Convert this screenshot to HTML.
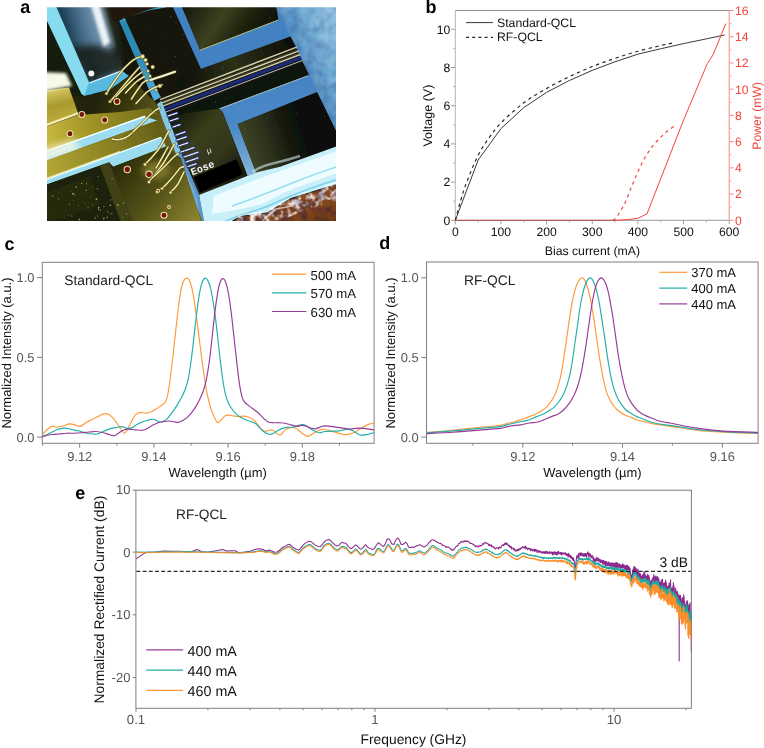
<!DOCTYPE html>
<html><head><meta charset="utf-8"><title>figure</title>
<style>
html,body{margin:0;padding:0;background:#fff;}
svg{display:block;font-family:"Liberation Sans",sans-serif;will-change:transform;}
text{text-rendering:geometricPrecision;}
</style></head><body>
<svg width="764" height="748" viewBox="0 0 764 748">
<rect x="0" y="0" width="764" height="748" fill="#ffffff"/>
<defs>
<clipPath id="clipA"><rect x="47" y="7.2" width="289" height="213.8"/></clipPath>
<filter id="bl1" x="-5%" y="-5%" width="110%" height="110%"><feGaussianBlur stdDeviation="0.7"/></filter>
<filter id="bl2" x="-40%" y="-10%" width="180%" height="120%"><feGaussianBlur stdDeviation="1.8"/></filter>
<filter id="bl3" x="-20%" y="-20%" width="140%" height="140%"><feGaussianBlur stdDeviation="3"/></filter>
<filter id="bl6" x="-30%" y="-30%" width="160%" height="160%"><feGaussianBlur stdDeviation="6"/></filter>
<linearGradient id="gSub" gradientUnits="userSpaceOnUse" x1="287" y1="30" x2="326" y2="11.5"><stop offset="0" stop-color="#4a87bd"/><stop offset="0.3" stop-color="#5f9dcb"/><stop offset="0.7" stop-color="#79b2d8"/><stop offset="1" stop-color="#86bcdd"/></linearGradient>
<linearGradient id="gGoldL" x1="0" y1="0" x2="1" y2="0.4"><stop offset="0" stop-color="#e8d860"/><stop offset="0.35" stop-color="#b9a832"/><stop offset="1" stop-color="#8d8222"/></linearGradient>
<linearGradient id="gOlive" gradientUnits="userSpaceOnUse" x1="118" y1="165" x2="195" y2="222"><stop offset="0" stop-color="#2c2c0a"/><stop offset="0.5" stop-color="#535117"/><stop offset="1" stop-color="#8a8430"/></linearGradient>
<linearGradient id="gPadT" x1="0" y1="0" x2="1" y2="0.3"><stop offset="0" stop-color="#11140a"/><stop offset="0.45" stop-color="#3c4220"/><stop offset="0.7" stop-color="#20240e"/><stop offset="1" stop-color="#0d0f06"/></linearGradient>
<linearGradient id="gPadB" gradientUnits="userSpaceOnUse" x1="238" y1="150" x2="335" y2="120"><stop offset="0" stop-color="#454c2c"/><stop offset="0.3" stop-color="#2c311b"/><stop offset="0.55" stop-color="#12140b"/><stop offset="1" stop-color="#06070a"/></linearGradient>
<linearGradient id="gCu" x1="0" y1="0" x2="1" y2="1"><stop offset="0" stop-color="#b8693a"/><stop offset="0.5" stop-color="#8a4a1f"/><stop offset="1" stop-color="#6b3812"/></linearGradient>
<linearGradient id="gTL" gradientUnits="userSpaceOnUse" x1="56" y1="40" x2="121" y2="22"><stop offset="0" stop-color="#193747"/><stop offset="0.2" stop-color="#1f4257"/><stop offset="0.37" stop-color="#3f6480"/><stop offset="0.55" stop-color="#5f83a0"/><stop offset="0.72" stop-color="#7d9db6"/><stop offset="0.8" stop-color="#5a6f7c"/><stop offset="0.86" stop-color="#22281e"/><stop offset="1" stop-color="#17190d"/></linearGradient>
<linearGradient id="gLB" gradientUnits="userSpaceOnUse" x1="60" y1="100" x2="160" y2="130"><stop offset="0" stop-color="#2a2a0c"/><stop offset="0.3" stop-color="#1f200a"/><stop offset="0.7" stop-color="#403d11"/><stop offset="1" stop-color="#665f1a"/></linearGradient>
<linearGradient id="gBlock" gradientUnits="userSpaceOnUse" x1="40" y1="88" x2="50" y2="128"><stop offset="0" stop-color="#e2d66e"/><stop offset="0.5" stop-color="#a89a2e"/><stop offset="1" stop-color="#c2b240"/></linearGradient>
<linearGradient id="gTr1" gradientUnits="userSpaceOnUse" x1="40" y1="140" x2="160" y2="110"><stop offset="0" stop-color="#cdbe44"/><stop offset="0.4" stop-color="#a39628"/><stop offset="1" stop-color="#6d681a"/></linearGradient>
<linearGradient id="gTr2" gradientUnits="userSpaceOnUse" x1="40" y1="170" x2="165" y2="128"><stop offset="0" stop-color="#b8aa38"/><stop offset="0.5" stop-color="#8f8624"/><stop offset="1" stop-color="#5f5c16"/></linearGradient>
<filter id="grain" x="0" y="0" width="100%" height="100%"><feTurbulence type="fractalNoise" baseFrequency="0.09" numOctaves="3" seed="4" result="n"/><feColorMatrix in="n" type="matrix" values="0 0 0 0 1  0 0 0 0 1  0 0 0 0 1  0 0 0 1.6 -0.55" result="a"/><feComposite in="a" in2="SourceGraphic" operator="in"/></filter>
<filter id="grainD" x="0" y="0" width="100%" height="100%"><feTurbulence type="fractalNoise" baseFrequency="0.12" numOctaves="2" seed="9" result="n"/><feColorMatrix in="n" type="matrix" values="0 0 0 0 0  0 0 0 0 0  0 0 0 0 0.1  0 0 0 1.8 -0.7" result="a"/><feComposite in="a" in2="SourceGraphic" operator="in"/></filter>
<linearGradient id="gMid" gradientUnits="userSpaceOnUse" x1="175" y1="120" x2="235" y2="175"><stop offset="0" stop-color="#1a1d0c"/><stop offset="0.35" stop-color="#3a3e1a"/><stop offset="0.7" stop-color="#33361a"/><stop offset="1" stop-color="#1c1e0e"/></linearGradient>
<linearGradient id="gBand" gradientUnits="userSpaceOnUse" x1="185" y1="85" x2="295" y2="42"><stop offset="0" stop-color="#101208"/><stop offset="0.45" stop-color="#2b3118"/><stop offset="0.75" stop-color="#1a1d0e"/><stop offset="1" stop-color="#0c0d08"/></linearGradient>
<linearGradient id="gTr" gradientUnits="userSpaceOnUse" x1="240" y1="80" x2="252" y2="176"><stop offset="0" stop-color="#4382c2"/><stop offset="0.5" stop-color="#4c8ac8"/><stop offset="0.8" stop-color="#6fa3d0"/><stop offset="1" stop-color="#8ab8e0"/></linearGradient>
<filter id="grain2" x="0" y="0" width="100%" height="100%"><feTurbulence type="fractalNoise" baseFrequency="0.16" numOctaves="2" seed="21" result="n"/><feColorMatrix in="n" type="matrix" values="0 0 0 0 1  0 0 0 0 1  0 0 0 0 1  0 0 0 3.2 -1.35" result="a"/><feComposite in="a" in2="SourceGraphic" operator="in"/></filter>
<linearGradient id="gEdge" gradientUnits="userSpaceOnUse" x1="122" y1="20" x2="158" y2="100"><stop offset="0" stop-color="#2a86b2"/><stop offset="0.5" stop-color="#2f8ebc"/><stop offset="1" stop-color="#56b0de"/></linearGradient>
</defs>
<g id="panel-a" clip-path="url(#clipA)">
<g filter="url(#bl1)">
<rect x="40" y="0" width="305" height="230" fill="#15170a"/>
<polygon points="40,0 175,0 150,9 120,20 123,72 90,96 40,30" fill="url(#gTL)"/>
<polygon points="70,47 98,45 108,50 124,42 124,71 89.1,83.5 80,66" fill="#161c14" opacity="0.85" filter="url(#bl3)"/>
<polygon points="90.5,4 99,4 110,42 103.5,47" fill="#f2f7fb" opacity="0.95" filter="url(#bl2)"/>
<polygon points="40,7 40.4,7 81.5,94 60,110 40,110" fill="#141f0e"/>
<polygon points="107,0 175,0 150,9.2 120.6,20 113,21" fill="#24160a"/>
<circle cx="91.3" cy="73.5" r="3.0" fill="#ffffff" opacity="0.95"/>
<polygon points="39.5,5 55.5,5 89.4,83 84.5,96 81.5,94" fill="#86dcee"/>
<polygon points="89.2,82.6 121.7,70.6 129,76 110,89.5 84,96" fill="#56b9dd"/>
<path d="M89.5 82.9L121 71.2" stroke="#eafaff" stroke-width="1.3" fill="none" opacity="0.85"/>
<polygon points="119.2,21 124.8,17.6 161,97 154,101" fill="url(#gEdge)"/>
<polygon points="120,20.6 149,9.6 166,5 167,7 150,11.4 121,22" fill="#3e9cc4"/>
<polygon points="125,18 150,10 172,7 197,67 160,96" fill="#16190b"/>
<polygon points="181,5 276.5,5 278.4,19.9 199.9,50.3" fill="url(#gPadT)"/>
<polygon points="172,5 181,5 200,50.3 278.4,19.9 276,5 278,5 292,36.2 201,69" fill="#4382c2"/>
<path d="M200 50.3L278.4 19.9" stroke="#c9c98a" stroke-width="0.9" fill="none"/>
<polygon points="275.3,5 345,5 345,150 336,131" fill="url(#gSub)"/>
<polygon points="201,69 290.5,36.6 296,47 180,92 175,80" fill="url(#gBand)"/>
<path d="M160 99.6L297.3 46.9" stroke="#d2cca6" stroke-width="1.5" fill="none"/>
<path d="M160 102L298.3 49.3" stroke="#4a4a30" stroke-width="0.9" fill="none"/>
<path d="M160 103.6L299 50.9" stroke="#d8d2ac" stroke-width="1.5" fill="none"/>
<path d="M160 105.6L299.8 52.9" stroke="#55533a" stroke-width="0.8" fill="none"/>
<path d="M160 107.2L300.3 54.5" stroke="#d2cca6" stroke-width="1.4" fill="none"/>
<path d="M161 110.5L301.2 57.6" stroke="#1b2a7a" stroke-width="3.2" fill="none"/>
<path d="M162 113.5L302 60.6" stroke="#c8cce0" stroke-width="0.9" fill="none"/>
<polygon points="165,116 302.6,62.5 308.8,75.4 218.7,109 215,122 175,135" fill="#101208"/>
<polygon points="218.7,108.5 310.2,74.6 318.4,91.7 237.7,124 256,172.5 247.5,176 222.6,112" fill="url(#gTr)"/>
<path d="M219 109L308 75.8" stroke="#b9c7c0" stroke-width="0.8" fill="none"/>
<polygon points="237.7,124 316.6,92.3 338,135 345,143.2 280,166.8 256,172.5" fill="url(#gPadB)"/>
<polygon points="165,116 219.5,108.5 222.6,112 247.5,176 200,195 190,170" fill="url(#gMid)"/>
<polygon points="199,195 256,172.5 280,166.8 345,143.2 345,182 336,184 291,198 267,212.5 240,216 225,225 204,225" fill="#c9eff8"/>
<polygon points="214,196 258,179 300,164 345,148 345,170 290,190 262,204 236,210 212,214" fill="#f2fdff" opacity="0.92"/>
<path d="M232 206C250 200 275 190 300 180C315 174 330 169 345 164" stroke="#7fd6ee" stroke-width="1.6" fill="none" opacity="0.8"/>
<path d="M224 222C240 214 262 210 275 203C290 196 315 186 345 177" stroke="#6ccbe8" stroke-width="1.6" fill="none" opacity="0.8"/>
<path d="M253 172C262 164 280 163 300 156" stroke="#cfe6ea" stroke-width="2.6" fill="none" opacity="0.6"/>
<polygon points="222,230 240,217 267,213 291,199 336,185 345,182.5 345,230" fill="url(#gCu)"/>
<path d="M262 221L276 209L292 206L301 198" stroke="#f0dcd2" stroke-width="1.6" fill="none" opacity="0.8"/>
<polygon points="157,104 161.5,101 181,152 174,155" fill="#86c8e6"/>
<polygon points="174,155 181,152 199,194 206,230 196,230 186,186" fill="#5c96c8"/>
<path d="M178 155L196 198L201 228" stroke="#86b8dc" stroke-width="1.6" fill="none" opacity="0.8"/>
<polygon points="193.6,177 236.5,159.2 242.8,173.9 199.9,192.7" fill="#000000"/>
<polygon points="40,97 85,96.5 110,90 129,76 156,103 204,225 40,225" fill="url(#gLB)"/>
<polygon points="40,91 69,87.5 78,113 40,127" fill="url(#gBlock)"/>
<polygon points="40,72 66,73 72,86 40,92" fill="#ffffee" opacity="0.97" filter="url(#bl2)"/>
<path d="M40 127.5L78 113.4" stroke="#fff6b8" stroke-width="2.2" fill="none" opacity="0.95"/>
<polygon points="40,129 78,115 120,112 150,108 158,114 144.7,116.5 40,153.6" fill="url(#gTr1)"/>
<polygon points="40,153.4 144.7,116.3 157.3,120.5 40,163" fill="#9bdcf0"/>
<path d="M40 153.4L145 116.2" stroke="#f6ffff" stroke-width="1.5" fill="none"/>
<polygon points="40,150 75,139 80,150 40,164" fill="#fffbe0" opacity="0.75" filter="url(#bl3)"/>
<polygon points="40,163 157.3,120.5 163,137 40,182" fill="url(#gTr2)"/>
<path d="M40 180.6L120 151.5" stroke="#f2ecb0" stroke-width="1.4" fill="none" opacity="0.8"/>
<polygon points="40,181.8 161.5,137.2 166,146.4 113.3,166.8 109,162.2 40,187" fill="#9bdcf0"/>
<path d="M40 181.8L161 137.4" stroke="#f6ffff" stroke-width="1.2" fill="none"/>
<polygon points="109,162.4 113.3,166.8 166,146.4 181,158 204,230 135,230" fill="url(#gOlive)"/>
<ellipse cx="156" cy="170" rx="14" ry="9" fill="#b0a440" opacity="0.5" filter="url(#bl3)"/>
<polygon points="40,187 109,162.4 134,225 40,225" fill="#1d210a"/>
<polygon points="100,166 109,162.4 134,225 122,225" fill="#45471a" opacity="0.9"/>
<polygon points="40,195 90,176 100,205 40,225" fill="#2c3010" opacity="0.7"/>
</g>
<polygon points="275.3,5 345,5 345,150 336,131" fill="#ffffff" filter="url(#grain)" opacity="0.22"/>
<polygon points="275.3,5 345,5 345,150 336,131" fill="#1a4a80" filter="url(#grainD)" opacity="0.2"/>
<polygon points="222,230 240,215 267,210 291,196 336,182 345,179 345,198 300,212 272,225 250,230" fill="#fff6f4" filter="url(#grain2)" opacity="0.95"/>
<polygon points="222,230 240,217 267,213 291,199 336,185 345,182.5 345,230" fill="#3a1a08" filter="url(#grainD)" opacity="0.5"/>
<circle cx="98.59" cy="207.61" r="0.79" fill="#b9b85a" opacity="0.92"/>
<circle cx="107.71" cy="216.27" r="0.37" fill="#b9b85a" opacity="0.71"/>
<circle cx="123.58" cy="203.15" r="0.85" fill="#b9b85a" opacity="0.55"/>
<circle cx="86.59" cy="183.84" r="0.65" fill="#b9b85a" opacity="0.76"/>
<circle cx="71.8" cy="215.98" r="0.77" fill="#b9b85a" opacity="0.57"/>
<circle cx="112.18" cy="178.66" r="0.69" fill="#b9b85a" opacity="0.56"/>
<circle cx="50.14" cy="213.83" r="0.47" fill="#b9b85a" opacity="0.6"/>
<circle cx="126.63" cy="213.88" r="0.51" fill="#b9b85a" opacity="0.93"/>
<circle cx="92.06" cy="204.54" r="0.46" fill="#b9b85a" opacity="0.92"/>
<circle cx="103.87" cy="218.4" r="0.84" fill="#b9b85a" opacity="0.63"/>
<circle cx="73.51" cy="200.95" r="0.35" fill="#b9b85a" opacity="0.81"/>
<circle cx="76.36" cy="186.88" r="0.8" fill="#b9b85a" opacity="0.72"/>
<circle cx="74.63" cy="195.1" r="0.74" fill="#b9b85a" opacity="0.53"/>
<circle cx="108.48" cy="212.55" r="0.36" fill="#b9b85a" opacity="0.85"/>
<circle cx="78.56" cy="199.77" r="0.35" fill="#b9b85a" opacity="0.52"/>
<circle cx="64.11" cy="217.85" r="0.46" fill="#b9b85a" opacity="0.84"/>
<circle cx="122.51" cy="217.22" r="0.54" fill="#b9b85a" opacity="0.66"/>
<circle cx="90.93" cy="209.23" r="0.41" fill="#b9b85a" opacity="0.84"/>
<circle cx="112.18" cy="213.27" r="0.37" fill="#b9b85a" opacity="0.93"/>
<circle cx="97.64" cy="216.07" r="0.54" fill="#b9b85a" opacity="0.92"/>
<circle cx="92.52" cy="187" r="0.52" fill="#b9b85a" opacity="0.58"/>
<circle cx="103.76" cy="219.84" r="0.44" fill="#b9b85a" opacity="0.52"/>
<circle cx="81.66" cy="183.39" r="0.68" fill="#b9b85a" opacity="0.87"/>
<circle cx="85.54" cy="192.24" r="0.38" fill="#b9b85a" opacity="0.91"/>
<circle cx="52.55" cy="195.69" r="0.81" fill="#b9b85a" opacity="0.56"/>
<circle cx="107.07" cy="217.59" r="0.7" fill="#b9b85a" opacity="0.85"/>
<circle cx="58.32" cy="192.86" r="0.43" fill="#b9b85a" opacity="0.88"/>
<circle cx="73" cy="193.75" r="0.9" fill="#b9b85a" opacity="0.88"/>
<circle cx="88.08" cy="207.02" r="0.61" fill="#b9b85a" opacity="0.63"/>
<circle cx="79.41" cy="219.44" r="0.88" fill="#b9b85a" opacity="0.78"/>
<circle cx="88.95" cy="188.25" r="0.4" fill="#b9b85a" opacity="0.62"/>
<circle cx="111" cy="213.63" r="0.55" fill="#b9b85a" opacity="0.85"/>
<circle cx="110.44" cy="205.34" r="0.72" fill="#b9b85a" opacity="0.84"/>
<circle cx="78.35" cy="205.81" r="0.5" fill="#b9b85a" opacity="0.72"/>
<circle cx="110.04" cy="205.16" r="0.51" fill="#b9b85a" opacity="0.93"/>
<circle cx="100.68" cy="199.87" r="0.36" fill="#b9b85a" opacity="0.75"/>
<circle cx="69.55" cy="204.24" r="0.6" fill="#b9b85a" opacity="0.87"/>
<circle cx="100.5" cy="210.29" r="0.54" fill="#b9b85a" opacity="0.79"/>
<circle cx="107.55" cy="211.75" r="0.54" fill="#b9b85a" opacity="0.88"/>
<circle cx="117.85" cy="205.04" r="0.89" fill="#b9b85a" opacity="0.93"/>
<circle cx="90.41" cy="197.41" r="0.44" fill="#b9b85a" opacity="0.88"/>
<circle cx="103.93" cy="206.54" r="0.75" fill="#b9b85a" opacity="0.58"/>
<circle cx="110.87" cy="199.88" r="0.72" fill="#b9b85a" opacity="0.69"/>
<circle cx="98.65" cy="209.19" r="0.7" fill="#b9b85a" opacity="0.82"/>
<circle cx="84.4" cy="203.21" r="0.47" fill="#b9b85a" opacity="0.81"/>
<circle cx="86.78" cy="182.86" r="0.38" fill="#b9b85a" opacity="0.56"/>
<circle cx="86.3" cy="190.25" r="0.69" fill="#b9b85a" opacity="0.77"/>
<circle cx="68.55" cy="215.35" r="0.35" fill="#b9b85a" opacity="0.68"/>
<circle cx="71.73" cy="191.68" r="0.41" fill="#b9b85a" opacity="0.87"/>
<circle cx="97.86" cy="176.55" r="0.65" fill="#b9b85a" opacity="0.65"/>
<circle cx="95.31" cy="218" r="0.8" fill="#b9b85a" opacity="0.69"/>
<circle cx="113.41" cy="202.83" r="0.55" fill="#b9b85a" opacity="0.56"/>
<circle cx="96.48" cy="199.07" r="0.88" fill="#b9b85a" opacity="0.94"/>
<circle cx="97.47" cy="188.85" r="0.84" fill="#b9b85a" opacity="0.5"/>
<circle cx="58.42" cy="199.16" r="0.69" fill="#b9b85a" opacity="0.56"/>
<circle cx="255.89" cy="152.61" r="0.41" fill="#9aa88a" opacity="0.47"/>
<circle cx="175.27" cy="56.64" r="0.59" fill="#9aa88a" opacity="0.45"/>
<circle cx="322.23" cy="156.2" r="0.48" fill="#9aa88a" opacity="0.4"/>
<circle cx="326.2" cy="89.41" r="0.42" fill="#9aa88a" opacity="0.43"/>
<circle cx="326.86" cy="88.68" r="0.39" fill="#9aa88a" opacity="0.49"/>
<circle cx="154.38" cy="109.47" r="0.43" fill="#9aa88a" opacity="0.42"/>
<circle cx="286.34" cy="142.29" r="0.3" fill="#9aa88a" opacity="0.51"/>
<circle cx="184.76" cy="159.64" r="0.53" fill="#9aa88a" opacity="0.4"/>
<circle cx="183.54" cy="34.76" r="0.6" fill="#9aa88a" opacity="0.42"/>
<circle cx="251.61" cy="85.94" r="0.49" fill="#9aa88a" opacity="0.54"/>
<circle cx="278.69" cy="28.91" r="0.53" fill="#9aa88a" opacity="0.42"/>
<circle cx="236.7" cy="63.78" r="0.39" fill="#9aa88a" opacity="0.51"/>
<circle cx="222.87" cy="67.77" r="0.52" fill="#9aa88a" opacity="0.54"/>
<circle cx="137.29" cy="50.39" r="0.44" fill="#9aa88a" opacity="0.67"/>
<circle cx="307.59" cy="97.29" r="0.3" fill="#9aa88a" opacity="0.61"/>
<circle cx="215.55" cy="102.1" r="0.51" fill="#9aa88a" opacity="0.55"/>
<circle cx="226.38" cy="155.87" r="0.42" fill="#9aa88a" opacity="0.46"/>
<circle cx="300.38" cy="41.43" r="0.39" fill="#9aa88a" opacity="0.63"/>
<circle cx="143.21" cy="143.8" r="0.51" fill="#9aa88a" opacity="0.47"/>
<circle cx="187.27" cy="134.92" r="0.57" fill="#9aa88a" opacity="0.36"/>
<circle cx="225.68" cy="97.86" r="0.45" fill="#9aa88a" opacity="0.43"/>
<circle cx="160.71" cy="103.74" r="0.54" fill="#9aa88a" opacity="0.33"/>
<circle cx="176" cy="141.13" r="0.54" fill="#9aa88a" opacity="0.57"/>
<circle cx="135.11" cy="125.62" r="0.59" fill="#9aa88a" opacity="0.7"/>
<circle cx="270.25" cy="17.82" r="0.55" fill="#9aa88a" opacity="0.39"/>
<circle cx="259.15" cy="162.36" r="0.51" fill="#9aa88a" opacity="0.35"/>
<circle cx="188.5" cy="156.88" r="0.34" fill="#9aa88a" opacity="0.54"/>
<circle cx="212.79" cy="35.79" r="0.49" fill="#9aa88a" opacity="0.32"/>
<circle cx="151.64" cy="70.67" r="0.32" fill="#9aa88a" opacity="0.32"/>
<circle cx="245.05" cy="128.77" r="0.56" fill="#9aa88a" opacity="0.35"/>
<circle cx="216.33" cy="60.33" r="0.48" fill="#9aa88a" opacity="0.5"/>
<circle cx="317.71" cy="69.87" r="0.32" fill="#9aa88a" opacity="0.58"/>
<circle cx="160.22" cy="111.02" r="0.45" fill="#9aa88a" opacity="0.66"/>
<circle cx="240.98" cy="109.34" r="0.38" fill="#9aa88a" opacity="0.52"/>
<circle cx="180.84" cy="130.09" r="0.46" fill="#9aa88a" opacity="0.35"/>
<circle cx="176.88" cy="69.39" r="0.52" fill="#9aa88a" opacity="0.37"/>
<circle cx="272.66" cy="114.8" r="0.33" fill="#9aa88a" opacity="0.57"/>
<circle cx="148.24" cy="29.97" r="0.48" fill="#9aa88a" opacity="0.4"/>
<circle cx="305.39" cy="86.87" r="0.4" fill="#9aa88a" opacity="0.62"/>
<circle cx="135.89" cy="126" r="0.32" fill="#9aa88a" opacity="0.36"/>
<circle cx="320.41" cy="118.98" r="0.37" fill="#9aa88a" opacity="0.35"/>
<circle cx="324.54" cy="116.41" r="0.55" fill="#9aa88a" opacity="0.36"/>
<circle cx="254.96" cy="66.69" r="0.37" fill="#9aa88a" opacity="0.43"/>
<circle cx="252.75" cy="65.79" r="0.42" fill="#9aa88a" opacity="0.35"/>
<circle cx="296.22" cy="113.66" r="0.54" fill="#9aa88a" opacity="0.47"/>
<circle cx="300.32" cy="92.8" r="0.48" fill="#9aa88a" opacity="0.53"/>
<circle cx="278.03" cy="73.28" r="0.33" fill="#9aa88a" opacity="0.31"/>
<circle cx="170.48" cy="16.31" r="0.57" fill="#9aa88a" opacity="0.49"/>
<circle cx="282.07" cy="10.07" r="0.44" fill="#9aa88a" opacity="0.66"/>
<circle cx="253.89" cy="78.58" r="0.44" fill="#9aa88a" opacity="0.34"/>
<circle cx="160.93" cy="35.45" r="0.41" fill="#9aa88a" opacity="0.45"/>
<circle cx="306.07" cy="34.34" r="0.38" fill="#9aa88a" opacity="0.41"/>
<circle cx="162.31" cy="55.93" r="0.37" fill="#9aa88a" opacity="0.49"/>
<circle cx="136.42" cy="157.92" r="0.41" fill="#9aa88a" opacity="0.68"/>
<circle cx="267.54" cy="117.81" r="0.44" fill="#9aa88a" opacity="0.68"/>
<circle cx="153.58" cy="116.97" r="0.39" fill="#9aa88a" opacity="0.57"/>
<circle cx="275.86" cy="36.12" r="0.36" fill="#9aa88a" opacity="0.31"/>
<circle cx="176.09" cy="22.51" r="0.42" fill="#9aa88a" opacity="0.69"/>
<circle cx="202.85" cy="59.89" r="0.44" fill="#9aa88a" opacity="0.41"/>
<circle cx="276.47" cy="124.87" r="0.35" fill="#9aa88a" opacity="0.4"/>
<circle cx="117" cy="101.5" r="3" fill="#7a1410" stroke="#e8e0a0" stroke-width="1.1"/>
<circle cx="81.8" cy="114.5" r="3" fill="#7a1410" stroke="#e8e0a0" stroke-width="1.1"/>
<circle cx="104.7" cy="120" r="3" fill="#7a1410" stroke="#e8e0a0" stroke-width="1.1"/>
<circle cx="70" cy="133.8" r="3" fill="#7a1410" stroke="#e8e0a0" stroke-width="1.1"/>
<circle cx="127.3" cy="169.5" r="3.2" fill="#7a1410" stroke="#e8e0a0" stroke-width="1.1"/>
<circle cx="149" cy="174.3" r="3.2" fill="#7a1410" stroke="#e8e0a0" stroke-width="1.1"/>
<circle cx="164" cy="215.3" r="3" fill="#7a1410" stroke="#e8e0a0" stroke-width="1.1"/>
<circle cx="158" cy="191" r="1.6" fill="#7a1410" stroke="#e8e0a0" stroke-width="1.1"/>
<circle cx="169" cy="207" r="1.4" fill="#7a1410" stroke="#e8e0a0" stroke-width="1.1"/>
<path d="M106.8 93C111 86 115 80 118.6 75.3C122 70 126 66 130.3 62.4C134 59 138 57 142 56.5" stroke="#4a4210" stroke-width="2.8" fill="none" opacity="0.65" stroke-linecap="round"/>
<path d="M106.8 93C111 86 115 80 118.6 75.3C122 70 126 66 130.3 62.4C134 59 138 57 142 56.5" stroke="#e9dc8a" stroke-width="1.5" fill="none" stroke-linecap="round"/>
<path d="M106.8 93C111 86 115 80 118.6 75.3C122 70 126 66 130.3 62.4C134 59 138 57 142 56.5" stroke="#fffbe0" stroke-width="0.6" fill="none" stroke-linecap="round" opacity="0.9"/>
<path d="M110.3 101.2C115 96 120 90 124.4 84.8C130 78 135 72 139.8 67" stroke="#4a4210" stroke-width="2.8" fill="none" opacity="0.65" stroke-linecap="round"/>
<path d="M110.3 101.2C115 96 120 90 124.4 84.8C130 78 135 72 139.8 67" stroke="#e9dc8a" stroke-width="1.5" fill="none" stroke-linecap="round"/>
<path d="M110.3 101.2C115 96 120 90 124.4 84.8C130 78 135 72 139.8 67" stroke="#fffbe0" stroke-width="0.6" fill="none" stroke-linecap="round" opacity="0.9"/>
<path d="M116 96.5C121 91 126 86 130 82C134 78 138 75 142 72" stroke="#4a4210" stroke-width="2.8" fill="none" opacity="0.65" stroke-linecap="round"/>
<path d="M116 96.5C121 91 126 86 130 82C134 78 138 75 142 72" stroke="#e9dc8a" stroke-width="1.5" fill="none" stroke-linecap="round"/>
<path d="M116 96.5C121 91 126 86 130 82C134 78 138 75 142 72" stroke="#fffbe0" stroke-width="0.6" fill="none" stroke-linecap="round" opacity="0.9"/>
<path d="M125.6 93C129 89 133 85 136 82C139 79.5 142 78 144.5 76.5" stroke="#4a4210" stroke-width="2.8" fill="none" opacity="0.65" stroke-linecap="round"/>
<path d="M125.6 93C129 89 133 85 136 82C139 79.5 142 78 144.5 76.5" stroke="#e9dc8a" stroke-width="1.5" fill="none" stroke-linecap="round"/>
<path d="M125.6 93C129 89 133 85 136 82C139 79.5 142 78 144.5 76.5" stroke="#fffbe0" stroke-width="0.6" fill="none" stroke-linecap="round" opacity="0.9"/>
<path d="M131.5 99C135 93 139 88 142 83.6C144 81.5 146 80.5 148 80" stroke="#4a4210" stroke-width="2.8" fill="none" opacity="0.65" stroke-linecap="round"/>
<path d="M131.5 99C135 93 139 88 142 83.6C144 81.5 146 80.5 148 80" stroke="#e9dc8a" stroke-width="1.5" fill="none" stroke-linecap="round"/>
<path d="M131.5 99C135 93 139 88 142 83.6C144 81.5 146 80.5 148 80" stroke="#fffbe0" stroke-width="0.6" fill="none" stroke-linecap="round" opacity="0.9"/>
<path d="M136 103.6C140 99 144 95 147 92C150 89.5 153 88 156 87C158 86 160 85.4 162 84.8" stroke="#4a4210" stroke-width="2.8" fill="none" opacity="0.65" stroke-linecap="round"/>
<path d="M136 103.6C140 99 144 95 147 92C150 89.5 153 88 156 87C158 86 160 85.4 162 84.8" stroke="#e9dc8a" stroke-width="1.5" fill="none" stroke-linecap="round"/>
<path d="M136 103.6C140 99 144 95 147 92C150 89.5 153 88 156 87C158 86 160 85.4 162 84.8" stroke="#fffbe0" stroke-width="0.6" fill="none" stroke-linecap="round" opacity="0.9"/>
<path d="M125 138.8C130 135 134 131 138.4 126.7C143 122 148 117 151.7 113.4C154 111 157 109 159.8 108" stroke="#4a4210" stroke-width="2.8" fill="none" opacity="0.65" stroke-linecap="round"/>
<path d="M125 138.8C130 135 134 131 138.4 126.7C143 122 148 117 151.7 113.4C154 111 157 109 159.8 108" stroke="#e9dc8a" stroke-width="1.5" fill="none" stroke-linecap="round"/>
<path d="M125 138.8C130 135 134 131 138.4 126.7C143 122 148 117 151.7 113.4C154 111 157 109 159.8 108" stroke="#fffbe0" stroke-width="0.6" fill="none" stroke-linecap="round" opacity="0.9"/>
<path d="M112 139C118 141 126 139 132 133" stroke="#4a4210" stroke-width="2.8" fill="none" opacity="0.65" stroke-linecap="round"/>
<path d="M112 139C118 141 126 139 132 133" stroke="#e9dc8a" stroke-width="1.5" fill="none" stroke-linecap="round"/>
<path d="M112 139C118 141 126 139 132 133" stroke="#fffbe0" stroke-width="0.6" fill="none" stroke-linecap="round" opacity="0.9"/>
<path d="M145 164C150 160 154 155 158 150C161 146 164 140 166 136C167 134 168 132 169 130.7" stroke="#4a4210" stroke-width="2.8" fill="none" opacity="0.65" stroke-linecap="round"/>
<path d="M145 164C150 160 154 155 158 150C161 146 164 140 166 136C167 134 168 132 169 130.7" stroke="#e9dc8a" stroke-width="1.5" fill="none" stroke-linecap="round"/>
<path d="M145 164C150 160 154 155 158 150C161 146 164 140 166 136C167 134 168 132 169 130.7" stroke="#fffbe0" stroke-width="0.6" fill="none" stroke-linecap="round" opacity="0.9"/>
<path d="M149 181.5C153 177 157 172 160 168C164 163 167 157 170 152C171.5 149 173 146 174.5 144" stroke="#4a4210" stroke-width="2.8" fill="none" opacity="0.65" stroke-linecap="round"/>
<path d="M149 181.5C153 177 157 172 160 168C164 163 167 157 170 152C171.5 149 173 146 174.5 144" stroke="#e9dc8a" stroke-width="1.5" fill="none" stroke-linecap="round"/>
<path d="M149 181.5C153 177 157 172 160 168C164 163 167 157 170 152C171.5 149 173 146 174.5 144" stroke="#fffbe0" stroke-width="0.6" fill="none" stroke-linecap="round" opacity="0.9"/>
<path d="M152 178C157 174 161 170 165 166C169 162 172 158.5 175 156C176 155 177.5 154 178.5 153.5" stroke="#4a4210" stroke-width="2.8" fill="none" opacity="0.65" stroke-linecap="round"/>
<path d="M152 178C157 174 161 170 165 166C169 162 172 158.5 175 156C176 155 177.5 154 178.5 153.5" stroke="#e9dc8a" stroke-width="1.5" fill="none" stroke-linecap="round"/>
<path d="M152 178C157 174 161 170 165 166C169 162 172 158.5 175 156C176 155 177.5 154 178.5 153.5" stroke="#fffbe0" stroke-width="0.6" fill="none" stroke-linecap="round" opacity="0.9"/>
<path d="M162.4 188C166 185 169 181.5 172 178C175 174.5 178 170.5 180 168C181 167.3 182.5 167 183.8 166.8" stroke="#4a4210" stroke-width="2.8" fill="none" opacity="0.65" stroke-linecap="round"/>
<path d="M162.4 188C166 185 169 181.5 172 178C175 174.5 178 170.5 180 168C181 167.3 182.5 167 183.8 166.8" stroke="#e9dc8a" stroke-width="1.5" fill="none" stroke-linecap="round"/>
<path d="M162.4 188C166 185 169 181.5 172 178C175 174.5 178 170.5 180 168C181 167.3 182.5 167 183.8 166.8" stroke="#fffbe0" stroke-width="0.6" fill="none" stroke-linecap="round" opacity="0.9"/>
<path d="M170.5 192C173 190 176 187 178 184C180 180.5 182 176 184 172" stroke="#4a4210" stroke-width="2.8" fill="none" opacity="0.65" stroke-linecap="round"/>
<path d="M170.5 192C173 190 176 187 178 184C180 180.5 182 176 184 172" stroke="#e9dc8a" stroke-width="1.5" fill="none" stroke-linecap="round"/>
<path d="M170.5 192C173 190 176 187 178 184C180 180.5 182 176 184 172" stroke="#fffbe0" stroke-width="0.6" fill="none" stroke-linecap="round" opacity="0.9"/>
<path d="M156 168C160 162 164 154 168 147" stroke="#4a4210" stroke-width="2.8" fill="none" opacity="0.65" stroke-linecap="round"/>
<path d="M156 168C160 162 164 154 168 147" stroke="#e9dc8a" stroke-width="1.5" fill="none" stroke-linecap="round"/>
<path d="M156 168C160 162 164 154 168 147" stroke="#fffbe0" stroke-width="0.6" fill="none" stroke-linecap="round" opacity="0.9"/>
<path d="M150.4 80C158 77.5 166 75 175 71.8" stroke="#4a4210" stroke-width="3.6" fill="none" opacity="0.6" stroke-linecap="round"/>
<path d="M150.4 80C158 77.5 166 75 175 71.8" stroke="#f8f2d0" stroke-width="2.2" fill="none" stroke-linecap="round"/>
<circle cx="142.5" cy="56.5" r="2.2" fill="#f3e9a8" stroke="#5a4f14" stroke-width="0.6"/>
<circle cx="145.5" cy="60" r="2" fill="#f3e9a8" stroke="#5a4f14" stroke-width="0.6"/>
<circle cx="147" cy="64" r="1.8" fill="#f3e9a8" stroke="#5a4f14" stroke-width="0.6"/>
<circle cx="152.7" cy="67" r="2" fill="#f3e9a8" stroke="#5a4f14" stroke-width="0.6"/>
<circle cx="148" cy="71" r="1.6" fill="#f3e9a8" stroke="#5a4f14" stroke-width="0.6"/>
<circle cx="150" cy="76" r="1.6" fill="#f3e9a8" stroke="#5a4f14" stroke-width="0.6"/>
<circle cx="159.8" cy="86" r="2" fill="#f3e9a8" stroke="#5a4f14" stroke-width="0.6"/>
<circle cx="156" cy="90" r="1.5" fill="#f3e9a8" stroke="#5a4f14" stroke-width="0.6"/>
<circle cx="106.5" cy="93.5" r="1.6" fill="#f3e9a8" stroke="#5a4f14" stroke-width="0.6"/>
<circle cx="110" cy="101.5" r="1.6" fill="#f3e9a8" stroke="#5a4f14" stroke-width="0.6"/>
<circle cx="145" cy="164.5" r="1.7" fill="#f3e9a8" stroke="#5a4f14" stroke-width="0.6"/>
<circle cx="149" cy="182" r="1.7" fill="#f3e9a8" stroke="#5a4f14" stroke-width="0.6"/>
<circle cx="162" cy="188.5" r="1.6" fill="#f3e9a8" stroke="#5a4f14" stroke-width="0.6"/>
<circle cx="170.5" cy="192.5" r="1.5" fill="#f3e9a8" stroke="#5a4f14" stroke-width="0.6"/>
<circle cx="157" cy="192" r="1.6" fill="#f3e9a8" stroke="#5a4f14" stroke-width="0.6"/>
<path d="M168 116l9 -3.06" stroke="#1c2c88" stroke-width="3.4" fill="none" opacity="0.7" stroke-linecap="round"/>
<path d="M168 116l9 -3.06" stroke="#eef2fa" stroke-width="1.3" fill="none" stroke-dasharray="3 1.2 1.6 1" stroke-linecap="round"/>
<path d="M170 121l8 -2.72" stroke="#1c2c88" stroke-width="3.4" fill="none" opacity="0.7" stroke-linecap="round"/>
<path d="M170 121l8 -2.72" stroke="#eef2fa" stroke-width="1.3" fill="none" stroke-dasharray="3 1.2 1.6 1" stroke-linecap="round"/>
<path d="M173 127l7 -2.38" stroke="#1c2c88" stroke-width="3.4" fill="none" opacity="0.7" stroke-linecap="round"/>
<path d="M173 127l7 -2.38" stroke="#eef2fa" stroke-width="1.3" fill="none" stroke-dasharray="3 1.2 1.6 1" stroke-linecap="round"/>
<path d="M176 135l9 -3.06" stroke="#1c2c88" stroke-width="3.4" fill="none" opacity="0.7" stroke-linecap="round"/>
<path d="M176 135l9 -3.06" stroke="#eef2fa" stroke-width="1.3" fill="none" stroke-dasharray="3 1.2 1.6 1" stroke-linecap="round"/>
<path d="M177 140l10 -3.4" stroke="#1c2c88" stroke-width="3.4" fill="none" opacity="0.7" stroke-linecap="round"/>
<path d="M177 140l10 -3.4" stroke="#eef2fa" stroke-width="1.3" fill="none" stroke-dasharray="3 1.2 1.6 1" stroke-linecap="round"/>
<path d="M178.5 146l10 -3.4" stroke="#1c2c88" stroke-width="3.4" fill="none" opacity="0.7" stroke-linecap="round"/>
<path d="M178.5 146l10 -3.4" stroke="#eef2fa" stroke-width="1.3" fill="none" stroke-dasharray="3 1.2 1.6 1" stroke-linecap="round"/>
<path d="M181 152l13 -4.42" stroke="#1c2c88" stroke-width="3.4" fill="none" opacity="0.7" stroke-linecap="round"/>
<path d="M181 152l13 -4.42" stroke="#eef2fa" stroke-width="1.3" fill="none" stroke-dasharray="3 1.2 1.6 1" stroke-linecap="round"/>
<path d="M184 157l14 -4.76" stroke="#1c2c88" stroke-width="3.4" fill="none" opacity="0.7" stroke-linecap="round"/>
<path d="M184 157l14 -4.76" stroke="#eef2fa" stroke-width="1.3" fill="none" stroke-dasharray="3 1.2 1.6 1" stroke-linecap="round"/>
<path d="M186 162l12 -4.08" stroke="#1c2c88" stroke-width="3.4" fill="none" opacity="0.7" stroke-linecap="round"/>
<path d="M186 162l12 -4.08" stroke="#eef2fa" stroke-width="1.3" fill="none" stroke-dasharray="3 1.2 1.6 1" stroke-linecap="round"/>
<path d="M188 166.5l8 -2.72" stroke="#1c2c88" stroke-width="3.4" fill="none" opacity="0.7" stroke-linecap="round"/>
<path d="M188 166.5l8 -2.72" stroke="#eef2fa" stroke-width="1.3" fill="none" stroke-dasharray="3 1.2 1.6 1" stroke-linecap="round"/>
<text x="192.3" y="175.4" font-size="10.2" fill="#f4f4f8" font-weight="bold" font-family='"Liberation Mono", monospace' transform="rotate(-21 192.3 175.4)" letter-spacing="0">Eose</text>
<text x="207.6" y="153.8" font-size="8" fill="#e8e8ee" font-family='"Liberation Mono", monospace' transform="rotate(-18 207.6 153.8)">µ</text>
</g>
<text x="20.3" y="13.3" font-size="18" fill="#000" text-anchor="start" font-weight="bold">a</text>
<g id="panel-b">
<line x1="455.3" y1="10.5" x2="729.2" y2="10.5" stroke="#8c8c8c" stroke-width="1"/>
<line x1="455.3" y1="10.5" x2="455.3" y2="220.3" stroke="#b4b4b4" stroke-width="1"/>
<line x1="455.3" y1="220.3" x2="729.2" y2="220.3" stroke="#9a9a9a" stroke-width="1"/>
<line x1="729.2" y1="10.5" x2="729.2" y2="220.3" stroke="#f58a85" stroke-width="1"/>
<line x1="450.9" y1="220.3" x2="455.3" y2="220.3" stroke="#a0a0a0" stroke-width="1"/>
<text x="450.4" y="224.6" font-size="12.2" fill="#111" text-anchor="end" font-weight="normal">0</text>
<line x1="453.1" y1="201.2" x2="455.3" y2="201.2" stroke="#b4b4b4" stroke-width="1"/>
<line x1="450.9" y1="182.1" x2="455.3" y2="182.1" stroke="#a0a0a0" stroke-width="1"/>
<text x="450.4" y="186.4" font-size="12.2" fill="#111" text-anchor="end" font-weight="normal">2</text>
<line x1="453.1" y1="163" x2="455.3" y2="163" stroke="#b4b4b4" stroke-width="1"/>
<line x1="450.9" y1="143.9" x2="455.3" y2="143.9" stroke="#a0a0a0" stroke-width="1"/>
<text x="450.4" y="148.2" font-size="12.2" fill="#111" text-anchor="end" font-weight="normal">4</text>
<line x1="453.1" y1="124.8" x2="455.3" y2="124.8" stroke="#b4b4b4" stroke-width="1"/>
<line x1="450.9" y1="105.7" x2="455.3" y2="105.7" stroke="#a0a0a0" stroke-width="1"/>
<text x="450.4" y="110" font-size="12.2" fill="#111" text-anchor="end" font-weight="normal">6</text>
<line x1="453.1" y1="86.6" x2="455.3" y2="86.6" stroke="#b4b4b4" stroke-width="1"/>
<line x1="450.9" y1="67.5" x2="455.3" y2="67.5" stroke="#a0a0a0" stroke-width="1"/>
<text x="450.4" y="71.8" font-size="12.2" fill="#111" text-anchor="end" font-weight="normal">8</text>
<line x1="453.1" y1="48.4" x2="455.3" y2="48.4" stroke="#b4b4b4" stroke-width="1"/>
<line x1="450.9" y1="29.3" x2="455.3" y2="29.3" stroke="#a0a0a0" stroke-width="1"/>
<text x="450.4" y="33.6" font-size="12.2" fill="#111" text-anchor="end" font-weight="normal">10</text>
<line x1="455.3" y1="220.3" x2="455.3" y2="224.3" stroke="#a0a0a0" stroke-width="1"/>
<text x="455.3" y="235.8" font-size="12.2" fill="#111" text-anchor="middle" font-weight="normal">0</text>
<line x1="478.12" y1="220.3" x2="478.12" y2="222.5" stroke="#b4b4b4" stroke-width="1"/>
<line x1="500.95" y1="220.3" x2="500.95" y2="224.3" stroke="#a0a0a0" stroke-width="1"/>
<text x="500.95" y="235.8" font-size="12.2" fill="#111" text-anchor="middle" font-weight="normal">100</text>
<line x1="523.77" y1="220.3" x2="523.77" y2="222.5" stroke="#b4b4b4" stroke-width="1"/>
<line x1="546.6" y1="220.3" x2="546.6" y2="224.3" stroke="#a0a0a0" stroke-width="1"/>
<text x="546.6" y="235.8" font-size="12.2" fill="#111" text-anchor="middle" font-weight="normal">200</text>
<line x1="569.43" y1="220.3" x2="569.43" y2="222.5" stroke="#b4b4b4" stroke-width="1"/>
<line x1="592.25" y1="220.3" x2="592.25" y2="224.3" stroke="#a0a0a0" stroke-width="1"/>
<text x="592.25" y="235.8" font-size="12.2" fill="#111" text-anchor="middle" font-weight="normal">300</text>
<line x1="615.08" y1="220.3" x2="615.08" y2="222.5" stroke="#b4b4b4" stroke-width="1"/>
<line x1="637.9" y1="220.3" x2="637.9" y2="224.3" stroke="#a0a0a0" stroke-width="1"/>
<text x="637.9" y="235.8" font-size="12.2" fill="#111" text-anchor="middle" font-weight="normal">400</text>
<line x1="660.73" y1="220.3" x2="660.73" y2="222.5" stroke="#b4b4b4" stroke-width="1"/>
<line x1="683.55" y1="220.3" x2="683.55" y2="224.3" stroke="#a0a0a0" stroke-width="1"/>
<text x="683.55" y="235.8" font-size="12.2" fill="#111" text-anchor="middle" font-weight="normal">500</text>
<line x1="706.38" y1="220.3" x2="706.38" y2="222.5" stroke="#b4b4b4" stroke-width="1"/>
<line x1="729.2" y1="220.3" x2="729.2" y2="224.3" stroke="#a0a0a0" stroke-width="1"/>
<text x="729.2" y="235.8" font-size="12.2" fill="#111" text-anchor="middle" font-weight="normal">600</text>
<line x1="729.2" y1="220.3" x2="733.6" y2="220.3" stroke="#f58a85" stroke-width="1"/>
<text x="735.1" y="224.7" font-size="12.2" fill="#f4433c" text-anchor="start" font-weight="normal">0</text>
<line x1="729.2" y1="207.19" x2="731.4" y2="207.19" stroke="#f7a29e" stroke-width="1"/>
<line x1="729.2" y1="194.08" x2="733.6" y2="194.08" stroke="#f58a85" stroke-width="1"/>
<text x="735.1" y="198.48" font-size="12.2" fill="#f4433c" text-anchor="start" font-weight="normal">2</text>
<line x1="729.2" y1="180.96" x2="731.4" y2="180.96" stroke="#f7a29e" stroke-width="1"/>
<line x1="729.2" y1="167.85" x2="733.6" y2="167.85" stroke="#f58a85" stroke-width="1"/>
<text x="735.1" y="172.25" font-size="12.2" fill="#f4433c" text-anchor="start" font-weight="normal">4</text>
<line x1="729.2" y1="154.74" x2="731.4" y2="154.74" stroke="#f7a29e" stroke-width="1"/>
<line x1="729.2" y1="141.62" x2="733.6" y2="141.62" stroke="#f58a85" stroke-width="1"/>
<text x="735.1" y="146.03" font-size="12.2" fill="#f4433c" text-anchor="start" font-weight="normal">6</text>
<line x1="729.2" y1="128.51" x2="731.4" y2="128.51" stroke="#f7a29e" stroke-width="1"/>
<line x1="729.2" y1="115.4" x2="733.6" y2="115.4" stroke="#f58a85" stroke-width="1"/>
<text x="735.1" y="119.8" font-size="12.2" fill="#f4433c" text-anchor="start" font-weight="normal">8</text>
<line x1="729.2" y1="102.29" x2="731.4" y2="102.29" stroke="#f7a29e" stroke-width="1"/>
<line x1="729.2" y1="89.18" x2="733.6" y2="89.18" stroke="#f58a85" stroke-width="1"/>
<text x="735.1" y="93.58" font-size="12.2" fill="#f4433c" text-anchor="start" font-weight="normal">10</text>
<line x1="729.2" y1="76.06" x2="731.4" y2="76.06" stroke="#f7a29e" stroke-width="1"/>
<line x1="729.2" y1="62.95" x2="733.6" y2="62.95" stroke="#f58a85" stroke-width="1"/>
<text x="735.1" y="67.35" font-size="12.2" fill="#f4433c" text-anchor="start" font-weight="normal">12</text>
<line x1="729.2" y1="49.84" x2="731.4" y2="49.84" stroke="#f7a29e" stroke-width="1"/>
<line x1="729.2" y1="36.72" x2="733.6" y2="36.72" stroke="#f58a85" stroke-width="1"/>
<text x="735.1" y="41.12" font-size="12.2" fill="#f4433c" text-anchor="start" font-weight="normal">14</text>
<line x1="729.2" y1="23.61" x2="731.4" y2="23.61" stroke="#f7a29e" stroke-width="1"/>
<line x1="729.2" y1="10.5" x2="733.6" y2="10.5" stroke="#f58a85" stroke-width="1"/>
<text x="735.1" y="14.9" font-size="12.2" fill="#f4433c" text-anchor="start" font-weight="normal">16</text>
<text x="432.2" y="115.6" font-size="12.5" fill="#111" text-anchor="middle" font-weight="normal" transform="rotate(-90 432.2 115.6)">Voltage (V)</text>
<text x="761" y="115.8" font-size="12.2" fill="#f4433c" text-anchor="middle" font-weight="normal" transform="rotate(-90 761 115.8)">Power (mW)</text>
<text x="592.4" y="255.3" font-size="12.25" fill="#111" text-anchor="middle" font-weight="normal">Bias current (mA)</text>
<text x="425.5" y="13" font-size="18" fill="#000" text-anchor="start" font-weight="bold">b</text>
<path d="M455.3 220.3L478.12 160.13L500.95 128.62L523.77 107.61L546.6 92.33L569.43 80.49L592.25 70.37L615.08 61.77L637.9 54.13L660.73 48.78L683.55 43.62L706.38 38.85L724.63 35.03" fill="none" stroke="#3a3a3a" stroke-width="1"/>
<path d="M455.3 220.3C456.21 216.96 458.88 206.61 460.78 200.25C462.68 193.88 463.82 189.58 466.71 182.1C469.6 174.62 474.32 162.84 478.12 155.36C481.93 147.88 485.73 142.63 489.54 137.22C493.34 131.8 495.24 128.62 500.95 122.89C506.66 117.16 516.17 108.56 523.77 102.83C531.38 97.1 538.99 92.87 546.6 88.51C554.21 84.15 561.82 80.33 569.43 76.67C577.03 73.01 584.64 69.6 592.25 66.54C599.86 63.49 607.47 60.88 615.08 58.33C622.68 55.79 630.29 53.4 637.9 51.27C645.51 49.13 654.64 46.97 660.73 45.53C666.81 44.1 672.14 43.15 674.42 42.67" fill="none" stroke="#2a2a2a" stroke-width="1.2" stroke-dasharray="3.3 3.6"/>
<path d="M615.08 220.3L628.77 219.51L637.9 218.33L647.03 213.74L683.55 120.12L707.29 63.61L710.03 59.67L713.22 54.43L725.82 23.61" fill="none" stroke="#f4433c" stroke-width="1"/>
<path d="M612.79 220.3C613.33 219.86 614.09 220.3 615.99 217.68C617.89 215.06 621.85 209.15 624.21 204.56C626.56 199.98 628.24 194.73 630.14 190.14C632.04 185.55 633.72 181.4 635.62 177.03C637.52 172.66 639.65 167.7 641.55 163.92C643.45 160.14 645.2 157.29 647.03 154.34C648.86 151.39 650.61 148.68 652.51 146.21C654.41 143.74 656.46 141.6 658.44 139.53C660.42 137.45 662.47 135.48 664.38 133.76C666.28 132.03 667.95 130.59 669.86 129.17C671.76 127.75 674.8 125.89 675.79 125.23" fill="none" stroke="#f4433c" stroke-width="1.2" stroke-dasharray="3.3 3.6"/>
<line x1="455.3" y1="220.3" x2="615.53" y2="220.3" stroke="#b04a46" stroke-width="1.0"/>
<line x1="466" y1="22.6" x2="493" y2="22.6" stroke="#3a3a3a" stroke-width="1"/>
<line x1="466" y1="37.4" x2="493" y2="37.4" stroke="#2a2a2a" stroke-width="1.2" stroke-dasharray="3 3.2"/>
<text x="497" y="26.7" font-size="12.25" fill="#111" text-anchor="start" font-weight="normal">Standard-QCL</text>
<text x="497" y="41.4" font-size="12.25" fill="#111" text-anchor="start" font-weight="normal">RF-QCL</text>
</g>
<rect x="42.3" y="262.3" width="331.8" height="181" fill="none" stroke="#7f7f7f" stroke-width="1"/>
<line x1="37.1" y1="277.6" x2="42.3" y2="277.6" stroke="#7f7f7f" stroke-width="1"/>
<text x="34.4" y="282.2" font-size="12.9" fill="#555555" text-anchor="end" font-weight="normal">1.0</text>
<line x1="37.1" y1="357.35" x2="42.3" y2="357.35" stroke="#7f7f7f" stroke-width="1"/>
<text x="34.4" y="361.95" font-size="12.9" fill="#555555" text-anchor="end" font-weight="normal">0.5</text>
<line x1="37.1" y1="437.1" x2="42.3" y2="437.1" stroke="#7f7f7f" stroke-width="1"/>
<text x="34.4" y="441.7" font-size="12.9" fill="#555555" text-anchor="end" font-weight="normal">0.0</text>
<line x1="79.7" y1="443.3" x2="79.7" y2="447.6" stroke="#7f7f7f" stroke-width="1"/>
<line x1="153.9" y1="443.3" x2="153.9" y2="447.6" stroke="#7f7f7f" stroke-width="1"/>
<line x1="228.1" y1="443.3" x2="228.1" y2="447.6" stroke="#7f7f7f" stroke-width="1"/>
<line x1="302.3" y1="443.3" x2="302.3" y2="447.6" stroke="#7f7f7f" stroke-width="1"/>
<line x1="42.6" y1="443.3" x2="42.6" y2="445.7" stroke="#7f7f7f" stroke-width="1"/>
<line x1="116.8" y1="443.3" x2="116.8" y2="445.7" stroke="#7f7f7f" stroke-width="1"/>
<line x1="191" y1="443.3" x2="191" y2="445.7" stroke="#7f7f7f" stroke-width="1"/>
<line x1="265.2" y1="443.3" x2="265.2" y2="445.7" stroke="#7f7f7f" stroke-width="1"/>
<line x1="339.4" y1="443.3" x2="339.4" y2="445.7" stroke="#7f7f7f" stroke-width="1"/>
<text x="79.7" y="460.9" font-size="12.9" fill="#555555" text-anchor="middle" font-weight="normal">9.12</text>
<text x="153.9" y="460.9" font-size="12.9" fill="#555555" text-anchor="middle" font-weight="normal">9.14</text>
<text x="228.1" y="460.9" font-size="12.9" fill="#555555" text-anchor="middle" font-weight="normal">9.16</text>
<text x="302.3" y="460.9" font-size="12.9" fill="#555555" text-anchor="middle" font-weight="normal">9.18</text>
<text x="11.3" y="353" font-size="12.95" fill="#111" text-anchor="middle" font-weight="normal" transform="rotate(-90 11.3 353)">Normalized Intensity (a.u.)</text>
<text x="217.7" y="476.9" font-size="12.95" fill="#111" text-anchor="middle" font-weight="normal">Wavelength (µm)</text>
<text x="64.2" y="284.7" font-size="13.8" fill="#222" text-anchor="start" font-weight="normal">Standard-QCL</text>
<text x="4.5" y="249.8" font-size="18" fill="#000" text-anchor="start" font-weight="bold">c</text>
<path d="M42.45 434.46C42.85 434.01 44.08 432.58 44.89 431.77C45.71 430.95 46.12 430.46 47.34 429.56C48.56 428.67 50.6 426.79 52.23 426.38C53.86 425.98 55.29 427.2 57.12 427.12C58.96 427.04 61.2 426.42 63.24 425.89C65.28 425.36 67.52 424.14 69.35 423.94C71.19 423.73 72.41 424.26 74.25 424.67C76.08 425.08 78.32 426.79 80.36 426.38C82.4 425.98 84.44 423.41 86.48 422.23C88.52 421.04 90.55 420.31 92.59 419.29C94.63 418.27 96.67 417.05 98.71 416.11C100.75 415.17 102.99 413.87 104.82 413.66C106.66 413.46 108.09 413.87 109.72 414.89C111.35 415.91 112.98 417.74 114.61 419.78C116.24 421.82 117.87 424.88 119.5 427.12C121.13 429.36 122.97 433.03 124.39 433.23C125.82 433.44 126.84 430.38 128.06 428.34C129.29 426.3 130.51 423.24 131.73 421C132.95 418.76 133.97 416.31 135.4 414.89C136.83 413.46 138.46 412.73 140.29 412.44C142.13 412.15 144.57 413.3 146.41 413.17C148.24 413.05 149.47 412.52 151.3 411.71C153.14 410.89 155.97 409.18 157.42 408.28C158.87 407.38 158.75 407.26 160 406.32C161.25 405.39 163.67 404.29 164.89 402.66C166.12 401.02 166.52 400.01 167.34 396.54C168.15 393.07 168.97 387.57 169.78 381.86C170.6 376.16 171.42 369.22 172.23 362.29C173.05 355.36 173.86 347.62 174.68 340.28C175.49 332.94 176.31 325.19 177.12 318.26C177.94 311.33 178.75 304.2 179.57 298.69C180.38 293.19 181.2 288.42 182.02 285.24C182.83 282.06 183.65 280.79 184.46 279.61C185.28 278.43 186.09 278.02 186.91 278.14C187.72 278.27 188.54 278.76 189.35 280.35C190.17 281.94 190.98 284.22 191.8 287.68C192.62 291.15 193.43 296.04 194.25 301.14C195.06 306.24 195.88 312.15 196.69 318.26C197.51 324.38 198.32 331.31 199.14 337.83C199.95 344.35 200.77 351.29 201.59 357.4C202.4 363.52 203.22 369.02 204.03 374.52C204.85 380.03 205.66 385.94 206.48 390.42C207.29 394.91 208.11 398.17 208.92 401.43C209.74 404.69 210.55 407.55 211.37 409.99C212.19 412.44 213 414.27 213.82 416.11C214.63 417.94 215.53 419.9 216.26 421C217 422.1 217.4 422.92 218.22 422.71C219.03 422.51 220.05 420.88 221.15 419.78C222.26 418.68 223.6 416.88 224.82 416.11C226.05 415.33 227.07 415.17 228.49 415.13C229.92 415.09 231.75 415.62 233.39 415.86C235.02 416.11 236.44 416.56 238.28 416.6C240.11 416.64 242.56 415.99 244.39 416.11C246.23 416.23 247.65 416.6 249.29 417.33C250.92 418.07 252.75 419.29 254.18 420.51C255.61 421.74 256.62 423.24 257.85 424.67C259.07 426.1 260.29 427.97 261.52 429.07C262.74 430.18 263.96 431.07 265.19 431.28C266.41 431.48 267.63 430.5 268.86 430.3C270.08 430.09 271.3 429.65 272.52 430.05C273.75 430.46 274.97 431.89 276.19 432.74C277.42 433.6 278.84 435.11 279.86 435.19C280.88 435.27 281.29 434.17 282.31 433.23C283.33 432.3 284.55 430.5 285.98 429.56C287.41 428.63 289.24 427.81 290.87 427.61C292.5 427.4 294.13 427.61 295.76 428.34C297.39 429.07 299.23 430.95 300.66 432.01C302.08 433.07 303.1 433.97 304.32 434.7C305.55 435.43 306.77 436.45 307.99 436.41C309.22 436.37 310.24 435.27 311.66 434.46C313.09 433.64 314.92 432.34 316.56 431.52C318.19 430.71 319.82 429.85 321.45 429.56C323.08 429.28 323.37 429.18 326.34 429.81C329.31 430.44 336.27 432.54 339.25 433.33C342.24 434.13 342.57 434.45 344.23 434.58C345.89 434.7 347.55 434.41 349.2 434.08C350.86 433.75 352.52 433.33 354.18 432.59C355.84 431.84 357.5 430.6 359.15 429.6C360.81 428.61 362.47 427.53 364.13 426.62C365.79 425.7 367.45 424.71 369.1 424.13C370.76 423.55 373.25 423.3 374.08 423.13" fill="none" stroke="#ff9a38" stroke-width="1.15" stroke-linejoin="round"/>
<path d="M42.45 436.17C43.26 435.88 45.71 435.15 47.34 434.46C48.97 433.76 50.6 432.83 52.23 432.01C53.86 431.19 55.49 430.18 57.12 429.56C58.75 428.95 60.38 428.54 62.02 428.34C63.65 428.14 65.28 428.14 66.91 428.34C68.54 428.54 69.97 429.16 71.8 429.56C73.64 429.97 75.88 430.3 77.92 430.79C79.95 431.28 81.99 432.01 84.03 432.5C86.07 432.99 87.9 433.48 90.15 433.72C92.39 433.97 95.24 434.37 97.49 433.97C99.73 433.56 101.56 432.13 103.6 431.28C105.64 430.42 107.68 429.44 109.72 428.83C111.75 428.22 113.79 427.97 115.83 427.61C117.87 427.24 120.11 426.51 121.95 426.63C123.78 426.75 125.21 428.14 126.84 428.34C128.47 428.54 130.1 428.46 131.73 427.85C133.36 427.24 134.99 425.61 136.62 424.67C138.26 423.73 139.68 422.96 141.52 422.23C143.35 421.49 145.8 420.76 147.63 420.27C149.47 419.78 150.89 419.17 152.52 419.29C154.16 419.41 156.17 420.51 157.42 421C158.66 421.49 158.96 422.23 160 422.23C161.04 422.23 162.45 421.61 163.67 421C164.89 420.39 165.91 419.98 167.34 418.56C168.77 417.13 170.6 414.68 172.23 412.44C173.86 410.2 175.49 407.75 177.12 405.1C178.75 402.45 180.59 399.39 182.02 396.54C183.44 393.69 184.67 390.83 185.68 387.98C186.7 385.12 187.32 383.29 188.13 379.42C188.95 375.54 189.76 370.45 190.58 364.74C191.39 359.03 192.21 352.1 193.02 345.17C193.84 338.24 194.65 330.09 195.47 323.15C196.29 316.22 197.1 309.29 197.92 303.59C198.73 297.88 199.55 292.7 200.36 288.91C201.18 285.12 201.99 282.63 202.81 280.84C203.62 279.04 204.44 278.23 205.25 278.14C206.07 278.06 206.89 278.96 207.7 280.35C208.52 281.73 209.33 283.4 210.15 286.46C210.96 289.52 211.78 294 212.59 298.69C213.41 303.38 214.22 308.48 215.04 314.59C215.85 320.71 216.67 328.25 217.49 335.39C218.3 342.52 219.12 350.47 219.93 357.4C220.75 364.33 221.56 371.26 222.38 376.97C223.19 382.68 224.01 387.77 224.82 391.65C225.64 395.52 226.25 397.56 227.27 400.21C228.29 402.86 229.51 405.31 230.94 407.55C232.37 409.79 234.2 412.03 235.83 413.66C237.46 415.29 239.09 416.31 240.72 417.33C242.35 418.35 243.99 419.09 245.62 419.78C247.25 420.47 248.88 420.88 250.51 421.49C252.14 422.1 253.97 422.51 255.4 423.45C256.83 424.39 257.85 425.89 259.07 427.12C260.29 428.34 261.52 429.77 262.74 430.79C263.96 431.81 265.19 432.62 266.41 433.23C267.63 433.84 268.86 434.46 270.08 434.46C271.3 434.46 272.52 433.84 273.75 433.23C274.97 432.62 275.99 431.6 277.42 430.79C278.84 429.97 280.68 428.91 282.31 428.34C283.94 427.77 285.37 427.57 287.2 427.36C289.04 427.16 291.48 427.44 293.32 427.12C295.15 426.79 296.58 425.81 298.21 425.41C299.84 425 301.67 424.51 303.1 424.67C304.53 424.83 305.34 425.57 306.77 426.38C308.2 427.2 310.03 428.63 311.66 429.56C313.29 430.5 315.13 431.48 316.56 432.01C317.98 432.54 318.8 432.83 320.23 432.74C321.65 432.66 321.95 431.84 325.12 431.52C328.29 431.2 336.07 431.17 339.25 430.85C342.44 430.53 342.78 429.89 344.23 429.6C345.68 429.31 346.51 428.9 347.96 429.1C349.41 429.31 351.28 430.02 352.94 430.85C354.59 431.67 356.46 433.37 357.91 434.08C359.36 434.78 360.19 434.99 361.64 435.07C363.09 435.16 365.17 434.83 366.62 434.58C368.07 434.33 369.1 433.91 370.35 433.58C371.59 433.25 373.46 432.75 374.08 432.59" fill="none" stroke="#22b0a6" stroke-width="1.15" stroke-linejoin="round"/>
<path d="M42.45 436.66C43.26 436.41 45.71 435.56 47.34 435.19C48.97 434.82 50.19 434.66 52.23 434.46C54.27 434.25 57.12 434.17 59.57 433.97C62.02 433.76 64.46 433.36 66.91 433.23C69.35 433.11 71.8 433.31 74.25 433.23C76.69 433.15 79.14 432.95 81.59 432.74C84.03 432.54 86.48 432.21 88.92 432.01C91.37 431.81 93.82 431.4 96.26 431.52C98.71 431.64 101.36 432.21 103.6 432.74C105.84 433.27 107.88 434.21 109.72 434.7C111.55 435.19 113.18 435.92 114.61 435.68C116.04 435.43 116.85 434.13 118.28 433.23C119.7 432.34 121.54 430.99 123.17 430.3C124.8 429.6 126.02 429.16 128.06 429.07C130.1 428.99 132.95 429.6 135.4 429.81C137.85 430.01 140.7 430.54 142.74 430.3C144.78 430.05 146 429.2 147.63 428.34C149.26 427.48 150.89 426.06 152.52 425.16C154.16 424.26 156.17 423.45 157.42 422.96C158.66 422.47 158.75 422.47 160 422.23C161.25 421.98 163.26 421.7 164.89 421.49C166.52 421.29 168.15 420.92 169.78 421C171.42 421.08 173.25 421.78 174.68 421.98C176.1 422.18 176.92 422.51 178.35 422.23C179.77 421.94 181.61 421.21 183.24 420.27C184.87 419.33 186.7 417.9 188.13 416.6C189.56 415.29 190.37 414.36 191.8 412.44C193.23 410.52 195.06 407.96 196.69 405.1C198.32 402.25 200.16 398.78 201.59 395.32C203.01 391.85 204.24 388.18 205.25 384.31C206.27 380.44 206.89 376.97 207.7 372.08C208.52 367.19 209.33 361.48 210.15 354.95C210.96 348.43 211.78 340.28 212.59 332.94C213.41 325.6 214.22 317.45 215.04 310.92C215.85 304.4 216.67 298.49 217.49 293.8C218.3 289.11 219.12 285.32 219.93 282.79C220.75 280.26 221.56 279.04 222.38 278.63C223.19 278.23 224.01 278.84 224.82 280.35C225.64 281.85 226.45 284.22 227.27 287.68C228.09 291.15 228.9 295.64 229.72 301.14C230.53 306.64 231.35 313.78 232.16 320.71C232.98 327.64 233.79 335.39 234.61 342.72C235.42 350.06 236.24 357.81 237.05 364.74C237.87 371.67 238.69 379.01 239.5 384.31C240.32 389.61 241.13 393.6 241.95 396.54C242.76 399.48 243.37 400.49 244.39 401.92C245.41 403.35 246.64 403.96 248.06 405.1C249.49 406.24 251.32 407.55 252.95 408.77C254.59 409.99 256.42 411.22 257.85 412.44C259.27 413.66 260.29 414.89 261.52 416.11C262.74 417.33 263.96 418.76 265.19 419.78C266.41 420.8 267.43 421.74 268.86 422.23C270.28 422.71 271.91 422.63 273.75 422.71C275.58 422.8 277.82 422.59 279.86 422.71C281.9 422.84 283.94 423.04 285.98 423.45C288.02 423.86 290.26 424.67 292.09 425.16C293.93 425.65 295.36 426.34 296.99 426.38C298.62 426.42 300.25 425.41 301.88 425.41C303.51 425.41 305.14 425.89 306.77 426.38C308.4 426.87 310.24 427.93 311.66 428.34C313.09 428.75 313.91 429.03 315.33 428.83C316.76 428.63 318.59 427.61 320.23 427.12C321.86 426.63 321.95 425.81 325.12 425.89C328.29 425.98 336.07 427.2 339.25 427.61C342.44 428.02 342.57 428.11 344.23 428.36C345.89 428.61 347.55 429.06 349.2 429.1C350.86 429.15 352.52 428.77 354.18 428.61C355.84 428.44 357.5 428.15 359.15 428.11C360.81 428.07 362.47 428.19 364.13 428.36C365.79 428.52 367.45 428.86 369.1 429.1C370.76 429.35 373.25 429.73 374.08 429.85" fill="none" stroke="#983a9a" stroke-width="1.15" stroke-linejoin="round"/>
<line x1="272" y1="274.1" x2="306.3" y2="274.1" stroke="#ff9a38" stroke-width="1.2"/>
<text x="310.6" y="279.5" font-size="13.2" fill="#111" text-anchor="start" font-weight="normal">500 mA</text>
<line x1="272" y1="292.8" x2="306.3" y2="292.8" stroke="#22b0a6" stroke-width="1.2"/>
<text x="310.6" y="298.2" font-size="13.2" fill="#111" text-anchor="start" font-weight="normal">570 mA</text>
<line x1="272" y1="311.5" x2="306.3" y2="311.5" stroke="#983a9a" stroke-width="1.2"/>
<text x="310.6" y="316.9" font-size="13.2" fill="#111" text-anchor="start" font-weight="normal">630 mA</text>
<rect x="426.5" y="262" width="331.6" height="181.3" fill="none" stroke="#7f7f7f" stroke-width="1"/>
<line x1="421.3" y1="277.8" x2="426.5" y2="277.8" stroke="#7f7f7f" stroke-width="1"/>
<text x="418.6" y="282.4" font-size="12.9" fill="#555555" text-anchor="end" font-weight="normal">1.0</text>
<line x1="421.3" y1="357.45" x2="426.5" y2="357.45" stroke="#7f7f7f" stroke-width="1"/>
<text x="418.6" y="362.05" font-size="12.9" fill="#555555" text-anchor="end" font-weight="normal">0.5</text>
<line x1="421.3" y1="437.1" x2="426.5" y2="437.1" stroke="#7f7f7f" stroke-width="1"/>
<text x="418.6" y="441.7" font-size="12.9" fill="#555555" text-anchor="end" font-weight="normal">0.0</text>
<line x1="522.8" y1="443.3" x2="522.8" y2="447.6" stroke="#7f7f7f" stroke-width="1"/>
<line x1="622.5" y1="443.3" x2="622.5" y2="447.6" stroke="#7f7f7f" stroke-width="1"/>
<line x1="722.4" y1="443.3" x2="722.4" y2="447.6" stroke="#7f7f7f" stroke-width="1"/>
<line x1="472.9" y1="443.3" x2="472.9" y2="445.7" stroke="#7f7f7f" stroke-width="1"/>
<line x1="572.6" y1="443.3" x2="572.6" y2="445.7" stroke="#7f7f7f" stroke-width="1"/>
<line x1="672.4" y1="443.3" x2="672.4" y2="445.7" stroke="#7f7f7f" stroke-width="1"/>
<text x="522.8" y="460.9" font-size="12.9" fill="#555555" text-anchor="middle" font-weight="normal">9.12</text>
<text x="622.5" y="460.9" font-size="12.9" fill="#555555" text-anchor="middle" font-weight="normal">9.14</text>
<text x="722.4" y="460.9" font-size="12.9" fill="#555555" text-anchor="middle" font-weight="normal">9.16</text>
<text x="394.6" y="353" font-size="12.95" fill="#111" text-anchor="middle" font-weight="normal" transform="rotate(-90 394.6 353)">Normalized Intensity (a.u.)</text>
<text x="592.5" y="476.9" font-size="12.95" fill="#111" text-anchor="middle" font-weight="normal">Wavelength (µm)</text>
<text x="464" y="284.7" font-size="13.8" fill="#222" text-anchor="start" font-weight="normal">RF-QCL</text>
<text x="379.3" y="249.3" font-size="18" fill="#000" text-anchor="start" font-weight="bold">d</text>
<path d="M426.5 432.6C430.92 432.2 444.17 431.1 453 430.2C461.83 429.3 471.67 428 479.5 427.2C487.33 426.4 495.36 426.03 500 425.41C504.64 424.78 504.89 424.06 507.34 423.45C509.78 422.84 512.23 422.43 514.68 421.74C517.12 421.04 519.57 420.15 522.02 419.29C524.46 418.43 526.91 417.54 529.35 416.6C531.8 415.66 534.45 414.76 536.69 413.66C538.94 412.56 540.97 411.3 542.81 409.99C544.64 408.69 546.07 407.67 547.7 405.84C549.33 404 551.17 401.35 552.59 398.99C554.02 396.62 555.04 394.91 556.26 391.65C557.49 388.39 558.91 383.49 559.93 379.42C560.95 375.34 561.56 371.87 562.38 367.19C563.19 362.5 564.01 356.79 564.82 351.29C565.64 345.78 566.45 339.87 567.27 334.16C568.09 328.45 568.9 322.34 569.72 317.04C570.53 311.74 571.35 306.64 572.16 302.36C572.98 298.08 573.79 294.41 574.61 291.35C575.42 288.3 576.24 285.97 577.05 284.02C577.87 282.06 578.69 280.63 579.5 279.61C580.32 278.59 581.13 277.9 581.95 277.9C582.76 277.9 583.58 278.39 584.39 279.61C585.21 280.84 586.02 282.87 586.84 285.24C587.65 287.6 588.47 290.33 589.29 293.8C590.1 297.27 590.92 301.55 591.73 306.03C592.55 310.52 593.36 315.41 594.18 320.71C594.99 326.01 595.81 332.12 596.62 337.83C597.44 343.54 598.26 349.65 599.07 354.95C599.89 360.26 600.7 365.15 601.52 369.63C602.33 374.12 603.15 378.19 603.96 381.86C604.78 385.53 605.39 388.59 606.41 391.65C607.43 394.71 608.65 397.56 610.08 400.21C611.51 402.86 613.34 405.63 614.97 407.55C616.6 409.46 618.23 410.48 619.86 411.71C621.49 412.93 622.92 413.95 624.76 414.89C626.59 415.82 628.83 416.52 630.87 417.33C632.91 418.15 634.74 419.05 636.99 419.78C639.23 420.51 641.88 421.12 644.32 421.74C646.77 422.35 649.22 422.96 651.66 423.45C654.11 423.94 655.94 424.18 659 424.67C662.06 425.16 663.44 425.43 670.01 426.38C676.58 427.34 689.52 429.45 698.4 430.4C707.28 431.35 713.37 431.6 723.3 432.1C733.23 432.6 752.22 433.18 758 433.4" fill="none" stroke="#ff9a38" stroke-width="1.15" stroke-linejoin="round"/>
<path d="M426.5 432.9C430.92 432.57 444.17 431.65 453 430.9C461.83 430.15 471.67 429.11 479.5 428.4C487.33 427.69 495.36 427.25 500 426.63C504.64 426.01 504.89 425.28 507.34 424.67C509.78 424.06 512.23 423.49 514.68 422.96C517.12 422.43 519.57 422.02 522.02 421.49C524.46 420.96 526.91 420.59 529.35 419.78C531.8 418.96 534.25 417.62 536.69 416.6C539.14 415.58 541.79 414.76 544.03 413.66C546.27 412.56 548.31 411.22 550.15 409.99C551.98 408.77 553.41 407.96 555.04 406.32C556.67 404.69 558.5 402.25 559.93 400.21C561.36 398.17 562.38 396.74 563.6 394.09C564.82 391.44 566.13 387.98 567.27 384.31C568.41 380.64 569.51 376.56 570.45 372.08C571.39 367.59 572.08 362.7 572.9 357.4C573.71 352.1 574.53 345.99 575.34 340.28C576.16 334.57 576.97 328.86 577.79 323.15C578.6 317.45 579.42 310.92 580.23 306.03C581.05 301.14 581.87 297.27 582.68 293.8C583.5 290.33 584.31 287.56 585.13 285.24C585.94 282.91 586.76 281.08 587.57 279.86C588.39 278.63 589.2 277.94 590.02 277.9C590.83 277.86 591.65 278.39 592.47 279.61C593.28 280.84 594.1 282.87 594.91 285.24C595.73 287.6 596.54 290.33 597.36 293.8C598.17 297.27 598.99 301.34 599.8 306.03C600.62 310.72 601.44 316.63 602.25 321.93C603.07 327.23 603.88 332.33 604.7 337.83C605.51 343.34 606.33 349.65 607.14 354.95C607.96 360.26 608.77 365.15 609.59 369.63C610.4 374.12 611.22 378.4 612.04 381.86C612.85 385.33 613.58 387.77 614.48 390.42C615.38 393.07 616.32 395.52 617.42 397.76C618.52 400.01 619.66 401.84 621.09 403.88C622.51 405.92 624.35 408.44 625.98 409.99C627.61 411.54 629.24 412.15 630.87 413.17C632.5 414.19 633.93 415.21 635.76 416.11C637.6 417.01 639.64 417.66 641.88 418.56C644.12 419.45 646.77 420.68 649.22 421.49C651.66 422.31 654.11 422.92 656.56 423.45C659 423.98 661.65 424.35 663.89 424.67C666.14 425 664.26 424.57 670.01 425.41C675.76 426.24 689.52 428.67 698.4 429.7C707.28 430.73 713.37 431.03 723.3 431.6C733.23 432.17 752.22 432.85 758 433.1" fill="none" stroke="#22b0a6" stroke-width="1.15" stroke-linejoin="round"/>
<path d="M426.5 433.6C430.92 433.37 444.17 432.78 453 432.2C461.83 431.62 471.67 430.74 479.5 430.1C487.33 429.46 495.36 428.92 500 428.34C504.64 427.76 504.89 427.12 507.34 426.63C509.78 426.14 512.23 425.73 514.68 425.41C517.12 425.08 519.57 425.08 522.02 424.67C524.46 424.26 526.91 423.37 529.35 422.96C531.8 422.55 534.25 422.76 536.69 422.23C539.14 421.7 541.59 420.72 544.03 419.78C546.48 418.84 548.92 417.62 551.37 416.6C553.82 415.58 556.47 414.97 558.71 413.66C560.95 412.36 562.99 410.61 564.82 408.77C566.66 406.94 568.29 404.69 569.72 402.66C571.14 400.62 572.16 398.99 573.39 396.54C574.61 394.09 575.91 391.24 577.05 387.98C578.2 384.72 579.22 381.25 580.23 376.97C581.25 372.69 582.27 367.19 583.17 362.29C584.07 357.4 584.8 352.92 585.62 347.62C586.43 342.32 587.25 336.2 588.06 330.49C588.88 324.79 589.69 318.67 590.51 313.37C591.32 308.07 592.14 302.97 592.95 298.69C593.77 294.41 594.59 290.62 595.4 287.68C596.22 284.75 596.95 282.71 597.85 281.08C598.74 279.45 599.89 278.23 600.78 277.9C601.68 277.57 602.41 278.19 603.23 279.12C604.04 280.06 604.86 281.49 605.68 283.53C606.49 285.56 607.31 288.01 608.12 291.35C608.94 294.7 609.75 299.1 610.57 303.59C611.38 308.07 612.2 312.96 613.01 318.26C613.83 323.56 614.64 329.68 615.46 335.39C616.28 341.09 617.09 347.21 617.91 352.51C618.72 357.81 619.54 362.7 620.35 367.19C621.17 371.67 621.98 375.75 622.8 379.42C623.61 383.09 624.31 386.14 625.24 389.2C626.18 392.26 627.28 395.32 628.42 397.76C629.57 400.21 630.67 401.84 632.09 403.88C633.52 405.92 635.36 408.36 636.99 409.99C638.62 411.62 640.25 412.64 641.88 413.66C643.51 414.68 644.94 415.29 646.77 416.11C648.61 416.92 650.85 417.74 652.89 418.56C654.92 419.37 656.96 420.39 659 421C661.04 421.61 663.28 421.9 665.12 422.23C666.95 422.55 664.46 421.93 670.01 422.96C675.56 423.99 689.52 427.04 698.4 428.4C707.28 429.76 713.37 430.43 723.3 431.1C733.23 431.77 752.22 432.18 758 432.4" fill="none" stroke="#983a9a" stroke-width="1.15" stroke-linejoin="round"/>
<line x1="659.3" y1="272.3" x2="687.2" y2="272.3" stroke="#ff9a38" stroke-width="1.2"/>
<text x="691.2" y="277" font-size="13.0" fill="#111" text-anchor="start" font-weight="normal">370 mA</text>
<line x1="659.3" y1="288.1" x2="687.2" y2="288.1" stroke="#22b0a6" stroke-width="1.2"/>
<text x="691.2" y="292.8" font-size="13.0" fill="#111" text-anchor="start" font-weight="normal">400 mA</text>
<line x1="659.3" y1="303.9" x2="687.2" y2="303.9" stroke="#983a9a" stroke-width="1.2"/>
<text x="691.2" y="308.6" font-size="13.0" fill="#111" text-anchor="start" font-weight="normal">440 mA</text>
<g id="panel-e">
<rect x="135.9" y="490.2" width="555.5" height="218.1" fill="none" stroke="#7f7f7f" stroke-width="1"/>
<line x1="132.7" y1="490.2" x2="135.9" y2="490.2" stroke="#7f7f7f" stroke-width="1"/>
<text x="130.4" y="493.95" font-size="13" fill="#555555" text-anchor="end" font-weight="normal">10</text>
<line x1="132.7" y1="552.1" x2="135.9" y2="552.1" stroke="#7f7f7f" stroke-width="1"/>
<text x="130.4" y="556.7" font-size="13" fill="#555555" text-anchor="end" font-weight="normal">0</text>
<line x1="132.7" y1="614.85" x2="135.9" y2="614.85" stroke="#7f7f7f" stroke-width="1"/>
<text x="130.4" y="619.45" font-size="13" fill="#555555" text-anchor="end" font-weight="normal">-10</text>
<line x1="132.7" y1="677.6" x2="135.9" y2="677.6" stroke="#7f7f7f" stroke-width="1"/>
<text x="130.4" y="682.2" font-size="13" fill="#555555" text-anchor="end" font-weight="normal">-20</text>
<line x1="136" y1="708.3" x2="136" y2="711.8" stroke="#7f7f7f" stroke-width="1"/>
<line x1="207.95" y1="708.3" x2="207.95" y2="710.3" stroke="#7f7f7f" stroke-width="1"/>
<line x1="250.03" y1="708.3" x2="250.03" y2="710.3" stroke="#7f7f7f" stroke-width="1"/>
<line x1="279.89" y1="708.3" x2="279.89" y2="710.3" stroke="#7f7f7f" stroke-width="1"/>
<line x1="303.05" y1="708.3" x2="303.05" y2="710.3" stroke="#7f7f7f" stroke-width="1"/>
<line x1="321.98" y1="708.3" x2="321.98" y2="710.3" stroke="#7f7f7f" stroke-width="1"/>
<line x1="337.98" y1="708.3" x2="337.98" y2="710.3" stroke="#7f7f7f" stroke-width="1"/>
<line x1="351.84" y1="708.3" x2="351.84" y2="710.3" stroke="#7f7f7f" stroke-width="1"/>
<line x1="364.06" y1="708.3" x2="364.06" y2="710.3" stroke="#7f7f7f" stroke-width="1"/>
<line x1="375" y1="708.3" x2="375" y2="711.8" stroke="#7f7f7f" stroke-width="1"/>
<line x1="446.95" y1="708.3" x2="446.95" y2="710.3" stroke="#7f7f7f" stroke-width="1"/>
<line x1="489.03" y1="708.3" x2="489.03" y2="710.3" stroke="#7f7f7f" stroke-width="1"/>
<line x1="518.89" y1="708.3" x2="518.89" y2="710.3" stroke="#7f7f7f" stroke-width="1"/>
<line x1="542.05" y1="708.3" x2="542.05" y2="710.3" stroke="#7f7f7f" stroke-width="1"/>
<line x1="560.98" y1="708.3" x2="560.98" y2="710.3" stroke="#7f7f7f" stroke-width="1"/>
<line x1="576.98" y1="708.3" x2="576.98" y2="710.3" stroke="#7f7f7f" stroke-width="1"/>
<line x1="590.84" y1="708.3" x2="590.84" y2="710.3" stroke="#7f7f7f" stroke-width="1"/>
<line x1="603.06" y1="708.3" x2="603.06" y2="710.3" stroke="#7f7f7f" stroke-width="1"/>
<line x1="614" y1="708.3" x2="614" y2="711.8" stroke="#7f7f7f" stroke-width="1"/>
<line x1="685.95" y1="708.3" x2="685.95" y2="710.3" stroke="#7f7f7f" stroke-width="1"/>
<text x="136" y="724.3" font-size="13.2" fill="#555555" text-anchor="middle" font-weight="normal">0.1</text>
<text x="375" y="724.3" font-size="13.2" fill="#555555" text-anchor="middle" font-weight="normal">1</text>
<text x="614" y="724.3" font-size="13.2" fill="#555555" text-anchor="middle" font-weight="normal">10</text>
<text x="104" y="599.6" font-size="13.85" fill="#111" text-anchor="middle" font-weight="normal" transform="rotate(-90 104 599.6)">Normalized Rectified Current (dB)</text>
<text x="413.5" y="744.3" font-size="13.8" fill="#111" text-anchor="middle" font-weight="normal">Frequency (GHz)</text>
<text x="176" y="518.5" font-size="13.7" fill="#222" text-anchor="start" font-weight="normal">RF-QCL</text>
<text x="75.3" y="498.6" font-size="18" fill="#000" text-anchor="start" font-weight="bold">e</text>
<text x="659.5" y="567.2" font-size="13.8" fill="#111" text-anchor="start" font-weight="normal">3 dB</text>
<clipPath id="clipE"><rect x="135.4" y="490.2" width="556" height="218.1"/></clipPath>
<g clip-path="url(#clipE)" fill="none" stroke-linejoin="round" stroke-width="1.05">
<path d="M136 558.9L145.89 552.33L154.92 552.32L163.23 551.06L170.92 551.15L178.09 551.29L184.78 551.54L191.08 551.86L197.01 549.42L202.62 551.87L207.95 552.29L213.01 551.17L217.84 550.48L222.45 549.44L226.87 551.01L231.11 550.74L235.18 550.79L239.1 552.96L242.87 552.55L246.51 551.87L250.03 551.25L253.44 550.11L256.73 548.97L259.92 548.84L263.02 549.52L266.03 551.05L268.96 549.96L271.8 551.05L274.57 552.32L277.26 551.96L279.89 550L282.46 547.41L284.96 546.35L287.4 544.82L289.79 544.3L292.12 546.64L294.4 548.29L296.63 549.51L298.82 550.1L300.96 547.9L303.05 545.17L305.11 543.43L307.12 542.14L309.1 541.27L311.04 541.66L312.95 543.1L314.82 544.85L316.65 545.83L318.46 546.45L320.23 546.69L321.98 545.13L323.69 542.52L325.38 540.99L327.04 539.91L328.68 539.47L330.29 540.27L331.87 542.14L333.43 543.42L334.97 544.8L336.48 545.98L337.98 545.75L339.45 544.89L340.9 543L342.33 542.38L343.75 543.06L345.14 543.1L346.51 543.9L347.87 545.85L349.21 547.21L350.53 548.45L351.84 548.43L353.13 547.23L354.4 545.88L355.66 545L356.9 545.58L358.13 546.9L359.35 548.39L360.55 549.18L361.73 548.95L362.9 547.54L364.06 546.44L365.21 544.86L366.35 545.28L367.47 547.14L368.58 547.79L369.68 548.36L370.76 548.81L371.84 549.38L372.9 549.2L373.96 549.09L375 547.67L376.03 545.76L377.06 544.3L378.07 542.8L379.07 543.08L380.06 543.83L381.05 544.92L382.02 545.36L382.99 546.36L383.94 545.92L384.89 544.6L385.83 542.38L386.76 540.1L387.69 538.87L388.6 538.93L389.51 539.5L390.41 540.84L391.3 542.85L392.18 544.25L393.06 544.34L393.92 544.54L394.79 542.33L395.64 540.53L396.49 539.42L397.33 538.03L398.16 538.25L398.99 539.47L399.81 541.21L400.62 543.36L401.43 544.59L402.23 544.57L403.03 544.47L403.82 543.72L404.6 543.46L405.38 542.24L406.15 542.57L406.92 543.51L407.68 545.03L408.43 546.94L409.18 547.4L409.92 547.27L410.66 547.37L411.4 547.5L412.13 547L412.85 547.05L413.57 547.47L414.28 547.15L414.99 546.72L415.69 546.34L416.39 546.03L417.09 545.37L417.78 545.61L418.46 545.15L419.14 544.93L419.82 544.66L420.49 544.97L421.16 545.61L421.82 545.91L422.48 546.11L423.13 546.72L423.78 547.1L424.43 546.72L425.07 546.58L425.71 546.11L426.35 545.46L426.98 545.29L427.61 544.45L428.23 543.66L428.85 542.6L429.46 542.06L430.08 541.68L430.69 540.96L431.29 540.47L431.89 539.74L432.49 539.78L433.09 540.06L433.68 540.1L434.27 540.45L434.85 540.33L435.43 541.16L436.01 541.23L436.59 542.1L437.16 541.98L437.73 542.22L438.29 542.43L438.85 543.11L439.41 543.19L439.97 543.41L440.52 543.33L441.07 544.01L441.62 543.96L442.17 545.33L442.71 545.1L443.25 545.6L443.78 545.83L444.32 545.72L444.85 546L445.38 546.56L445.9 547.37L446.43 546.61L446.95 546.88L447.46 547.21L447.98 546.93L448.49 547.09L449 547.64L449.51 547.97L450.01 548.17L450.52 549.3L451.02 548.94L451.51 549.48L452.01 550.31L452.5 550.55L452.99 549.39L453.48 549.61L453.97 549.91L454.45 548.49L454.93 548.04L455.41 547.29L455.89 546.65L456.37 546.14L456.84 546.09L457.31 546.14L457.78 545.78L458.24 544.58L458.71 543.49L459.17 543.6L459.63 543.08L460.09 542.96L460.55 542.41L461 541.61L461.45 542.16L461.9 541.19L462.35 541.51L462.8 541.78L463.24 541.7L463.69 542.22L464.13 540.62L464.56 541.47L465 541.59L465.44 541.1L465.87 541.49L466.3 540.79L466.73 541.48L467.16 541.46L467.59 540.98L468.01 541.24L468.43 541.6L468.85 541.68L469.27 542.69L469.69 542.52L470.11 543.39L470.52 543.59L470.93 543.27L471.35 543.41L471.76 543.37L472.16 543.64L472.57 543.89L472.97 544.61L473.38 544.39L473.78 545L474.18 545.32L474.58 545.28L474.97 545.6L475.37 546.63L475.76 546.86L476.16 545.8L476.55 546.05L476.94 545.98L477.32 545.99L477.71 546.9L478.1 546.39L478.48 546.65L478.86 546.87L479.24 545.65L479.62 545.67L480 545.68L480.38 546.13L480.75 545.37L481.13 545.58L481.5 545.66L481.87 545.41L482.24 544.75L482.61 543.95L482.98 543.41L483.34 544.39L483.71 543.78L484.07 542.96L484.43 542.95L484.79 542.84L485.15 542.3L485.51 543.06L485.87 542.63L486.23 542.88L486.58 543.54L486.94 543.2L487.29 543.72L487.64 543.83L487.99 543.8L488.34 544.02L488.69 545.35L489.03 544.38L489.38 545.67L489.72 544.55L490.06 545.57L490.41 545.44L490.75 545.24L491.09 544.65L491.43 546.88L491.76 545.62L492.1 545.91L492.44 546.6L492.77 546.77L493.1 547.13L493.44 547.07L493.77 546.78L494.1 548.14L494.43 547.4L494.75 548.08L495.08 548.46L495.41 548.97L495.73 548.22L496.05 548.24L496.38 548.3L496.7 547.63L497.02 548.06L497.34 547.91L497.66 547.79L497.98 548.31L498.29 547.99L498.61 549.08L498.92 548.91L499.24 547.02L499.55 547.79L499.86 547.17L500.18 547.85L500.49 547.45L500.8 547.78L501.1 547.15L501.41 547.2L501.72 546.28L502.02 545.03L502.33 545.3L502.63 545.13L502.94 544.98L503.24 544.45L503.54 545.73L503.84 544.27L504.14 544.99L504.44 543.74L504.74 544.85L505.03 543.04L505.33 543.91L505.62 542.86L505.92 543.79L506.21 544.65L506.5 542.93L506.8 543.41L507.09 544.16L507.38 544.11L507.67 543.8L507.96 545.48L508.24 544.96L508.53 546.1L508.82 545.67L509.1 545.17L509.39 545.72L509.67 547.16L509.96 545.75L510.24 546.36L510.52 547.19L510.8 547.68L511.08 547.74L511.36 546.66L511.64 549.07L511.92 547.69L512.19 547.99L512.47 548.19L512.75 548.29L513.02 548.15L513.29 548.65L513.57 549.97L513.84 548.53L514.11 548.2L514.38 549.91L514.66 549.91L514.93 550.34L515.19 551.2L515.46 549.67L515.73 550.24L516 550.54L516.26 551.14L516.53 551.01L516.8 549.82L517.06 549.53L517.32 550.01L517.59 549.27L517.85 550.79L518.11 549.63L518.37 549.51L518.63 549.09L518.89 550.53L519.15 549.41L519.41 548.8L519.67 549.29L519.93 548.59L520.18 548.9L520.44 549.28L520.69 547.95L520.95 548.31L521.2 548.13L521.46 548.49L521.71 547.94L521.96 547.39L522.21 546.95L522.46 547.43L522.71 546.62L522.96 547.64L523.21 547.17L523.46 547.57L523.71 546.91L523.96 546.81L524.2 546.8L524.45 548.21L524.7 547.3L524.94 547.37L525.18 546.67L525.43 547.65L525.67 546L525.92 548.97L526.16 547.87L526.4 548.12L526.64 547.48L526.88 547.76L527.12 548.93L527.36 548.44L527.6 549L527.84 549.79L528.08 549.4L528.31 547.97L528.55 548.53L528.79 548.53L529.02 548.72L529.26 548.18L529.49 548.25L529.72 548.98L529.96 549.11L530.19 549.89L530.42 549.34L530.66 550.73L530.89 548.62L531.12 548.89L531.35 549.87L531.58 549.55L531.81 549.21L532.04 550.41L532.26 550.71L532.49 550.93L532.72 549.65L532.95 549.89L533.17 550.12L533.4 550.01L533.62 550.86L533.85 549.77L534.07 550.38L534.3 548.91L534.52 550.79L534.74 551.58L534.97 550.22L535.19 551.16L535.41 549.42L535.63 550.2L535.85 549.59L536.07 550.76L536.29 550.99L536.51 549.85L536.73 550.2L536.95 550.4L537.17 552.87L537.38 550.81L537.6 551.02L537.82 551.29L538.03 551.3L538.25 550.98L538.46 550.44L538.68 550.86L538.89 552.72L539.11 551.59L539.32 551.22L539.53 550.73L539.74 551.51L539.96 551.63L540.17 551.29L540.38 552.49L540.59 551.43L540.8 551.71L541.01 552.6L541.22 552.09L541.43 552.93L541.64 551.84L541.85 551.76L542.05 552.45L542.26 552.25L542.47 553.14L542.67 552.47L542.88 552.12L543.09 552.56L543.29 552.77L543.5 551.56L543.7 552.14L543.91 552.06L544.11 553.35L544.31 552.01L544.52 553.27L544.72 551.6L544.92 552.32L545.12 553.34L545.32 552.24L545.52 553.46L545.72 551.25L545.92 552.47L546.12 552.61L546.32 552.4L546.52 551.61L546.72 553.12L546.92 551.15L547.12 553.41L547.32 552.81L547.51 553.47L547.71 552.42L547.91 551.92L548.1 552.28L548.3 552.32L548.49 553.16L548.69 552.42L548.88 553L549.08 553.07L549.27 553.94L549.46 551.43L549.66 552.38L549.85 553.27L550.04 553.27L550.23 552.29L550.43 552.46L550.62 552.57L550.81 552.75L551 552.29L551.19 552.24L551.38 551.95L551.57 552.4L551.76 553.95L551.95 552.05L552.14 553.55L552.32 554.48L552.51 552.83L552.7 554.89L552.89 552.55L553.07 554.24L553.26 552.61L553.45 551.89L553.63 552.98L553.82 554.46L554 552.28L554.19 553.11L554.37 552.03L554.56 552.1L554.74 553.1L554.92 552.53L555.11 553.21L555.29 553.89L555.47 551.91L555.65 552.22L555.84 552.71L556.02 554.92L556.2 552.45L556.38 552.35L556.56 553.1L556.74 554.74L556.92 552.29L557.1 552.46L557.28 552.72L557.46 553.43L557.64 554.84L557.82 551.89L557.99 551.63L558.17 552.87L558.35 553.25L558.53 551.29L558.7 552.33L558.88 553.71L559.06 552.41L559.23 553.27L559.41 552.98L559.58 553.47L559.76 553.27L559.93 553.11L560.11 554.12L560.28 552.49L560.46 553.03L560.63 554.06L560.81 552.55L560.98 552.7L561.15 552.47L561.32 552.37L561.5 555.08L561.67 553.53L561.84 554.98L562.01 553.85L562.18 553.21L562.35 552.93L562.52 553.45L562.69 553.16L562.86 554.16L563.03 552.65L563.2 553.46L563.37 553.78L563.54 553.15L563.71 553.17L563.88 553.95L564.05 553.99L564.21 553.34L564.38 553.46L564.55 553.1L564.72 554.11L564.88 553.46L565.05 552.55L565.22 553.42L565.38 554.34L565.55 554.05L565.71 553.18L565.88 554.62L566.04 554.54L566.21 554.61L566.37 555.62L566.54 553.85L566.7 554.79L566.86 554.04L567.03 555.34L567.19 555.59L567.35 554.96L567.51 555.31L567.68 554.04L567.84 555.34L568 553.95L568.16 557.12L568.32 556.15L568.48 553.97L568.65 553.3L568.81 556.57L568.97 554.69L569.13 555.95L569.29 554.57L569.45 555.63L569.61 555.2L569.76 556.38L569.92 555.61L570.08 557.55L570.24 555.59L570.4 557.64L570.56 556.44L570.71 557.2L570.87 555.74L571.03 555.83L571.19 558.36L571.34 556.59L571.5 557.39L571.65 557.6L571.81 557.38L571.97 558.39L572.12 557.36L572.28 557.65L572.43 559.59L572.59 558.14L572.74 559.58L572.9 559.55L573.05 560.51L573.2 559.38L573.36 557.65L573.51 558.54L573.66 558.83L573.82 560.67L573.97 560.08L574.12 559.92L574.27 561.5L574.43 561.76L574.58 563.75L574.73 564.53L574.88 566.71L575.03 566.77L575.18 568L575.33 566.94L575.48 567.27L575.64 565.48L575.79 565.08L575.94 563.25L576.08 561.54L576.23 560.08L576.38 559.12L576.53 558.99L576.68 556.21L576.83 558.74L576.98 555.36L577.13 556.66L577.27 556.37L577.42 557.24L577.57 556.51L577.72 556.03L577.86 555.97L578.01 556.74L578.16 558.09L578.3 555.71L578.45 553.62L578.6 554.6L578.74 555.18L578.89 558.25L579.03 553.84L579.18 553.98L579.32 554.75L579.47 554.39L579.61 553L579.76 554.98L579.9 552.95L580.05 553.71L580.19 555.41L580.33 552.98L580.48 553.7L580.62 555.85L580.76 553.8L580.91 553.26L581.05 553.63L581.19 555.03L581.33 552.98L581.48 553.7L581.62 553.14L581.76 553.4L581.9 555.75L582.04 554.26L582.18 554.05L582.32 554.89L582.47 553.93L582.61 553.61L582.75 555.84L582.89 555.57L583.03 553.99L583.17 555.45L583.31 556.35L583.45 555.27L583.58 555.31L583.72 553.84L583.86 554.68L584 553.41L584.14 556.09L584.28 554.68L584.42 556.35L584.55 554.24L584.69 555.82L584.83 553.61L584.97 554.47L585.1 555.37L585.24 555.12L585.38 554.63L585.51 553.4L585.65 556.13L585.79 555.31L585.92 555.82L586.06 555.76L586.2 554.11L586.33 554.8L586.47 557.4L586.6 553.61L586.74 554.67L586.87 553.72L587.01 556.16L587.14 554.26L587.27 553.24L587.41 553.53L587.54 552.89L587.68 552.21L587.81 551.86L587.94 553.35L588.08 553.04L588.21 554.08L588.34 553.29L588.48 554.21L588.61 556.1L588.74 553.15L588.87 553.18L589.01 555.36L589.14 557.07L589.27 553.69L589.4 553.16L589.53 554.34L589.66 554.36L589.8 555.64L589.93 554.09L590.06 554.83L590.19 554.92L590.32 554.07L590.45 554.2L590.58 556.08L590.71 556.33L590.84 555.19L590.97 557.82L591.1 557.18L591.23 556.74L591.36 557.03L591.49 556.83L591.61 557.39L591.74 557.67L591.87 556.8L592 555.22L592.13 556.8L592.26 556.39L592.38 556.23L592.51 558.01L592.64 556.01L592.77 558.54L592.89 557.15L593.02 556.82L593.15 557.22L593.27 560.9L593.4 559.97L593.53 558.06L593.65 559.71L593.78 560.7L593.91 557.93L594.03 558.5L594.16 559.96L594.28 559.42L594.41 558.72L594.53 561.11L594.66 559.79L594.78 560.21L594.91 562.25L595.03 559.93L595.16 562.65L595.28 559.76L595.41 559.26L595.53 559.55L595.66 560.48L595.78 560.2L595.9 559.84L596.03 558.18L596.15 558.49L596.27 559.14L596.4 560.25L596.52 561.14L596.64 557.39L596.76 559.18L596.89 558.92L597.01 559.19L597.13 559.52L597.25 558.56L597.38 558.17L597.5 560.5L597.62 560.16L597.74 558.87L597.86 559.1L597.98 558.64L598.1 558.05L598.22 560.01L598.35 558.68L598.47 558.38L598.59 558.89L598.71 561.57L598.83 560.19L598.95 560.08L599.07 560.06L599.19 561.21L599.31 561.21L599.43 559.38L599.55 560.4L599.66 560.2L599.78 561.11L599.9 560.89L600.02 559.38L600.14 562.53L600.26 561.45L600.38 559.76L600.5 562.7L600.61 561.44L600.73 561.94L600.85 561.42L600.97 561.64L601.08 561.08L601.2 560.16L601.32 561.07L601.44 561.85L601.55 561.71L601.67 562.55L601.79 561.68L601.9 559.92L602.02 562.78L602.14 561.2L602.25 560.78L602.37 561.68L602.49 560.83L602.6 562.47L602.72 561.27L602.83 564.63L602.95 561.9L603.06 561.67L603.18 561.62L603.29 560.36L603.41 561.49L603.52 561.61L603.64 562.01L603.75 560.41L603.87 562.38L603.98 564.07L604.1 562.02L604.21 562.37L604.32 562.99L604.44 561.79L604.55 562.15L604.67 563.85L604.78 562.86L604.89 561.6L605.01 561.16L605.12 565.88L605.23 563.41L605.35 561.48L605.46 563.12L605.57 563.89L605.68 563.17L605.8 561.41L605.91 565.62L606.02 563.99L606.13 563.05L606.24 564.21L606.36 563.13L606.47 563.08L606.58 564.63L606.69 561.64L606.8 564.83L606.91 564L607.02 564.53L607.13 564.77L607.25 565.7L607.36 565.56L607.47 564.79L607.58 563.2L607.69 564.55L607.8 563.14L607.91 562.72L608.02 564.26L608.13 564.14L608.24 565.35L608.35 561.68L608.46 564.53L608.57 564.64L608.68 563.85L608.79 565.84L608.89 562.89L609 564.21L609.11 563.37L609.22 563.72L609.33 562.84L609.44 563.62L609.55 564.75L609.65 563.95L609.76 564.29L609.87 563.06L609.98 566.12L610.09 563.13L610.19 563.84L610.3 564.68L610.41 563.63L610.52 564.94L610.62 564.11L610.73 566.34L610.84 564.65L610.95 564.42L611.05 563.05L611.16 564.52L611.27 565.35L611.37 564.53L611.48 563.05L611.58 563.47L611.69 563.82L611.8 564.14L611.9 562.81L612.01 567L612.11 564.14L612.22 564.48L612.33 563.91L612.43 564.35L612.54 567.34L612.64 563.58L612.75 564.05L612.85 563.6L612.96 564.12L613.06 567.03L613.17 564.15L613.27 564.31L613.38 563L613.48 564.4L613.58 565.1L613.69 564.27L613.79 564.35L613.9 565.97L614 565.55L614.1 564.63L614.21 563.96L614.31 563.24L614.41 567.3L614.52 563.19L614.62 565.71L614.72 564.5L614.83 563.97L614.93 566.06L615.03 563.95L615.14 566.63L615.24 563.65L615.34 565.43L615.44 566.64L615.55 563.68L615.65 567.91L615.75 565.97L615.85 562.41L615.95 566.79L616.06 567.59L616.16 564.33L616.26 564.39L616.36 565.17L616.46 562.66L616.56 564.81L616.66 566.02L616.77 563.98L616.87 566.29L616.97 568.01L617.07 562.52L617.17 562.66L617.27 563.76L617.37 565.48L617.47 565.08L617.57 563.51L617.67 563.32L617.77 563.79L617.87 567.32L617.97 563.7L618.07 564.14L618.17 566.34L618.27 564.59L618.37 563.92L618.47 567.32L618.57 565.63L618.67 564.44L618.77 564.83L618.87 566.81L618.97 564.99L619.06 565.88L619.16 566.98L619.26 567.23L619.36 563.77L619.46 565.25L619.56 565.4L619.66 565.94L619.75 567.03L619.85 567.67L619.95 565.27L620.05 564.58L620.15 566.08L620.24 565.11L620.34 568.6L620.44 566.35L620.54 565.85L620.63 567.39L620.73 565.02L620.83 565.35L620.93 565.52L621.02 566.81L621.12 567.88L621.22 567.03L621.31 566.97L621.41 565.44L621.51 566.32L621.6 565.41L621.7 567.61L621.8 564.98L621.89 565.56L621.99 566.07L622.08 566.97L622.18 564.84L622.28 565.36L622.37 564.72L622.47 564.15L622.56 567.44L622.66 566.38L622.75 563.95L622.85 564.5L622.94 566.52L623.04 564.88L623.14 564.39L623.23 567.67L623.33 564.99L623.42 565.1L623.51 566.48L623.61 564.71L623.7 565.6L623.8 565.93L623.89 567.02L623.99 565.01L624.08 567.78L624.18 566.61L624.27 569.19L624.36 566.6L624.46 565.71L624.55 565.8L624.65 565.25L624.74 566.6L624.83 566.62L624.93 568.35L625.02 567.06L625.11 566.06L625.21 568.89L625.3 566.72L625.39 567.79L625.48 569.86L625.58 569.54L625.67 566.5L625.76 567.19L625.86 569.67L625.95 569.05L626.04 568.28L626.13 568.89L626.23 564.91L626.32 567L626.41 565.72L626.5 566.62L626.59 566.91L626.69 568.18L626.78 569.41L626.87 568.73L626.96 567.83L627.05 566.96L627.14 569.61L627.24 567.82L627.33 565.37L627.42 567.3L627.51 568.25L627.6 566.3L627.69 567.77L627.78 570.08L627.87 567.12L627.96 567.36L628.05 567.39L628.15 566.34L628.24 566.94L628.33 566.37L628.42 567.24L628.51 566.71L628.6 569.39L628.69 567.64L628.78 569.34L628.87 566.48L628.96 568.01L629.05 569.13L629.14 569.45L629.23 567.63L629.32 568.35L629.41 568.82L629.49 568.52L629.58 568.7L629.67 570.37L629.76 568.37L629.85 567.95L629.94 569.82L630.03 571.22L630.12 568.44L630.21 573.94L630.3 572.06L630.39 573.4L630.47 571.87L630.56 573.3L630.65 577.17L630.74 577.76L630.83 576L630.92 575.07L631 575.75L631.09 578.61L631.18 575.65L631.27 575.62L631.36 576.74L631.44 578.65L631.53 575.76L631.62 577.61L631.71 577.54L631.79 576.92L631.88 576.31L631.97 577.9L632.06 576.92L632.14 573.8L632.23 578.13L632.32 575.59L632.4 574.94L632.49 573.6L632.58 573.31L632.66 570.28L632.75 572.7L632.84 573.71L632.92 573.46L633.01 571.28L633.1 568.98L633.18 570.23L633.27 570.99L633.36 573.5L633.44 568.98L633.53 570.77L633.61 571.6L633.7 571.48L633.79 570.08L633.87 566.63L633.96 570.93L634.04 569.86L634.13 570.5L634.21 568.24L634.3 568.67L634.38 571.94L634.47 568.9L634.55 568.89L634.64 567.92L634.73 571.06L634.81 566.69L634.89 568.14L634.98 569.65L635.06 568.93L635.15 570.74L635.23 569.98L635.32 572.08L635.4 569.21L635.49 569.47L635.57 570.28L635.66 567.74L635.74 572.83L635.82 569.17L635.91 572.66L635.99 573.45L636.08 572.82L636.16 571.44L636.24 570.5L636.33 568.83L636.41 572.65L636.5 571.35L636.58 575.07L636.66 571.44L636.75 573.1L636.83 571.47L636.91 572.89L637 571.72L637.08 572.04L637.16 569.97L637.24 571.54L637.33 572.35L637.41 575.14L637.49 573.25L637.58 571.28L637.66 576.05L637.74 573.71L637.82 575.32L637.91 572.06L637.99 569.13L638.07 572.42L638.15 572.18L638.24 574.09L638.32 571.69L638.4 572.61L638.48 572.08L638.56 574.16L638.65 572.79L638.73 576.8L638.81 575.69L638.89 575.87L638.97 573.97L639.05 574.77L639.14 576.08L639.22 573.3L639.3 576.94L639.38 574.37L639.46 577.05L639.54 579.08L639.62 577.72L639.7 573.2L639.79 577.1L639.87 574.28L639.95 574.3L640.03 574.8L640.11 573.85L640.19 576.19L640.27 575.11L640.35 578.68L640.43 577.42L640.51 573.71L640.59 576.16L640.67 576.36L640.75 576.99L640.83 577.17L640.91 578.53L640.99 577.9L641.07 576.62L641.15 578.89L641.23 579.78L641.31 577.81L641.39 580.17L641.47 578.39L641.55 576.56L641.63 576.62L641.71 577.03L641.79 578.02L641.87 577.18L641.95 578.81L642.03 579.12L642.11 575.28L642.19 575.03L642.27 576.41L642.34 577.46L642.42 578.39L642.5 577.79L642.58 577.69L642.66 575.07L642.74 577.09L642.82 575.37L642.9 577.09L642.97 578.08L643.05 575.2L643.13 575.74L643.21 581.32L643.29 574.94L643.37 575.24L643.44 574.38L643.52 573.85L643.6 577.95L643.68 574.81L643.76 574.84L643.83 574.55L643.91 571.69L643.99 577.2L644.07 574.75L644.15 575.4L644.22 578.43L644.3 575.18L644.38 575.61L644.46 575.67L644.53 578.06L644.61 573.29L644.69 574.36L644.76 572.02L644.84 575.23L644.92 576.74L645 574.85L645.07 580.06L645.15 577.94L645.23 580.28L645.3 576.42L645.38 580.27L645.46 575.6L645.53 577.44L645.61 576.95L645.69 576.18L645.76 580.72L645.84 580.13L645.92 576.27L645.99 579.03L646.07 577.84L646.14 578.15L646.22 579.33L646.3 577.16L646.37 578.36L646.45 578.59L646.52 576.94L646.6 577.07L646.68 579.85L646.75 577.92L646.83 583.29L646.9 582.76L646.98 576.67L647.05 578.5L647.13 574.72L647.21 576.73L647.28 576.35L647.36 576.52L647.43 574.46L647.51 578.29L647.58 578L647.66 576.44L647.73 577.54L647.81 579.83L647.88 581.44L647.96 575.67L648.03 581.43L648.11 575.09L648.18 576.45L648.26 577.11L648.33 581.38L648.4 579.18L648.48 579.16L648.55 581.51L648.63 578.38L648.7 577.22L648.78 581.48L648.85 577.74L648.92 576.25L649 575.69L649.07 578.91L649.15 583.25L649.22 580.81L649.29 579.43L649.37 582.59L649.44 577.74L649.52 581.61L649.59 580.37L649.66 585.18L649.74 581.17L649.81 585.03L649.88 584.13L649.96 584.2L650.03 586.3L650.1 584.76L650.18 588.75L650.25 585.09L650.32 582.09L650.4 589.06L650.47 588.71L650.54 586.54L650.62 588.54L650.69 586.59L650.76 583.33L650.83 581.16L650.91 582.32L650.98 583.1L651.05 584.46L651.13 580.56L651.2 581.06L651.27 586L651.34 580.87L651.42 580.61L651.49 580.08L651.56 585.51L651.63 583.3L651.7 583.44L651.78 585.26L651.85 583.44L651.92 584.31L651.99 581.78L652.06 582.97L652.14 582.29L652.21 582.39L652.28 578.65L652.35 580.11L652.42 579.78L652.5 579.23L652.57 580.12L652.64 584.7L652.71 582.4L652.78 580.14L652.85 580.65L652.92 583.29L653 577.6L653.07 580.47L653.14 583.62L653.21 583.86L653.28 581.45L653.35 580.44L653.42 575.93L653.49 577.62L653.56 578.6L653.64 579.51L653.71 579.48L653.78 574.51L653.85 577.29L653.92 578.76L653.99 576.8L654.06 577.8L654.13 579.58L654.2 579.15L654.27 578.9L654.34 580.47L654.41 581.6L654.48 578.29L654.55 577.12L654.62 577.82L654.69 578.28L654.76 579.14L654.83 576.79L654.9 578.16L654.97 579.14L655.04 583.24L655.11 581.16L655.18 579.67L655.25 582.38L655.32 580.42L655.39 580.47L655.46 582.59L655.53 580.57L655.6 580L655.67 581.43L655.74 578.51L655.81 579.48L655.88 575.7L655.95 578.5L656.02 583.26L656.09 578.47L656.15 579.03L656.22 578.25L656.29 577.16L656.36 580.18L656.43 578.8L656.5 581.73L656.57 577.23L656.64 578.84L656.71 578.12L656.78 577.67L656.84 581.59L656.91 577.38L656.98 577.39L657.05 585.49L657.12 578.5L657.19 578.26L657.26 579.88L657.32 576.86L657.39 579.58L657.46 576.56L657.53 577.8L657.6 577.63L657.67 582.34L657.73 580.39L657.8 583.74L657.87 583.29L657.94 577.49L658.01 580.16L658.07 577.96L658.14 577.62L658.21 582.07L658.28 582.89L658.34 579.53L658.41 580.36L658.48 580.5L658.55 580.84L658.62 581.18L658.68 578.66L658.75 582.43L658.82 579.75L658.88 579.11L658.95 581.25L659.02 582.52L659.09 584.39L659.15 583.37L659.22 583.41L659.29 581.67L659.36 584.29L659.42 584.08L659.49 584.62L659.56 582.55L659.62 588.81L659.69 586.27L659.76 586.21L659.82 584.72L659.89 584.11L659.96 587.44L660.02 582.58L660.09 584.33L660.16 584.81L660.22 587.11L660.29 585.05L660.36 589.75L660.42 582.54L660.49 590.24L660.56 586.63L660.62 588.33L660.69 584.58L660.75 588.34L660.82 584.58L660.89 585.71L660.95 582.02L661.02 586.09L661.08 584.66L661.15 580.61L661.22 583.7L661.28 583.12L661.35 585.91L661.41 582.14L661.48 583.81L661.54 586.89L661.61 581.44L661.68 588.44L661.74 583.62L661.81 582.43L661.87 580.25L661.94 579.43L662 585.5L662.07 581.81L662.13 581.47L662.2 585.72L662.26 584.56L662.33 582.9L662.39 579.9L662.46 579.21L662.52 585.9L662.59 583.26L662.65 583.08L662.72 589.46L662.78 583.24L662.85 585.32L662.91 590.87L662.98 586.54L663.04 583.9L663.11 583.57L663.17 589.03L663.24 583.28L663.3 588.36L663.37 590.93L663.43 586.14L663.5 589.03L663.56 587.01L663.62 591.02L663.69 587.56L663.75 585.34L663.82 587.74L663.88 587.07L663.95 585.39L664.01 586.08L664.07 584.17L664.14 584.84L664.2 588.37L664.27 582.8L664.33 587.19L664.39 586.34L664.46 585.1L664.52 590.48L664.59 588.27L664.65 584.96L664.71 586.7L664.78 588.82L664.84 582.9L664.9 586.59L664.97 585.39L665.03 587.04L665.09 592.24L665.16 584.45L665.22 585L665.28 583.27L665.35 586.26L665.41 587.44L665.47 580.64L665.54 589.98L665.6 590.34L665.66 580.1L665.73 582.36L665.79 586.82L665.85 585.65L665.92 589.02L665.98 584.85L666.04 589.51L666.1 582.85L666.17 586.98L666.23 584.94L666.29 585.02L666.36 582.77L666.42 585.95L666.48 591.56L666.54 586.42L666.61 587.73L666.67 589.1L666.73 587.15L666.79 590.36L666.86 591.64L666.92 589.67L666.98 586.67L667.04 595.47L667.1 590.97L667.17 590.84L667.23 590.48L667.29 589.72L667.35 587.53L667.42 590.75L667.48 591.33L667.54 593.64L667.6 595.37L667.66 588.34L667.73 594.68L667.79 589.57L667.85 590.9L667.91 586.68L667.97 589.7L668.03 586.44L668.1 590.4L668.16 585.49L668.22 588.1L668.28 586.94L668.34 588.89L668.4 588.47L668.46 588.08L668.53 586.39L668.59 590.18L668.65 589.17L668.71 585.58L668.77 589.59L668.83 585.71L668.89 587.33L668.96 586.7L669.02 586.63L669.08 589.41L669.14 582.96L669.2 590.82L669.26 582.88L669.32 590.59L669.38 588.34L669.44 583.26L669.5 587.55L669.56 585.56L669.63 583.69L669.69 590.14L669.75 589.79L669.81 587.33L669.87 591.51L669.93 586.46L669.99 585.2L670.05 590.16L670.11 584.1L670.17 588.54L670.23 589.83L670.29 587.12L670.35 586.98L670.41 588.48L670.47 587.93L670.53 585.71L670.59 579.77L670.65 586.59L670.71 584.78L670.77 591.62L670.83 587.44L670.89 589.64L670.95 591.64L671.01 592.82L671.07 587.4L671.13 597.24L671.19 593.27L671.25 592.59L671.31 588.19L671.37 597.31L671.43 592.62L671.49 594.23L671.55 589.55L671.61 597.04L671.67 595.64L671.73 590.23L671.79 597.69L671.85 588.31L671.91 594.08L671.97 593.48L672.03 593.83L672.09 589.84L672.15 590.81L672.2 595.38L672.26 595.92L672.32 592.06L672.38 591.62L672.44 591.06L672.5 597.13L672.56 591.81L672.62 590.76L672.68 587.45L672.74 587.48L672.8 588.74L672.85 586.32L672.91 589.8L672.97 589.75L673.03 587.83L673.09 588.9L673.15 589.43L673.21 585.27L673.27 591.83L673.32 582.55L673.38 596.12L673.44 585.3L673.5 588.8L673.56 587.76L673.62 589.94L673.68 586.68L673.73 590.43L673.79 584.63L673.85 591.38L673.91 588.13L673.97 590.51L674.03 593.23L674.08 586.79L674.14 588.52L674.2 588.42L674.26 590.3L674.32 591.45L674.37 593.87L674.43 592.24L674.49 591.32L674.55 594.08L674.61 596.25L674.66 596.31L674.72 600.96L674.78 591.64L674.84 594.39L674.89 590.47L674.95 592.07L675.01 596.16L675.07 598.63L675.13 592.49L675.18 595.53L675.24 594L675.3 595.66L675.36 594.51L675.41 592.44L675.47 587.97L675.53 589.82L675.59 595.1L675.64 593.35L675.7 601.8L675.76 593.75L675.81 597.19L675.87 590.56L675.93 590.03L675.99 594.42L676.04 600.34L676.1 595.35L676.16 593L676.21 595.56L676.27 596.56L676.33 596.05L676.38 594.53L676.44 591.92L676.5 591.93L676.56 593.79L676.61 595.04L676.67 592.21L676.73 602.35L676.78 598.51L676.84 594.88L676.9 599.52L676.95 606.44L677.01 597.54L677.07 597.44L677.12 600.69L677.18 592.78L677.24 594.72L677.29 594L677.35 599.02L677.4 591.37L677.46 597.29L677.52 594.79L677.57 595.45L677.63 594.88L677.69 602.68L677.74 594.44L677.8 593.77L677.85 598.51L677.91 595.92L677.97 599.92L678.02 597.91L678.08 598.54L678.13 598.95L678.19 594.47L678.25 593.93L678.3 608.27L678.36 596.91L678.41 602.66L678.47 597.41L678.53 600.25L678.58 599.79L678.64 606.74L678.69 600L678.75 596.37L678.8 596.7L678.86 601.91L678.91 604.39L678.97 609.32L679.03 609.86L679.08 596.75L679.14 600.36L679.19 661L679.25 601.91L679.3 604.19L679.36 595.59L679.41 604.42L679.47 603.83L679.52 599.96L679.58 598.97L679.63 607.93L679.69 600.2L679.74 597.53L679.8 601.06L679.85 605.12L679.91 603.55L679.96 594.92L680.02 596.57L680.07 599.21L680.13 600.99L680.18 600.94L680.24 596.66L680.29 604.29L680.35 602.27L680.4 595.61L680.46 597.33L680.51 599.74L680.57 595.67L680.62 600.18L680.68 600.85L680.73 598.87L680.79 602.83L680.84 608.75L680.89 599.14L680.95 603.76L681 600.87L681.06 609.8L681.11 609.16L681.17 604.09L681.22 602.94L681.28 608.94L681.33 605.74L681.38 602.82L681.44 603.9L681.49 606.71L681.55 617.45L681.6 612.63L681.65 614.06L681.71 612.03L681.76 614.02L681.82 614.52L681.87 603.79L681.93 609.5L681.98 609.18L682.03 608.18L682.09 607.48L682.14 597.66L682.19 605.81L682.25 600.64L682.3 609.03L682.36 602.8L682.41 603.39L682.46 603.93L682.52 597.81L682.57 603.37L682.62 599.97L682.68 608.26L682.73 602.04L682.78 600.12L682.84 609.4L682.89 602.52L682.94 600.39L683 602.97L683.05 602.62L683.11 604.26L683.16 600L683.21 608.14L683.27 604.49L683.32 610.7L683.37 605.52L683.42 599.73L683.48 607.81L683.53 601.83L683.58 603.07L683.64 594.87L683.69 598.55L683.74 609.06L683.8 607.7L683.85 596.78L683.9 603.84L683.96 603.84L684.01 608.21L684.06 598.62L684.11 596.52L684.17 603.67L684.22 600.36L684.27 600.88L684.32 600.22L684.38 609.5L684.43 600.94L684.48 608.78L684.54 607.4L684.59 602.59L684.64 609.91L684.69 611.75L684.75 607.66L684.8 605.55L684.85 610.59L684.9 604.91L684.96 610.37L685.01 616.19L685.06 604.76L685.11 603.9L685.16 613.78L685.22 607.47L685.27 609.13L685.32 611.66L685.37 608.99L685.43 611.82L685.48 607.9L685.53 609.34L685.58 610.68L685.63 613.68L685.69 609.05L685.74 611.94L685.79 612.98L685.84 612.05L685.89 608.54L685.95 615.59L686 605.5L686.05 613.55L686.1 612.98L686.15 612.18L686.21 605.26L686.26 612.21L686.31 609.41L686.36 602.62L686.41 605.39L686.46 601.72L686.52 608.5L686.57 614.16L686.62 611.48L686.67 602.56L686.72 602.48L686.77 605.4L686.82 605.49L686.88 610.32L686.93 604.79L686.98 612.49L687.03 603.95L687.08 611.96L687.13 600.44L687.18 603.75L687.24 606.09L687.29 610.71L687.34 608.91L687.39 602.64L687.44 601.31L687.49 606.54L687.54 606.61L687.59 605.79L687.64 607.58L687.7 602.84L687.75 611.5L687.8 614.8L687.85 605.56L687.9 606.05L687.95 617.41L688 616.85L688.05 607.43L688.1 608.32L688.15 604.55L688.2 615.21L688.26 614L688.31 613.6L688.36 628.03L688.41 613.45L688.46 614.22L688.51 616.96L688.56 615.04L688.61 623.52L688.66 616.12L688.71 618.08L688.76 632.03L688.81 615.07L688.86 612.41L688.91 618.3L688.96 614.24L689.01 613.73L689.06 617.46L689.11 621.13L689.17 608.45L689.22 613.67L689.27 605.24L689.32 620.07L689.37 609.19L689.42 617.86L689.47 625.52L689.52 622.43L689.57 616.17L689.62 604.63L689.67 626.24L689.72 611.54L689.77 618.91L689.82 611.26L689.87 612.48L689.92 624.8L689.97 606.32L690.02 608.27L690.07 612.54L690.12 621.34L690.17 602.77L690.22 622.97L690.27 612.31L690.32 619.2L690.37 633.03L690.42 618.11L690.47 622.41L690.51 624.75L690.56 613.98L690.61 616.88L690.66 615.53L690.71 618.38L690.76 615.87L690.81 615.32L690.86 615.4L690.91 624.31L690.96 612.93L691.01 620.46L691.06 630.29L691.11 614.07L691.16 612.78L691.21 626.65L691.26 640L691.31 652L691.36 646" stroke="#8c2a8e"/>
<path d="M136 552.12L145.89 552.28L154.92 552L163.23 551.65L170.92 551.66L178.09 551.57L184.78 551.6L191.08 551.6L197.01 551.71L202.62 552L207.95 551.96L213.01 552.11L217.84 552.23L222.45 552.2L226.87 552.37L231.11 552.35L235.18 552.47L239.1 552.44L242.87 552.32L246.51 552.26L250.03 552.04L253.44 551.78L256.73 551.23L259.92 550.79L263.02 550.92L266.03 552.01L268.96 551.11L271.8 552.33L274.57 553.67L277.26 553.5L279.89 551.62L282.46 549.16L284.96 548.18L287.4 546.74L289.79 546.27L292.12 548.78L294.4 550.5L296.63 551.73L298.82 552.79L300.96 550.41L303.05 547.99L305.11 546.5L307.12 545.34L309.1 544.49L311.04 544.83L312.95 546.59L314.82 548.26L316.65 549.45L318.46 549.97L320.23 550.38L321.98 548.61L323.69 546.06L325.38 544.36L327.04 543.63L328.68 543.15L330.29 543.93L331.87 545.66L333.43 547.21L334.97 548.58L336.48 549.69L337.98 549.83L339.45 548.51L340.9 546.95L342.33 546.33L343.75 546.59L345.14 547.15L346.51 547.82L347.87 549.61L349.21 551.26L350.53 552.47L351.84 552.41L353.13 551.35L354.4 550.12L355.66 549.09L356.9 549.79L358.13 551.25L359.35 552.7L360.55 553.78L361.73 553.6L362.9 552.42L364.06 550.89L365.21 549.76L366.35 549.88L367.47 551.62L368.58 553.08L369.68 553.38L370.76 553.77L371.84 554.29L372.9 554.45L373.96 554.35L375 552.97L376.03 551.01L377.06 549.28L378.07 548.45L379.07 548.55L380.06 549.19L381.05 550.36L382.02 551.05L382.99 551.68L383.94 551.53L384.89 550.02L385.83 548.06L386.76 546.21L387.69 544.86L388.6 544.62L389.51 545.42L390.41 546.76L391.3 548.31L392.18 550.06L393.06 550.3L393.92 550.23L394.79 548.65L395.64 547.09L396.49 545.37L397.33 544.17L398.16 544.06L398.99 545.25L399.81 547.4L400.62 549.09L401.43 550.48L402.23 551.1L403.03 550.66L403.82 549.73L404.6 548.96L405.38 548.45L406.15 548.68L406.92 549.62L407.68 550.99L408.43 552.45L409.18 553.4L409.92 553.29L410.66 553.32L411.4 553.37L412.13 553.53L412.85 553.22L413.57 553.1L414.28 553.27L414.99 552.73L415.69 552.47L416.39 552.29L417.09 551.94L417.78 551.5L418.46 550.9L419.14 551.12L419.82 551.13L420.49 551.25L421.16 551.67L421.82 552.17L422.48 552.35L423.13 552.59L423.78 552.74L424.43 553.01L425.07 552.77L425.71 552.38L426.35 551.74L426.98 551.21L427.61 550.55L428.23 549.76L428.85 548.9L429.46 548.6L430.08 547.91L430.69 546.95L431.29 546.7L431.89 545.85L432.49 545.58L433.09 545.76L433.68 545.82L434.27 545.96L434.85 546.39L435.43 547.06L436.01 547.3L436.59 548.01L437.16 548.23L437.73 548.67L438.29 548.77L438.85 548.9L439.41 549.31L439.97 549.49L440.52 549.65L441.07 550.02L441.62 550.41L442.17 550.95L442.71 551.48L443.25 551.72L443.78 551.92L444.32 552.3L444.85 552.69L445.38 552.99L445.9 552.84L446.43 553.18L446.95 553.24L447.46 553.17L447.98 553.45L448.49 553.71L449 553.91L449.51 554.16L450.01 554.43L450.52 554.93L451.02 555.09L451.51 555.34L452.01 555.93L452.5 555.93L452.99 556.25L453.48 555.85L453.97 555.89L454.45 554.97L454.93 554.39L455.41 554.06L455.89 553.66L456.37 552.61L456.84 552.58L457.31 552.11L457.78 551.48L458.24 550.79L458.71 550.04L459.17 549.65L459.63 549.32L460.09 549.15L460.55 548.67L461 548.33L461.45 548.24L461.9 547.86L462.35 548.07L462.8 547.75L463.24 548.07L463.69 547.74L464.13 547.52L464.56 547.48L465 547.27L465.44 547.5L465.87 547.29L466.3 547.4L466.73 547.67L467.16 547.54L467.59 547.68L468.01 548.34L468.43 548.09L468.85 548.42L469.27 548.39L469.69 548.52L470.11 549.03L470.52 549.08L470.93 549.06L471.35 549.89L471.76 550.05L472.16 550.03L472.57 550.75L472.97 550.7L473.38 550.91L473.78 551.1L474.18 551.78L474.58 551.67L474.97 551.88L475.37 552.06L475.76 552.15L476.16 552.11L476.55 552.29L476.94 552.27L477.32 552.55L477.71 552.14L478.1 552.47L478.48 552.16L478.86 552.05L479.24 552.08L479.62 552.04L480 551.98L480.38 551.99L480.75 551.75L481.13 551.25L481.5 551.17L481.87 551.45L482.24 550.76L482.61 550.13L482.98 550.3L483.34 550.45L483.71 550.08L484.07 549.59L484.43 549.46L484.79 549.44L485.15 549.17L485.51 549.08L485.87 549.61L486.23 549.18L486.58 549.61L486.94 549.22L487.29 549.51L487.64 549.63L487.99 550.13L488.34 550.13L488.69 550.34L489.03 550.52L489.38 550.95L489.72 551.39L490.06 551.25L490.41 551.72L490.75 551.74L491.09 551.81L491.43 552.19L491.76 552.66L492.1 552.06L492.44 552.91L492.77 553.42L493.1 553.13L493.44 553.58L493.77 553.85L494.1 553.92L494.43 554.03L494.75 554.49L495.08 554.58L495.41 554.45L495.73 554.67L496.05 554.39L496.38 554.55L496.7 554.61L497.02 554.54L497.34 554.38L497.66 554.8L497.98 554.47L498.29 554.49L498.61 553.95L498.92 553.99L499.24 553.85L499.55 553.83L499.86 554.22L500.18 554.35L500.49 553.54L500.8 553.41L501.1 553.04L501.41 552.73L501.72 552.8L502.02 552.18L502.33 551.75L502.63 551.82L502.94 551.29L503.24 551.12L503.54 550.82L503.84 550.75L504.14 550.4L504.44 550.27L504.74 549.81L505.03 549.67L505.33 549.72L505.62 549.64L505.92 549.74L506.21 549.77L506.5 550.4L506.8 549.88L507.09 550.24L507.38 550.34L507.67 550.92L507.96 550.62L508.24 550.78L508.53 551.63L508.82 551.75L509.1 551.84L509.39 551.88L509.67 552.63L509.96 552.59L510.24 552.54L510.52 552.73L510.8 552.89L511.08 553.64L511.36 553.38L511.64 553.42L511.92 553.71L512.19 554.38L512.47 554.43L512.75 554.31L513.02 554.43L513.29 554.74L513.57 555.12L513.84 555.14L514.11 555.28L514.38 555.56L514.66 555.59L514.93 555.62L515.19 555.67L515.46 555.87L515.73 555.99L516 556.28L516.26 556.26L516.53 556.09L516.8 556.6L517.06 555.98L517.32 556.46L517.59 555.84L517.85 555.9L518.11 556.1L518.37 555.97L518.63 555.37L518.89 555.39L519.15 554.96L519.41 554.97L519.67 554.95L519.93 554.52L520.18 554.91L520.44 554.41L520.69 554.29L520.95 553.78L521.2 553.71L521.46 553.68L521.71 553.72L521.96 553.55L522.21 553.14L522.46 552.98L522.71 552.85L522.96 553.75L523.21 553.43L523.46 553.54L523.71 553.07L523.96 553.79L524.2 553.35L524.45 553.32L524.7 553.2L524.94 553.1L525.18 553.7L525.43 553.59L525.67 553.66L525.92 553.48L526.16 553.45L526.4 553.74L526.64 554.37L526.88 554.81L527.12 554.16L527.36 554.33L527.6 554.17L527.84 554.39L528.08 554.8L528.31 554.63L528.55 554.91L528.79 555.36L529.02 554.98L529.26 554.83L529.49 555.69L529.72 555.38L529.96 555.29L530.19 555.37L530.42 555.25L530.66 555.57L530.89 555.07L531.12 555.4L531.35 555.18L531.58 555.45L531.81 555.71L532.04 555.49L532.26 556.15L532.49 555.58L532.72 555.46L532.95 555.75L533.17 555.75L533.4 555.81L533.62 555.75L533.85 555.74L534.07 556.11L534.3 555.47L534.52 556.12L534.74 555.77L534.97 555.91L535.19 555.78L535.41 556.46L535.63 555.62L535.85 555.85L536.07 556.07L536.29 556.46L536.51 555.98L536.73 556.51L536.95 556.76L537.17 556.25L537.38 555.94L537.6 556.83L537.82 556.59L538.03 556.67L538.25 557.12L538.46 557.07L538.68 556.74L538.89 556.98L539.11 556.79L539.32 557.2L539.53 557.08L539.74 557.33L539.96 557.06L540.17 557.33L540.38 557.42L540.59 557.55L540.8 557.42L541.01 556.97L541.22 557.65L541.43 557.24L541.64 557.91L541.85 557.57L542.05 557.6L542.26 557.47L542.47 558.27L542.67 557.48L542.88 558.18L543.09 558.29L543.29 558.87L543.5 558.24L543.7 557.73L543.91 557.56L544.11 557.62L544.31 557.46L544.52 558.34L544.72 557.98L544.92 557.6L545.12 558.17L545.32 557.94L545.52 558.31L545.72 558.07L545.92 557.68L546.12 558.02L546.32 558.32L546.52 558.03L546.72 558.04L546.92 557.69L547.12 557.85L547.32 558.05L547.51 558.34L547.71 557.88L547.91 557.94L548.1 558.88L548.3 557.8L548.49 557.99L548.69 557.8L548.88 558.05L549.08 558.37L549.27 558.37L549.46 558.21L549.66 558.54L549.85 558.03L550.04 558.29L550.23 557.77L550.43 558.43L550.62 557.86L550.81 558.53L551 557.74L551.19 558.13L551.38 558.12L551.57 558.12L551.76 557.95L551.95 558.63L552.14 558.15L552.32 557.68L552.51 557.84L552.7 558.48L552.89 557.73L553.07 558.72L553.26 557.86L553.45 557.47L553.63 558.32L553.82 557.71L554 556.96L554.19 557.95L554.37 557.59L554.56 558.01L554.74 558.21L554.92 558.26L555.11 557.85L555.29 557.48L555.47 558.45L555.65 557.94L555.84 557.92L556.02 557.48L556.2 557.7L556.38 557.95L556.56 557.83L556.74 557.95L556.92 557.6L557.1 557.4L557.28 558.01L557.46 557.83L557.64 558.34L557.82 558.45L557.99 557.83L558.17 557.78L558.35 558.44L558.53 558.28L558.7 557.65L558.88 558.72L559.06 558.03L559.23 557.87L559.41 557.56L559.58 557.84L559.76 558.2L559.93 558.13L560.11 558.61L560.28 558.42L560.46 557.73L560.63 557.96L560.81 557.93L560.98 557.84L561.15 557.85L561.32 557.81L561.5 557.82L561.67 558.08L561.84 558.28L562.01 558.7L562.18 557.92L562.35 558.03L562.52 557.29L562.69 558.17L562.86 558.33L563.03 558.11L563.2 558.31L563.37 558.07L563.54 558.11L563.71 557.94L563.88 558.05L564.05 557.85L564.21 558.96L564.38 558.83L564.55 558.51L564.72 558.47L564.88 559.24L565.05 558.83L565.22 558.42L565.38 558.7L565.55 558.87L565.71 558.9L565.88 558.97L566.04 558.37L566.21 558.69L566.37 558.39L566.54 559.2L566.7 558.99L566.86 558.8L567.03 560.3L567.19 559.94L567.35 559.25L567.51 559.87L567.68 559.36L567.84 560.09L568 560.1L568.16 559.64L568.32 560.16L568.48 560.84L568.65 560.54L568.81 559.78L568.97 560.45L569.13 560.72L569.29 560.55L569.45 561.07L569.61 560.4L569.76 559.98L569.92 561.58L570.08 560.58L570.24 561.04L570.4 560.75L570.56 561.83L570.71 561.25L570.87 561.86L571.03 562L571.19 562.92L571.34 563.34L571.5 562.97L571.65 563.29L571.81 563.08L571.97 563.23L572.12 562.98L572.28 563.68L572.43 562.86L572.59 564.05L572.74 563.75L572.9 563.73L573.05 564.36L573.2 563.18L573.36 563.51L573.51 564.18L573.66 563.93L573.82 564.61L573.97 564.66L574.12 565.01L574.27 566.52L574.43 567.55L574.58 569.07L574.73 570.49L574.88 572.59L575.03 572.29L575.18 573.02L575.33 574.02L575.48 572.47L575.64 571.78L575.79 570.89L575.94 568.94L576.08 567.4L576.23 565.67L576.38 563.86L576.53 563.88L576.68 563.22L576.83 562.47L576.98 561.72L577.13 561.72L577.27 561.78L577.42 561.08L577.57 560.85L577.72 560.47L577.86 560.88L578.01 560.03L578.16 560.08L578.3 560.75L578.45 559.15L578.6 559.37L578.74 559.94L578.89 559.18L579.03 559.75L579.18 558.57L579.32 558.53L579.47 559.35L579.61 558.33L579.76 558.65L579.9 558.52L580.05 559.35L580.19 558.23L580.33 558.67L580.48 559.11L580.62 559.36L580.76 558.77L580.91 559.16L581.05 558.52L581.19 559.84L581.33 559.09L581.48 559.31L581.62 559.9L581.76 559.11L581.9 559.02L582.04 559.44L582.18 559.82L582.32 558.6L582.47 558.53L582.61 559.53L582.75 559.13L582.89 559.27L583.03 560.4L583.17 559.23L583.31 559.29L583.45 560.05L583.58 559.08L583.72 559.49L583.86 559.33L584 559.52L584.14 559.57L584.28 559L584.42 559.26L584.55 559.2L584.69 558.92L584.83 559.61L584.97 559.11L585.1 558.89L585.24 558.7L585.38 559.05L585.51 558.76L585.65 559.35L585.79 559.62L585.92 558.86L586.06 558.72L586.2 558.77L586.33 559.26L586.47 558.56L586.6 559.08L586.74 558.48L586.87 557.79L587.01 559.55L587.14 559.05L587.27 558.46L587.41 558.58L587.54 558.57L587.68 559.4L587.81 558.3L587.94 558.57L588.08 558.31L588.21 558.18L588.34 558.69L588.48 558.73L588.61 558.3L588.74 559.93L588.87 557.55L589.01 559.53L589.14 558.33L589.27 558.55L589.4 559.31L589.53 559.6L589.66 559.96L589.8 558.74L589.93 560.62L590.06 559.13L590.19 559.85L590.32 560.56L590.45 559.95L590.58 560L590.71 560.68L590.84 560.31L590.97 559.98L591.1 561.21L591.23 561.34L591.36 561.16L591.49 561.16L591.61 561.71L591.74 561.73L591.87 561.96L592 561.58L592.13 560.67L592.26 561.98L592.38 562.07L592.51 562.32L592.64 562.81L592.77 561.46L592.89 560.98L593.02 562.87L593.15 562.81L593.27 562.53L593.4 562.12L593.53 563.8L593.65 562.69L593.78 564.25L593.91 563.29L594.03 563.86L594.16 562.23L594.28 563.71L594.41 563.12L594.53 562.97L594.66 563.42L594.78 565.35L594.91 563.42L595.03 563L595.16 564.45L595.28 563.39L595.41 563.72L595.53 564.79L595.66 564.42L595.78 564.18L595.9 564.44L596.03 563.7L596.15 563.21L596.27 563.63L596.4 563.49L596.52 563.67L596.64 563.6L596.76 563.94L596.89 564.22L597.01 563.36L597.13 563.46L597.25 563.76L597.38 564.3L597.5 563.39L597.62 562.72L597.74 564.12L597.86 562.97L597.98 563.32L598.1 563.29L598.22 563.87L598.35 562.78L598.47 564.42L598.59 563.5L598.71 564.55L598.83 563.8L598.95 565.92L599.07 564.35L599.19 564.27L599.31 564.28L599.43 563.73L599.55 565.97L599.66 564.42L599.78 565.29L599.9 565.79L600.02 565.79L600.14 565.35L600.26 565.11L600.38 565.88L600.5 565.48L600.61 564.91L600.73 565.21L600.85 566.1L600.97 566.34L601.08 564.74L601.2 566.04L601.32 565.76L601.44 566.54L601.55 566.03L601.67 565.9L601.79 566.69L601.9 566.86L602.02 566.94L602.14 566.21L602.25 566.59L602.37 567.49L602.49 566.26L602.6 566.02L602.72 566.72L602.83 566.01L602.95 567.13L603.06 566.12L603.18 566.38L603.29 567.38L603.41 566.18L603.52 566.47L603.64 566.97L603.75 566.96L603.87 566.06L603.98 567.42L604.1 566.68L604.21 566.92L604.32 567.34L604.44 567.45L604.55 567.1L604.67 567.59L604.78 567.17L604.89 566.41L605.01 566.44L605.12 566.66L605.23 566.64L605.35 566.98L605.46 566.12L605.57 567.28L605.68 567.78L605.8 567.84L605.91 567.35L606.02 566.84L606.13 568.99L606.24 567.1L606.36 567.26L606.47 567.57L606.58 566.83L606.69 566.92L606.8 567.61L606.91 568.42L607.02 567.43L607.13 567.97L607.25 568.07L607.36 567.88L607.47 567.25L607.58 568.5L607.69 567.61L607.8 567.24L607.91 567.21L608.02 568.53L608.13 567.87L608.24 567.45L608.35 568.59L608.46 568.41L608.57 567.85L608.68 567.24L608.79 567.79L608.89 568.11L609 567.39L609.11 569.87L609.22 567.84L609.33 567.38L609.44 567.12L609.55 568.79L609.65 567.88L609.76 567.94L609.87 567.59L609.98 568.52L610.09 568.26L610.19 567.43L610.3 567.76L610.41 567.33L610.52 568.36L610.62 567.99L610.73 568.76L610.84 568.49L610.95 568.69L611.05 567.1L611.16 567.66L611.27 567.46L611.37 567.34L611.48 567.69L611.58 569.02L611.69 568.88L611.8 569.47L611.9 568.75L612.01 568.77L612.11 568.19L612.22 568.24L612.33 568.26L612.43 568.04L612.54 567.82L612.64 568.66L612.75 569.72L612.85 568.09L612.96 568.03L613.06 569.58L613.17 568.69L613.27 567.86L613.38 568.66L613.48 567.48L613.58 568.98L613.69 568.54L613.79 568.08L613.9 568.91L614 568.5L614.1 569.97L614.21 568.4L614.31 569.18L614.41 568.24L614.52 569.12L614.62 569.4L614.72 569.51L614.83 569.63L614.93 568.1L615.03 570.4L615.14 570.26L615.24 568.75L615.34 569.01L615.44 569.63L615.55 567.84L615.65 568.65L615.75 569.16L615.85 569.23L615.95 569.21L616.06 568.1L616.16 569.6L616.26 569.58L616.36 569.15L616.46 568.39L616.56 568.13L616.66 568.63L616.77 569.06L616.87 568.07L616.97 568.44L617.07 569.15L617.17 569.06L617.27 568.18L617.37 567.51L617.47 568.5L617.57 567.62L617.67 567.78L617.77 569.35L617.87 569.02L617.97 568.13L618.07 568.72L618.17 568.89L618.27 569.34L618.37 570.03L618.47 569.44L618.57 567.78L618.67 569.5L618.77 569.05L618.87 569.2L618.97 569.32L619.06 569.26L619.16 569.21L619.26 570.45L619.36 570.57L619.46 570.98L619.56 570.51L619.66 570.42L619.75 570.06L619.85 568.93L619.95 570.67L620.05 569.49L620.15 569.61L620.24 568.77L620.34 569.36L620.44 572.61L620.54 569.47L620.63 570.46L620.73 570.81L620.83 570.18L620.93 569.38L621.02 569.62L621.12 570.16L621.22 569.47L621.31 568.91L621.41 569.07L621.51 571.24L621.6 570.43L621.7 570.41L621.8 570.65L621.89 570.01L621.99 569.12L622.08 571.95L622.18 569.52L622.28 570.04L622.37 569.93L622.47 571.03L622.56 569.63L622.66 568.81L622.75 568.8L622.85 569.13L622.94 570.63L623.04 571.07L623.14 569.64L623.23 569.5L623.33 570.49L623.42 569.92L623.51 569.33L623.61 569.1L623.7 569.98L623.8 570.97L623.89 571.09L623.99 570.83L624.08 569.76L624.18 571.42L624.27 568.92L624.36 570.54L624.46 571.16L624.55 569.89L624.65 569.66L624.74 572.22L624.83 570.53L624.93 570.64L625.02 572.38L625.11 571.57L625.21 570.3L625.3 571.35L625.39 571.2L625.48 572.37L625.58 572.74L625.67 570.17L625.76 570.79L625.86 572.95L625.95 571.38L626.04 571.35L626.13 570.88L626.23 571.89L626.32 570.94L626.41 571.47L626.5 571.42L626.59 570.95L626.69 570.47L626.78 570.37L626.87 570.93L626.96 571.01L627.05 571.89L627.14 571.5L627.24 571.61L627.33 570.82L627.42 571.16L627.51 571.05L627.6 570.74L627.69 570.66L627.78 573.56L627.87 571.69L627.96 572.66L628.05 571.77L628.15 571.02L628.24 573.16L628.33 572.28L628.42 571.77L628.51 571.1L628.6 571.98L628.69 572.9L628.78 573.35L628.87 572.46L628.96 572.19L629.05 572.2L629.14 573.04L629.23 572.07L629.32 572.83L629.41 571.52L629.49 574.8L629.58 574.43L629.67 573.56L629.76 573.57L629.85 574.91L629.94 574.43L630.03 574.45L630.12 574.9L630.21 575.31L630.3 575.18L630.39 577.39L630.47 575.51L630.56 577.34L630.65 577.64L630.74 577.01L630.83 579.28L630.92 577.79L631 579.16L631.09 579.38L631.18 580.06L631.27 580.23L631.36 581.8L631.44 580.79L631.53 580.79L631.62 580.85L631.71 581.02L631.79 580.13L631.88 581.1L631.97 580.3L632.06 580.24L632.14 579.49L632.23 579.13L632.32 578.79L632.4 577.93L632.49 578.25L632.58 578.71L632.66 577L632.75 577.04L632.84 577.49L632.92 576.32L633.01 575.97L633.1 576.13L633.18 575.97L633.27 577.24L633.36 575.46L633.44 576.17L633.53 574.92L633.61 575.97L633.7 576.06L633.79 575.93L633.87 573.31L633.96 574.13L634.04 573.15L634.13 573.9L634.21 573.7L634.3 572.8L634.38 572.57L634.47 572.78L634.55 573.15L634.64 573.48L634.73 574.53L634.81 575.18L634.89 572.35L634.98 573.34L635.06 573.03L635.15 573.15L635.23 572.29L635.32 573.99L635.4 573.88L635.49 573.13L635.57 573.87L635.66 573.2L635.74 571.95L635.82 573.52L635.91 574.02L635.99 573.61L636.08 574.67L636.16 577L636.24 575.04L636.33 574.99L636.41 574.25L636.5 575.25L636.58 575.34L636.66 576.77L636.75 575.2L636.83 575.1L636.91 575.28L637 577.7L637.08 577.48L637.16 575.77L637.24 579.95L637.33 575.64L637.41 575.84L637.49 577.44L637.58 576.39L637.66 576.05L637.74 575.93L637.82 576.92L637.91 576.97L637.99 577.09L638.07 576.4L638.15 578.62L638.24 576.8L638.32 578.36L638.4 579.79L638.48 576.76L638.56 577.48L638.65 577.94L638.73 578.44L638.81 578.01L638.89 577.27L638.97 578.7L639.05 578.14L639.14 579.71L639.22 578L639.3 577.62L639.38 577.81L639.46 578.14L639.54 578.94L639.62 579.56L639.7 577.74L639.79 579.13L639.87 577.74L639.95 582.83L640.03 579.43L640.11 579.49L640.19 579.34L640.27 581.17L640.35 582.26L640.43 580.51L640.51 581.19L640.59 581.43L640.67 582.26L640.75 581.16L640.83 582.36L640.91 581.78L640.99 584.13L641.07 580.89L641.15 581.69L641.23 582.13L641.31 582.86L641.39 582.16L641.47 580.96L641.55 581.24L641.63 582.06L641.71 579.46L641.79 581.9L641.87 580.06L641.95 581.89L642.03 583.01L642.11 579.97L642.19 580.13L642.27 580.63L642.34 580.17L642.42 582.06L642.5 581.91L642.58 579.36L642.66 579.23L642.74 580.15L642.82 579.65L642.9 581.22L642.97 581.95L643.05 579.95L643.13 579.09L643.21 579.49L643.29 580.45L643.37 580.13L643.44 579.83L643.52 579.55L643.6 581.07L643.68 579.84L643.76 580.47L643.83 581.69L643.91 578.5L643.99 580.11L644.07 579.42L644.15 579.24L644.22 580.08L644.3 578.92L644.38 578.86L644.46 583.61L644.53 582.21L644.61 581L644.69 578.6L644.76 578.96L644.84 578.67L644.92 579.34L645 579.92L645.07 580.68L645.15 578.64L645.23 581.44L645.3 580.36L645.38 581.66L645.46 580.23L645.53 581.44L645.61 579.11L645.69 581.5L645.76 580.02L645.84 580.19L645.92 580.96L645.99 580.81L646.07 578.63L646.14 583.32L646.22 580.83L646.3 581.24L646.37 581.19L646.45 580.8L646.52 581.17L646.6 581.5L646.68 581.04L646.75 580.15L646.83 580.73L646.9 583.21L646.98 581.54L647.05 581.12L647.13 583.41L647.21 580.84L647.28 584.19L647.36 582.22L647.43 581.35L647.51 580.64L647.58 580.78L647.66 580.76L647.73 583.44L647.81 584.65L647.88 583.06L647.96 581.36L648.03 582.14L648.11 579.75L648.18 580.68L648.26 581.43L648.33 584.8L648.4 582.39L648.48 583.58L648.55 583.03L648.63 581.18L648.7 582.18L648.78 581.47L648.85 580.86L648.92 582.77L649 582.94L649.07 583.53L649.15 584.02L649.22 582.46L649.29 582.55L649.37 583.73L649.44 584.2L649.52 586.86L649.59 585.73L649.66 585.35L649.74 587.44L649.81 587.72L649.88 586.96L649.96 590.32L650.03 586.76L650.1 588.89L650.18 590.6L650.25 589.12L650.32 589.66L650.4 587.19L650.47 589.19L650.54 589.61L650.62 587.79L650.69 588.71L650.76 587.92L650.83 587.89L650.91 588.11L650.98 587.02L651.05 587.66L651.13 586.12L651.2 588.7L651.27 586.57L651.34 584.36L651.42 584.66L651.49 586.5L651.56 587.74L651.63 584.58L651.7 585.25L651.78 584.15L651.85 587.63L651.92 585.41L651.99 584.51L652.06 587.01L652.14 581.83L652.21 585.27L652.28 583.05L652.35 584.88L652.42 583.77L652.5 583.08L652.57 584.11L652.64 583.71L652.71 588.21L652.78 583.74L652.85 587.61L652.92 585.62L653 583.55L653.07 581.88L653.14 584.88L653.21 584.18L653.28 581.67L653.35 587.36L653.42 583.87L653.49 583.13L653.56 585.39L653.64 584.8L653.71 583.83L653.78 583.12L653.85 583.54L653.92 580.33L653.99 581.98L654.06 582.27L654.13 587.86L654.2 583.8L654.27 582.71L654.34 583.41L654.41 582.4L654.48 584.21L654.55 582.65L654.62 583.94L654.69 583.93L654.76 583.09L654.83 582.89L654.9 582.42L654.97 581.77L655.04 583.17L655.11 583.03L655.18 583.23L655.25 583.58L655.32 584.09L655.39 583.59L655.46 583.3L655.53 585.76L655.6 586.33L655.67 582.43L655.74 583.66L655.81 583.67L655.88 581.96L655.95 584.09L656.02 582.51L656.09 585.93L656.15 581.77L656.22 583.67L656.29 581.58L656.36 581.31L656.43 583.99L656.5 582.86L656.57 585.03L656.64 584.34L656.71 580.59L656.78 585.2L656.84 581.22L656.91 582.32L656.98 581.66L657.05 583.45L657.12 583.12L657.19 582.79L657.26 587.25L657.32 582.11L657.39 582.29L657.46 581.53L657.53 586.35L657.6 581.74L657.67 582.95L657.73 582.51L657.8 582.77L657.87 583.44L657.94 581.39L658.01 582.57L658.07 584.52L658.14 581.42L658.21 584.65L658.28 582.54L658.34 585.43L658.41 583.63L658.48 583.05L658.55 582.88L658.62 588.21L658.68 586.33L658.75 583.88L658.82 590.62L658.88 584.33L658.95 584.11L659.02 588.23L659.09 585.53L659.15 588.62L659.22 585.62L659.29 588.58L659.36 587.38L659.42 587.75L659.49 588.93L659.56 586.43L659.62 586.87L659.69 587.73L659.76 587.6L659.82 588.21L659.89 589.57L659.96 587.95L660.02 587.89L660.09 590.95L660.16 595.33L660.22 590.94L660.29 591.24L660.36 589.09L660.42 588.7L660.49 591.33L660.56 593.47L660.62 589.7L660.69 591.23L660.75 589.06L660.82 587.89L660.89 588.31L660.95 587.17L661.02 589.14L661.08 587.84L661.15 591.87L661.22 591.16L661.28 587.79L661.35 588.69L661.41 587.41L661.48 590.52L661.54 592.63L661.61 588.02L661.68 586.31L661.74 586.13L661.81 587.06L661.87 587.8L661.94 587.18L662 586.88L662.07 587.41L662.13 587.69L662.2 586.95L662.26 585.59L662.33 586.74L662.39 585.29L662.46 587.18L662.52 587.1L662.59 589.07L662.65 588L662.72 586.62L662.78 587.02L662.85 591.55L662.91 587.23L662.98 589.9L663.04 589L663.11 589.17L663.17 590.79L663.24 588.87L663.3 590.52L663.37 589.49L663.43 591.38L663.5 589.92L663.56 589.18L663.62 590.69L663.69 590.46L663.75 589.97L663.82 588.5L663.88 591.81L663.95 588.29L664.01 590.13L664.07 589.63L664.14 592.21L664.2 591.53L664.27 592.88L664.33 587.59L664.39 590.13L664.46 588.2L664.52 591.4L664.59 595.22L664.65 589.22L664.71 591.95L664.78 586.57L664.84 589.67L664.9 592.12L664.97 589.21L665.03 589.6L665.09 589.63L665.16 591.67L665.22 589.46L665.28 589.28L665.35 588.83L665.41 590.51L665.47 591.36L665.54 589.11L665.6 590.94L665.66 590.15L665.73 591.72L665.79 594.57L665.85 591.12L665.92 590.61L665.98 589.58L666.04 588.97L666.1 588.45L666.17 590.12L666.23 589.71L666.29 592.26L666.36 590.67L666.42 594.13L666.48 592.39L666.54 591.33L666.61 591.91L666.67 589.2L666.73 596.53L666.79 593.22L666.86 591.42L666.92 594.52L666.98 592.64L667.04 592.89L667.1 593.99L667.17 592.95L667.23 596.03L667.29 593.64L667.35 592.71L667.42 594.85L667.48 592.7L667.54 593.07L667.6 595.81L667.66 598.13L667.73 590.14L667.79 590.43L667.85 591.26L667.91 593.9L667.97 591.09L668.03 593.15L668.1 590.18L668.16 591.88L668.22 590.05L668.28 588.67L668.34 589.97L668.4 592.22L668.46 591.15L668.53 592.48L668.59 591.09L668.65 588.67L668.71 590.92L668.77 591.35L668.83 594.03L668.89 593.25L668.96 591.44L669.02 590.13L669.08 593.4L669.14 588.37L669.2 589.15L669.26 588.69L669.32 590.3L669.38 592.78L669.44 588.89L669.5 595.95L669.56 589.1L669.63 594.91L669.69 589.47L669.75 591.79L669.81 588.56L669.87 590.16L669.93 589.22L669.99 593.26L670.05 588.51L670.11 592.04L670.17 594.8L670.23 590.27L670.29 589.9L670.35 592.06L670.41 586.69L670.47 591.06L670.53 592.19L670.59 591.36L670.65 589.62L670.71 592.23L670.77 593.77L670.83 594.23L670.89 591.59L670.95 592.16L671.01 592L671.07 590.69L671.13 591.78L671.19 591.57L671.25 593.24L671.31 593.7L671.37 599.8L671.43 595.66L671.49 594.83L671.55 592.69L671.61 598.27L671.67 597.95L671.73 593.77L671.79 593.14L671.85 593.96L671.91 594.17L671.97 591.97L672.03 594.58L672.09 594.46L672.15 597.74L672.2 596.14L672.26 595.32L672.32 599.01L672.38 597.79L672.44 596.27L672.5 595.15L672.56 594.54L672.62 597.85L672.68 596.9L672.74 595.42L672.8 596.44L672.85 592.97L672.91 598.27L672.97 595.96L673.03 598.51L673.09 592.57L673.15 594.8L673.21 592.87L673.27 597.21L673.32 600.59L673.38 593.55L673.44 594.5L673.5 597.35L673.56 591.45L673.62 593.5L673.68 592.55L673.73 593.43L673.79 591.14L673.85 590.71L673.91 591.22L673.97 594.42L674.03 594.33L674.08 596.49L674.14 595.98L674.2 597.2L674.26 596.05L674.32 595.62L674.37 597.03L674.43 595.13L674.49 596.73L674.55 596.4L674.61 606.25L674.66 594.26L674.72 599.67L674.78 599.33L674.84 598.38L674.89 597.77L674.95 596.71L675.01 594.9L675.07 597.06L675.13 597.37L675.18 595.51L675.24 599.11L675.3 594.71L675.36 600.72L675.41 603.95L675.47 596.75L675.53 597.58L675.59 603.62L675.64 593.55L675.7 596.25L675.76 595.13L675.81 596.33L675.87 601.35L675.93 600.93L675.99 596.89L676.04 601.39L676.1 595L676.16 596.9L676.21 602.36L676.27 605.13L676.33 602.62L676.38 601.81L676.44 599.06L676.5 603.26L676.56 599.35L676.61 604.48L676.67 600.61L676.73 602.71L676.78 597.57L676.84 600.5L676.9 603.05L676.95 598.42L677.01 602.12L677.07 602.94L677.12 600.58L677.18 599.7L677.24 600.14L677.29 596.39L677.35 598.96L677.4 606.87L677.46 598.29L677.52 600.41L677.57 597.46L677.63 607.84L677.69 599.81L677.74 601.13L677.8 603.15L677.85 600.91L677.91 610.79L677.97 604.12L678.02 602L678.08 598.37L678.13 603.91L678.19 601.26L678.25 606.17L678.3 602.89L678.36 601.53L678.41 606.66L678.47 604.38L678.53 603.65L678.58 603.1L678.64 603.57L678.69 602.7L678.75 606.5L678.8 601.18L678.86 604.28L678.91 602.6L678.97 607.21L679.03 604.75L679.08 607.95L679.14 602.07L679.19 600.04L679.25 606.94L679.3 604.09L679.36 601.51L679.41 605.9L679.47 608.22L679.52 603.51L679.58 604.89L679.63 602.31L679.69 603.16L679.74 605.27L679.8 604.6L679.85 604.32L679.91 603.4L679.96 607.67L680.02 606.25L680.07 612.8L680.13 603.69L680.18 603.46L680.24 604.89L680.29 602.89L680.35 602.18L680.4 602.57L680.46 603.68L680.51 604.13L680.57 603.32L680.62 606.92L680.68 607.82L680.73 607.04L680.79 605.68L680.84 603.69L680.89 604.75L680.95 602.84L681 610.33L681.06 611.47L681.11 613.03L681.17 605.93L681.22 615.76L681.28 610.42L681.33 611.59L681.38 615.95L681.44 612.01L681.49 610.04L681.55 612.39L681.6 610.12L681.65 610.66L681.71 615.17L681.76 607.97L681.82 607.23L681.87 612.94L681.93 611.07L681.98 610.04L682.03 611.87L682.09 607.51L682.14 612.5L682.19 606.86L682.25 606.76L682.3 612.37L682.36 608.19L682.41 608.04L682.46 606.11L682.52 612.19L682.57 611.76L682.62 605.84L682.68 609.02L682.73 608.7L682.78 607.5L682.84 603.91L682.89 611.68L682.94 609.86L683 603.6L683.05 605.22L683.11 614.27L683.16 610.14L683.21 603.86L683.27 606.24L683.32 607.02L683.37 606.21L683.42 606.13L683.48 605.66L683.53 606.47L683.58 610.45L683.64 604.18L683.69 612.35L683.74 608.89L683.8 606.9L683.85 612.87L683.9 611.23L683.96 608.75L684.01 609.65L684.06 607.11L684.11 609.18L684.17 611.96L684.22 611.08L684.27 605.64L684.32 606.82L684.38 609.22L684.43 607.14L684.48 606.63L684.54 615.67L684.59 607.23L684.64 610.36L684.69 607.38L684.75 611.42L684.8 613.96L684.85 609.95L684.9 610.67L684.96 613.15L685.01 612.01L685.06 611.72L685.11 614.93L685.16 615.16L685.22 612.66L685.27 617.41L685.32 610.93L685.37 612.12L685.43 618.19L685.48 620.17L685.53 614.19L685.58 610.7L685.63 612.93L685.69 616.44L685.74 617.2L685.79 615.82L685.84 616.42L685.89 609.16L685.95 610.81L686 610.52L686.05 610.98L686.1 618.22L686.15 614.13L686.21 608.83L686.26 610.31L686.31 603.86L686.36 613.91L686.41 608.99L686.46 611.67L686.52 611.92L686.57 605.45L686.62 612.51L686.67 609.07L686.72 609.46L686.77 607.16L686.82 610.2L686.88 613.78L686.93 614.84L686.98 612.15L687.03 611.12L687.08 616.96L687.13 610.03L687.18 611.88L687.24 620.12L687.29 606.15L687.34 606.95L687.39 607.97L687.44 610.07L687.49 610.22L687.54 612.33L687.59 620.48L687.64 618.54L687.7 610.61L687.75 616.61L687.8 614.59L687.85 612.39L687.9 618.66L687.95 621.35L688 611.05L688.05 620.15L688.1 612.2L688.15 614.05L688.2 617.21L688.26 613.81L688.31 615.99L688.36 617.22L688.41 619.99L688.46 617.28L688.51 617.89L688.56 616.63L688.61 621.63L688.66 623.1L688.71 617.29L688.76 622.98L688.81 629.07L688.86 623.56L688.91 625.97L688.96 622.66L689.01 619.6L689.06 617.74L689.11 617.77L689.17 617.73L689.22 613.08L689.27 613.76L689.32 624.19L689.37 612.04L689.42 612.75L689.47 612.17L689.52 617.45L689.57 615.74L689.62 618.9L689.67 612.83L689.72 622.92L689.77 615.55L689.82 613.91L689.87 622.58L689.92 622.81L689.97 623.58L690.02 611.65L690.07 617.01L690.12 618.28L690.17 616.51L690.22 611.03L690.27 620.98L690.32 619.92L690.37 618.72L690.42 614.93L690.47 615.66L690.51 622.37L690.56 617.33L690.61 619.87L690.66 620.55L690.71 620.08L690.76 625.81L690.81 620.93L690.86 627.95L690.91 632.95L690.96 624.6L691.01 618.74L691.06 622.08L691.11 628.48L691.16 630.16L691.21 621.31L691.26 625.1L691.31 624.91L691.36 622.12" stroke="#1fa9a0"/>
<path d="M136 552.28L145.89 552.82L154.92 552.49L163.23 552.22L170.92 552.18L178.09 552.13L184.78 552.16L191.08 552.15L197.01 552.31L202.62 552.33L207.95 552.45L213.01 552.55L217.84 552.7L222.45 552.73L226.87 552.84L231.11 552.87L235.18 552.92L239.1 553.08L242.87 552.89L246.51 552.7L250.03 552.48L253.44 552.36L256.73 551.78L259.92 551.27L263.02 551.53L266.03 552.68L268.96 551.71L271.8 553L274.57 554.46L277.26 554.1L279.89 552.32L282.46 549.94L284.96 548.82L287.4 547.42L289.79 546.99L292.12 549.55L294.4 551.36L296.63 552.55L298.82 553.66L300.96 551.39L303.05 549L305.11 547.62L307.12 546.32L309.1 545.59L311.04 546.16L312.95 547.81L314.82 549.41L316.65 550.49L318.46 551.31L320.23 551.6L321.98 549.83L323.69 547.17L325.38 545.6L327.04 544.62L328.68 544.39L330.29 545.32L331.87 546.84L333.43 548.51L334.97 549.81L336.48 550.87L337.98 550.91L339.45 549.65L340.9 548.02L342.33 547.42L343.75 547.79L345.14 548.43L346.51 549.1L347.87 550.68L349.21 552.61L350.53 553.97L351.84 553.55L353.13 552.44L354.4 551.15L355.66 550.48L356.9 550.78L358.13 552.36L359.35 553.89L360.55 555.1L361.73 554.84L362.9 553.66L364.06 552.32L365.21 551.02L366.35 551.07L367.47 552.93L368.58 554.23L369.68 554.73L370.76 554.98L371.84 555.63L372.9 555.79L373.96 555.54L375 554.09L376.03 552.49L377.06 550.85L378.07 549.69L379.07 549.98L380.06 550.48L381.05 551.56L382.02 552.38L382.99 552.9L383.94 552.76L384.89 551.32L385.83 549.37L386.76 547.42L387.69 546.12L388.6 545.91L389.51 546.79L390.41 548.03L391.3 549.74L392.18 550.8L393.06 551.69L393.92 551.39L394.79 549.81L395.64 548.23L396.49 546.75L397.33 545.56L398.16 545.45L398.99 546.7L399.81 548.71L400.62 550.64L401.43 552.14L402.23 552.34L403.03 552.04L403.82 551.23L404.6 550.35L405.38 549.85L406.15 550.04L406.92 551.2L407.68 552.5L408.43 554.16L409.18 554.68L409.92 554.91L410.66 554.81L411.4 554.92L412.13 554.83L412.85 554.7L413.57 554.49L414.28 554.43L414.99 554.3L415.69 554.27L416.39 553.66L417.09 553.45L417.78 553.18L418.46 552.64L419.14 552.54L419.82 552.37L420.49 552.8L421.16 553.31L421.82 553.46L422.48 554.04L423.13 554.47L423.78 554.63L424.43 554.59L425.07 554.53L425.71 554.01L426.35 553.47L426.98 553.32L427.61 552.04L428.23 551.28L428.85 550.74L429.46 550.2L430.08 549.72L430.69 548.82L431.29 548.17L431.89 547.66L432.49 547.59L433.09 547.54L433.68 547.33L434.27 547.7L434.85 548.23L435.43 548.62L436.01 549.19L436.59 549.91L437.16 549.86L437.73 550.4L438.29 550.84L438.85 550.66L439.41 551.32L439.97 551.34L440.52 551.55L441.07 552.18L441.62 552.39L442.17 552.75L442.71 553.11L443.25 553.47L443.78 553.87L444.32 554.21L444.85 554.67L445.38 554.66L445.9 554.96L446.43 555.01L446.95 555.36L447.46 555.4L447.98 555.9L448.49 555.84L449 555.72L449.51 556.2L450.01 556.46L450.52 557.13L451.02 557.26L451.51 557.82L452.01 558.08L452.5 557.99L452.99 558.13L453.48 558.07L453.97 557.56L454.45 558.14L454.93 556.82L455.41 555.85L455.89 555.21L456.37 554.92L456.84 554.36L457.31 553.71L457.78 553.21L458.24 553.03L458.71 552.48L459.17 552.21L459.63 551.65L460.09 551.59L460.55 550.64L461 550.86L461.45 550.36L461.9 550.22L462.35 550.55L462.8 549.85L463.24 550.1L463.69 549.97L464.13 550.3L464.56 549.65L465 549.97L465.44 549.97L465.87 549.81L466.3 549.84L466.73 549.79L467.16 549.6L467.59 549.89L468.01 549.8L468.43 550.64L468.85 550.89L469.27 550.62L469.69 551.52L470.11 551.42L470.52 551.45L470.93 551.87L471.35 552.43L471.76 552.46L472.16 552.52L472.57 553.18L472.97 553.21L473.38 553.43L473.78 553.57L474.18 554.22L474.58 554.57L474.97 554.34L475.37 554.67L475.76 554.82L476.16 555.03L476.55 554.82L476.94 555.64L477.32 555.11L477.71 555.27L478.1 554.89L478.48 555.56L478.86 554.99L479.24 554.43L479.62 555.03L480 554.65L480.38 554.34L480.75 554.39L481.13 554.03L481.5 554.22L481.87 553.95L482.24 553.22L482.61 553.46L482.98 553.33L483.34 552.24L483.71 552.95L484.07 552.54L484.43 552.43L484.79 552.5L485.15 551.95L485.51 551.75L485.87 552.08L486.23 551.99L486.58 552.28L486.94 551.78L487.29 552.34L487.64 553.47L487.99 552.94L488.34 553.37L488.69 553.37L489.03 553.42L489.38 554.01L489.72 554.2L490.06 554.1L490.41 554.34L490.75 554.8L491.09 554.59L491.43 554.76L491.76 555.54L492.1 555.74L492.44 555.53L492.77 556.33L493.1 556.32L493.44 556.38L493.77 556.34L494.1 556.92L494.43 556.73L494.75 557L495.08 557.03L495.41 557.71L495.73 557.43L496.05 557.46L496.38 557.72L496.7 558.35L497.02 557.83L497.34 557.08L497.66 557.37L497.98 557.33L498.29 557.09L498.61 556.9L498.92 557.62L499.24 557.19L499.55 557.14L499.86 556.83L500.18 556.89L500.49 556.63L500.8 556.33L501.1 556L501.41 555.57L501.72 555.36L502.02 555.22L502.33 554.72L502.63 554.74L502.94 554.1L503.24 554.3L503.54 553.4L503.84 553.58L504.14 553.68L504.44 553.32L504.74 552.71L505.03 553.18L505.33 552.63L505.62 552.72L505.92 552.6L506.21 552.27L506.5 553L506.8 553.1L507.09 553.4L507.38 553.1L507.67 553.86L507.96 553.65L508.24 553.78L508.53 554.08L508.82 554.66L509.1 554.74L509.39 555.66L509.67 555.62L509.96 555.96L510.24 555.68L510.52 555.65L510.8 555.71L511.08 556.24L511.36 556.98L511.64 557.19L511.92 556.52L512.19 557.24L512.47 557.62L512.75 557.32L513.02 557.77L513.29 557.79L513.57 558.22L513.84 558.42L514.11 558.44L514.38 558.66L514.66 558.67L514.93 559.01L515.19 558.3L515.46 559.38L515.73 559.68L516 559.02L516.26 559.34L516.53 559.65L516.8 559.24L517.06 559.21L517.32 559.31L517.59 559.53L517.85 558.79L518.11 559.11L518.37 559.08L518.63 558.38L518.89 558.61L519.15 558.95L519.41 558.2L519.67 557.97L519.93 558.4L520.18 557.49L520.44 557.41L520.69 557.79L520.95 557.79L521.2 556.65L521.46 556.72L521.71 556.82L521.96 557.02L522.21 556.59L522.46 556.17L522.71 556.59L522.96 555.66L523.21 556.28L523.46 556.54L523.71 556.71L523.96 556.48L524.2 555.97L524.45 556.78L524.7 556.33L524.94 556.42L525.18 557.09L525.43 556.2L525.67 557.72L525.92 557.27L526.16 557.37L526.4 557.07L526.64 557.5L526.88 557.57L527.12 557.52L527.36 557.13L527.6 557.81L527.84 557.83L528.08 558.21L528.31 558.08L528.55 558.1L528.79 558.13L529.02 557.73L529.26 557.7L529.49 558.21L529.72 558.09L529.96 558.51L530.19 558.04L530.42 558.25L530.66 558.73L530.89 558.47L531.12 558.26L531.35 558.76L531.58 558.66L531.81 558.3L532.04 558.43L532.26 558.72L532.49 558.61L532.72 558.61L532.95 558.57L533.17 558.01L533.4 558.97L533.62 558.92L533.85 558.78L534.07 558.36L534.3 558.77L534.52 558.91L534.74 558.89L534.97 558.95L535.19 558.41L535.41 559.32L535.63 559.34L535.85 559.43L536.07 559.75L536.29 559.34L536.51 559.87L536.73 559.02L536.95 559.69L537.17 559.4L537.38 560.12L537.6 559.45L537.82 559.49L538.03 559.52L538.25 559.96L538.46 559.59L538.68 560.23L538.89 560.23L539.11 559.99L539.32 560.08L539.53 559.91L539.74 560.95L539.96 560.53L540.17 559.91L540.38 560.71L540.59 560.02L540.8 560.49L541.01 560.67L541.22 560.34L541.43 560.3L541.64 560.64L541.85 560.76L542.05 560.63L542.26 560.73L542.47 560.18L542.67 560.59L542.88 560.33L543.09 560.67L543.29 560.34L543.5 560.42L543.7 560.4L543.91 560.56L544.11 560.61L544.31 560.68L544.52 560.98L544.72 560.45L544.92 561.49L545.12 560.65L545.32 560.53L545.52 560.89L545.72 560.66L545.92 560.65L546.12 560.87L546.32 560.42L546.52 561.3L546.72 560.4L546.92 560.63L547.12 561.35L547.32 561.39L547.51 561L547.71 560.41L547.91 560.75L548.1 560.68L548.3 560.67L548.49 560.77L548.69 561.03L548.88 561.28L549.08 560.96L549.27 560.58L549.46 560.88L549.66 560.96L549.85 561.28L550.04 560.65L550.23 560.69L550.43 560.62L550.62 560.46L550.81 561L551 560.64L551.19 561.28L551.38 561.24L551.57 560.82L551.76 560.91L551.95 560.67L552.14 560.88L552.32 560.84L552.51 561.4L552.7 560.63L552.89 561.36L553.07 561.12L553.26 560.96L553.45 560.36L553.63 560.41L553.82 560.76L554 560.81L554.19 560.3L554.37 561.71L554.56 560.82L554.74 560.7L554.92 561.03L555.11 560.45L555.29 559.96L555.47 560.68L555.65 560.46L555.84 560.73L556.02 560.81L556.2 560.12L556.38 560.41L556.56 561.21L556.74 561.54L556.92 560.67L557.1 560.76L557.28 560.89L557.46 560.86L557.64 562.27L557.82 561.71L557.99 560.46L558.17 560.59L558.35 561.41L558.53 561.07L558.7 561.3L558.88 561.14L559.06 560.4L559.23 560.25L559.41 560.17L559.58 560.48L559.76 561.03L559.93 560.56L560.11 562.06L560.28 560.17L560.46 560.72L560.63 561.5L560.81 562.05L560.98 560.49L561.15 561.08L561.32 561.36L561.5 560.12L561.67 561.46L561.84 561.08L562.01 560.82L562.18 561.64L562.35 561.09L562.52 560.74L562.69 561.96L562.86 560.84L563.03 561.96L563.2 560.15L563.37 561.77L563.54 561.07L563.71 561.42L563.88 561.37L564.05 561.96L564.21 560.95L564.38 561.25L564.55 561.23L564.72 561.72L564.88 561.43L565.05 561.67L565.22 561.77L565.38 560.84L565.55 561.51L565.71 561.74L565.88 561.88L566.04 563.47L566.21 562.4L566.37 562.8L566.54 561.78L566.7 562.61L566.86 563.36L567.03 561.98L567.19 561.98L567.35 561.66L567.51 561.83L567.68 563.66L567.84 561.91L568 562.6L568.16 563.29L568.32 562.96L568.48 563.1L568.65 562.96L568.81 563.81L568.97 562.53L569.13 563.1L569.29 563.33L569.45 562.59L569.61 563.21L569.76 563.55L569.92 564.83L570.08 563.58L570.24 564.87L570.4 563.84L570.56 565.56L570.71 564.34L570.87 565.49L571.03 567.06L571.19 565.85L571.34 566.39L571.5 565.02L571.65 566.14L571.81 566.44L571.97 565.97L572.12 566.43L572.28 565.84L572.43 566.26L572.59 565.99L572.74 565.93L572.9 567.27L573.05 566.36L573.2 567.03L573.36 568.24L573.51 567.78L573.66 566.86L573.82 567.41L573.97 567.81L574.12 569.03L574.27 571.56L574.43 573.06L574.58 573.39L574.73 574.9L574.88 578.2L575.03 577.71L575.18 580.13L575.33 578.67L575.48 579.46L575.64 577.96L575.79 575.75L575.94 573.33L576.08 572.24L576.23 570.27L576.38 568.44L576.53 568.91L576.68 566.02L576.83 565.21L576.98 566.15L577.13 567.14L577.27 564.17L577.42 564.19L577.57 563.86L577.72 564.15L577.86 564.37L578.01 563.15L578.16 563.2L578.3 562.64L578.45 563.09L578.6 562.59L578.74 562.87L578.89 562.25L579.03 562.34L579.18 561.21L579.32 561.62L579.47 561.63L579.61 561.93L579.76 561.17L579.9 561.43L580.05 562.51L580.19 562.08L580.33 561.39L580.48 561.74L580.62 561.59L580.76 561.99L580.91 561.67L581.05 561.35L581.19 561.98L581.33 561.11L581.48 562.5L581.62 562.8L581.76 562.76L581.9 561.34L582.04 562.04L582.18 562.87L582.32 562.39L582.47 562.5L582.61 562.41L582.75 562.99L582.89 562.27L583.03 561.52L583.17 562.68L583.31 564.3L583.45 563.11L583.58 563.06L583.72 564.22L583.86 562.15L584 562.04L584.14 562.37L584.28 563.01L584.42 564.16L584.55 563.55L584.69 562.57L584.83 563.85L584.97 562.84L585.1 562.81L585.24 562.4L585.38 561.95L585.51 562.29L585.65 561.83L585.79 561.17L585.92 561.81L586.06 563.4L586.2 562.01L586.33 561.32L586.47 562.2L586.6 564.11L586.74 561.9L586.87 564.1L587.01 562.38L587.14 560.67L587.27 562.11L587.41 563.66L587.54 562.21L587.68 561.04L587.81 562.07L587.94 562.88L588.08 560.79L588.21 561.83L588.34 562.02L588.48 562.72L588.61 561.54L588.74 561.32L588.87 562.48L589.01 562.28L589.14 562.02L589.27 561.84L589.4 563.01L589.53 562.03L589.66 564.46L589.8 562.34L589.93 563.86L590.06 563.79L590.19 563.34L590.32 562.95L590.45 564.21L590.58 563.43L590.71 562.9L590.84 563.67L590.97 564.08L591.1 562.77L591.23 564.96L591.36 562.91L591.49 564.37L591.61 564.18L591.74 563.31L591.87 564.29L592 563.9L592.13 564.99L592.26 564.36L592.38 565.08L592.51 565.33L592.64 566.15L592.77 564.7L592.89 566.96L593.02 564.24L593.15 564.92L593.27 565.43L593.4 564.82L593.53 564.88L593.65 566.36L593.78 565.11L593.91 565.8L594.03 567.15L594.16 567.57L594.28 566.36L594.41 567.35L594.53 567.49L594.66 567.33L594.78 566.71L594.91 566.34L595.03 566.1L595.16 568.35L595.28 567.52L595.41 566.95L595.53 566.99L595.66 567.77L595.78 567.9L595.9 566.98L596.03 566.34L596.15 567.75L596.27 566.73L596.4 566.05L596.52 568.26L596.64 568.75L596.76 567.26L596.89 566.9L597.01 566.83L597.13 566.68L597.25 566.59L597.38 566.34L597.5 566.32L597.62 566.48L597.74 566.73L597.86 566.9L597.98 567.25L598.1 566.15L598.22 567.38L598.35 566.22L598.47 566.25L598.59 567.4L598.71 565.99L598.83 567.15L598.95 566.12L599.07 567.21L599.19 568.32L599.31 568.67L599.43 567.33L599.55 567.51L599.66 569.86L599.78 568.84L599.9 569.94L600.02 567.62L600.14 570.12L600.26 569.1L600.38 568L600.5 568.93L600.61 570.41L600.73 569.58L600.85 568.26L600.97 568.05L601.08 570.34L601.2 568.99L601.32 568.71L601.44 568.95L601.55 568.85L601.67 568.41L601.79 569.27L601.9 569.73L602.02 568.52L602.14 570.64L602.25 569.05L602.37 569.93L602.49 570.55L602.6 570.62L602.72 571.32L602.83 568.61L602.95 568.47L603.06 568.78L603.18 569.49L603.29 570.37L603.41 569.16L603.52 569.24L603.64 569.66L603.75 569.62L603.87 572.4L603.98 569.38L604.1 572.06L604.21 572.64L604.32 570.11L604.44 570.1L604.55 570.19L604.67 569.85L604.78 569.94L604.89 569.47L605.01 570.85L605.12 571.48L605.23 569.98L605.35 571.48L605.46 570.29L605.57 570.17L605.68 570.82L605.8 570.53L605.91 572.7L606.02 572.41L606.13 572.43L606.24 571.88L606.36 570.05L606.47 570.65L606.58 571L606.69 573.12L606.8 570.53L606.91 572.53L607.02 569.72L607.13 570.85L607.25 570.94L607.36 572.5L607.47 572.41L607.58 571.41L607.69 571.81L607.8 570.3L607.91 569.97L608.02 572.64L608.13 574.67L608.24 572.62L608.35 571.05L608.46 572.04L608.57 570.02L608.68 571.29L608.79 571.2L608.89 573.08L609 571.84L609.11 572.69L609.22 570.45L609.33 571.32L609.44 570.92L609.55 572.58L609.65 571.91L609.76 571.77L609.87 570L609.98 573.77L610.09 571.34L610.19 571.65L610.3 574.77L610.41 573.54L610.52 571.9L610.62 572.55L610.73 570.63L610.84 571.06L610.95 572.63L611.05 571.26L611.16 571.47L611.27 570.55L611.37 571.21L611.48 571.27L611.58 571.41L611.69 574.13L611.8 571.83L611.9 572.08L612.01 573.45L612.11 571.82L612.22 573L612.33 570.64L612.43 571.92L612.54 572.94L612.64 571.69L612.75 572.98L612.85 572.1L612.96 573.22L613.06 573.87L613.17 572.34L613.27 571.58L613.38 571.7L613.48 572.63L613.58 572.49L613.69 571.18L613.79 573.84L613.9 574.15L614 572.55L614.1 572.95L614.21 572.94L614.31 571.75L614.41 572.52L614.52 572.98L614.62 572.41L614.72 571.42L614.83 571.27L614.93 571.96L615.03 571.92L615.14 571.86L615.24 570.65L615.34 572.22L615.44 572.01L615.55 572.34L615.65 571.31L615.75 573.13L615.85 572.47L615.95 573.59L616.06 571.79L616.16 573.41L616.26 572.8L616.36 572.08L616.46 572.58L616.56 571.69L616.66 572.33L616.77 572.4L616.87 572.35L616.97 572.72L617.07 573.32L617.17 571.45L617.27 572.95L617.37 570.41L617.47 571.46L617.57 575.3L617.67 573.41L617.77 572.48L617.87 576.06L617.97 571.75L618.07 572.47L618.17 571.7L618.27 573.3L618.37 572.12L618.47 571.08L618.57 571.66L618.67 572.36L618.77 573.91L618.87 573.64L618.97 574.17L619.06 573.64L619.16 572.72L619.26 575.9L619.36 572.83L619.46 574.06L619.56 572.9L619.66 573.11L619.75 573.24L619.85 572.63L619.95 574.7L620.05 573.46L620.15 574.88L620.24 575.34L620.34 574.44L620.44 573.78L620.54 574.27L620.63 572.98L620.73 574.09L620.83 571.58L620.93 572.68L621.02 574.56L621.12 572.01L621.22 573.86L621.31 574.54L621.41 573.52L621.51 572.68L621.6 574.85L621.7 576.52L621.8 575.57L621.89 572.11L621.99 576.17L622.08 572.98L622.18 575.81L622.28 573.57L622.37 574.48L622.47 575.7L622.56 572.65L622.66 575.62L622.75 573.63L622.85 574.65L622.94 573.51L623.04 573.39L623.14 572.28L623.23 573.37L623.33 574.87L623.42 572.72L623.51 575.66L623.61 574.6L623.7 572.26L623.8 573.7L623.89 574.43L623.99 573.77L624.08 574.55L624.18 575.53L624.27 573.77L624.36 574.92L624.46 574.11L624.55 573.42L624.65 575.17L624.74 574.05L624.83 574.4L624.93 575.91L625.02 572.79L625.11 575.76L625.21 575.53L625.3 575.26L625.39 575.98L625.48 575.62L625.58 575.85L625.67 573.62L625.76 574.76L625.86 575.54L625.95 575.07L626.04 575.41L626.13 574.42L626.23 578.02L626.32 575.36L626.41 576.44L626.5 576.73L626.59 574.86L626.69 574.85L626.78 574.31L626.87 576.1L626.96 577.55L627.05 576.55L627.14 574.06L627.24 577.16L627.33 577.34L627.42 575.97L627.51 573.87L627.6 573.58L627.69 574.87L627.78 574.03L627.87 576.17L627.96 577.72L628.05 577.94L628.15 577.24L628.24 577.47L628.33 577.62L628.42 576.2L628.51 575.12L628.6 579.16L628.69 579.21L628.78 574.07L628.87 578.48L628.96 576.97L629.05 575.98L629.14 579.26L629.23 575.95L629.32 576.74L629.41 577.22L629.49 579.56L629.58 577.02L629.67 578.35L629.76 577.66L629.85 579.15L629.94 581.33L630.03 581.28L630.12 579.75L630.21 580.13L630.3 578.85L630.39 583.07L630.47 581.69L630.56 584.19L630.65 582.85L630.74 583.02L630.83 583.19L630.92 582.02L631 585.69L631.09 585.96L631.18 584.11L631.27 585.97L631.36 585.57L631.44 584.73L631.53 584.51L631.62 583.87L631.71 584.19L631.79 587.07L631.88 586.39L631.97 584.85L632.06 586.25L632.14 584.36L632.23 583.15L632.32 584.21L632.4 582.65L632.49 582.21L632.58 583.09L632.66 580.6L632.75 583.83L632.84 582L632.92 580.27L633.01 581.97L633.1 579.1L633.18 578.55L633.27 579.58L633.36 580.35L633.44 578.83L633.53 578.06L633.61 582.83L633.7 579.71L633.79 577.72L633.87 578.35L633.96 580.23L634.04 578.38L634.13 576.89L634.21 582.44L634.3 580.89L634.38 576.24L634.47 579.3L634.55 578.97L634.64 576.68L634.73 577.18L634.81 576.74L634.89 578.51L634.98 580.91L635.06 578.14L635.15 577.42L635.23 580.78L635.32 578.04L635.4 577.17L635.49 577.52L635.57 577.85L635.66 579.77L635.74 580.43L635.82 580.81L635.91 580.76L635.99 577.26L636.08 580.45L636.16 578.11L636.24 580.23L636.33 580.24L636.41 579.16L636.5 579.46L636.58 579.59L636.66 580.89L636.75 580.81L636.83 583.7L636.91 581.13L637 581.71L637.08 581.56L637.16 580.7L637.24 582.73L637.33 580.15L637.41 581.72L637.49 580.46L637.58 581.06L637.66 579.4L637.74 579.89L637.82 583.19L637.91 582.31L637.99 583.16L638.07 581.67L638.15 581.02L638.24 583.32L638.32 584.28L638.4 581.19L638.48 579.81L638.56 581.87L638.65 582.48L638.73 580.73L638.81 581.17L638.89 583.81L638.97 585.19L639.05 585.93L639.14 582.56L639.22 583.94L639.3 582.92L639.38 581.94L639.46 582.52L639.54 584.53L639.62 581.99L639.7 582.49L639.79 583.25L639.87 582.54L639.95 582.18L640.03 583.34L640.11 586.4L640.19 584.89L640.27 583.54L640.35 585.57L640.43 584.73L640.51 586.56L640.59 585.95L640.67 584.66L640.75 585.59L640.83 586.89L640.91 586.97L640.99 586.04L641.07 587.18L641.15 585.12L641.23 585.5L641.31 585.65L641.39 583.2L641.47 586.66L641.55 584.65L641.63 585.33L641.71 584.02L641.79 586.64L641.87 584.83L641.95 584.41L642.03 587.24L642.11 584.3L642.19 582.9L642.27 587.58L642.34 584.32L642.42 583.61L642.5 584.44L642.58 587.37L642.66 585.68L642.74 583.7L642.82 584.95L642.9 589.65L642.97 586.48L643.05 587.16L643.13 584.13L643.21 584.45L643.29 588.81L643.37 584.16L643.44 585.54L643.52 586.32L643.6 586.13L643.68 584.3L643.76 586.44L643.83 583.9L643.91 582.99L643.99 585.33L644.07 584.53L644.15 583.64L644.22 584.25L644.3 582.61L644.38 585.06L644.46 586.54L644.53 581.74L644.61 582.89L644.69 583.32L644.76 582.48L644.84 584.65L644.92 587.28L645 584.63L645.07 587.34L645.15 584.9L645.23 585.64L645.3 584.23L645.38 585.69L645.46 583.81L645.53 588.03L645.61 583.87L645.69 584.16L645.76 586.09L645.84 584.56L645.92 587.02L645.99 587.08L646.07 586.38L646.14 583.77L646.22 586.12L646.3 586.61L646.37 586.22L646.45 586.06L646.52 585.27L646.6 585.62L646.68 587.14L646.75 587.08L646.83 585.45L646.9 587.47L646.98 588.59L647.05 588.82L647.13 586.16L647.21 591.26L647.28 584.23L647.36 587.64L647.43 586.72L647.51 586.29L647.58 586.29L647.66 585.58L647.73 586.83L647.81 586.15L647.88 585.96L647.96 586.12L648.03 585.94L648.11 588.11L648.18 589.44L648.26 586.49L648.33 587.45L648.4 590.3L648.48 585.42L648.55 588.21L648.63 586.26L648.7 587.91L648.78 588.63L648.85 590.47L648.92 586.4L649 589.38L649.07 587.36L649.15 590.56L649.22 586.56L649.29 591.1L649.37 592.81L649.44 593.91L649.52 592.57L649.59 590.57L649.66 590.12L649.74 593.74L649.81 593.44L649.88 590.43L649.96 591.46L650.03 594.97L650.1 593.87L650.18 591.98L650.25 592.81L650.32 593.48L650.4 596.07L650.47 596.09L650.54 595.64L650.62 594.01L650.69 593.88L650.76 593.17L650.83 597.33L650.91 590.75L650.98 594.18L651.05 594.27L651.13 592.52L651.2 588.02L651.27 591.06L651.34 590.78L651.42 589.4L651.49 589.57L651.56 589.8L651.63 591.47L651.7 589.1L651.78 591L651.85 588.3L651.92 594.56L651.99 587.49L652.06 589.54L652.14 587.95L652.21 587.92L652.28 590.34L652.35 592.44L652.42 588.21L652.5 590.18L652.57 588.43L652.64 591.01L652.71 585.09L652.78 590.25L652.85 588.32L652.92 588.45L653 588.12L653.07 586.07L653.14 590.54L653.21 589.34L653.28 586.99L653.35 587.57L653.42 587.55L653.49 585L653.56 587.94L653.64 589.22L653.71 587.79L653.78 587.49L653.85 584.97L653.92 586.33L653.99 584.89L654.06 586.45L654.13 587.99L654.2 594.74L654.27 587.39L654.34 587.74L654.41 587.09L654.48 587.36L654.55 590.49L654.62 587.15L654.69 588.16L654.76 589.75L654.83 586.84L654.9 594.07L654.97 587.75L655.04 589.03L655.11 592.09L655.18 588.1L655.25 584.19L655.32 589.29L655.39 590.63L655.46 588.78L655.53 591.05L655.6 588.91L655.67 593.06L655.74 592.91L655.81 588.96L655.88 591.63L655.95 587.68L656.02 589.84L656.09 590.8L656.15 586.49L656.22 589.01L656.29 584.84L656.36 586.19L656.43 585.79L656.5 590.1L656.57 586.45L656.64 592.01L656.71 586.42L656.78 586.95L656.84 585.83L656.91 588.17L656.98 587.13L657.05 587.72L657.12 589.13L657.19 587.91L657.26 586.78L657.32 586L657.39 588.33L657.46 592.7L657.53 591.34L657.6 588.54L657.67 587.18L657.73 590.64L657.8 588.91L657.87 587.3L657.94 587.55L658.01 587.29L658.07 586.61L658.14 588.12L658.21 587.53L658.28 588.95L658.34 588.11L658.41 586.5L658.48 589.84L658.55 594.31L658.62 587.57L658.68 590.88L658.75 588.8L658.82 591.09L658.88 597.71L658.95 593.93L659.02 590.1L659.09 590.04L659.15 590.64L659.22 593.28L659.29 591.4L659.36 590.44L659.42 593.36L659.49 589.08L659.56 591.73L659.62 596.87L659.69 592.48L659.76 593.11L659.82 591.78L659.89 592.11L659.96 591.68L660.02 592.39L660.09 591.83L660.16 589.45L660.22 594.44L660.29 593.03L660.36 597.61L660.42 596.7L660.49 596.81L660.56 598.27L660.62 598.55L660.69 594.2L660.75 598.44L660.82 600.04L660.89 596.2L660.95 592.04L661.02 593.6L661.08 594.1L661.15 592.47L661.22 591.83L661.28 597.37L661.35 592.81L661.41 592.55L661.48 594.85L661.54 591.35L661.61 598.39L661.68 593.25L661.74 593.7L661.81 590.14L661.87 591.58L661.94 595.01L662 592.92L662.07 592.32L662.13 592.03L662.2 593.75L662.26 589.23L662.33 597.06L662.39 595.51L662.46 595.71L662.52 589.8L662.59 594.14L662.65 597.96L662.72 593.1L662.78 592.2L662.85 590.85L662.91 592.98L662.98 595.97L663.04 591.22L663.11 592.31L663.17 597.06L663.24 592.92L663.3 595.26L663.37 595.33L663.43 598.03L663.5 594.22L663.56 595.94L663.62 594.28L663.69 599.78L663.75 595.35L663.82 600.95L663.88 594.54L663.95 595.69L664.01 600L664.07 596.99L664.14 597.73L664.2 595.24L664.27 595.6L664.33 594.82L664.39 596.11L664.46 598.51L664.52 599.22L664.59 597.64L664.65 592.39L664.71 598.71L664.78 598.05L664.84 595.33L664.9 595.12L664.97 591.32L665.03 593.74L665.09 597.84L665.16 600.18L665.22 595.54L665.28 593.71L665.35 594.94L665.41 596.25L665.47 593.17L665.54 595.21L665.6 596.62L665.66 598.28L665.73 594.31L665.79 593.18L665.85 595.19L665.92 594.42L665.98 594.86L666.04 594.38L666.1 595.7L666.17 594.49L666.23 597.41L666.29 595.65L666.36 595.04L666.42 601.7L666.48 598.76L666.54 597.82L666.61 597.02L666.67 594.65L666.73 600.41L666.79 601.22L666.86 598.17L666.92 600.67L666.98 598.72L667.04 600.54L667.1 601.01L667.17 598.95L667.23 599.33L667.29 602.07L667.35 598.91L667.42 597.09L667.48 596.49L667.54 599.39L667.6 604.58L667.66 599.6L667.73 600.68L667.79 601.42L667.85 598.68L667.91 602.58L667.97 594.49L668.03 597.71L668.1 602.01L668.16 598.59L668.22 601.17L668.28 601.44L668.34 597.75L668.4 594.3L668.46 595.39L668.53 598.32L668.59 603.97L668.65 597.93L668.71 592.69L668.77 596.65L668.83 596.74L668.89 597.07L668.96 598.43L669.02 589.85L669.08 604.71L669.14 599.87L669.2 598.9L669.26 597.9L669.32 594.46L669.38 596.03L669.44 602.77L669.5 598.65L669.56 598.62L669.63 596.34L669.69 595.78L669.75 596.93L669.81 600.05L669.87 600.08L669.93 599.39L669.99 593.81L670.05 595.48L670.11 595.82L670.17 594.15L670.23 598.51L670.29 594.64L670.35 604.36L670.41 598.04L670.47 597.18L670.53 595.3L670.59 596.83L670.65 602.36L670.71 594.3L670.77 596.85L670.83 601.82L670.89 592.49L670.95 598.35L671.01 596.51L671.07 601.86L671.13 596.75L671.19 596.01L671.25 598.82L671.31 604.89L671.37 598.5L671.43 599.89L671.49 600.21L671.55 597.77L671.61 599.01L671.67 599.39L671.73 601.59L671.79 599.98L671.85 599.65L671.91 596.71L671.97 607.17L672.03 600.49L672.09 600.6L672.15 603.92L672.2 607.03L672.26 602.35L672.32 603.21L672.38 599.84L672.44 602.64L672.5 603.53L672.56 600.74L672.62 604.13L672.68 599.27L672.74 607.28L672.8 598.41L672.85 604.56L672.91 599L672.97 602.7L673.03 605.28L673.09 596.53L673.15 599.73L673.21 599.87L673.27 596.74L673.32 598.17L673.38 603.55L673.44 596.59L673.5 598.21L673.56 595.78L673.62 596.44L673.68 600.34L673.73 602.88L673.79 595.88L673.85 601.2L673.91 601.11L673.97 595.1L674.03 601.04L674.08 597.13L674.14 597.22L674.2 597.56L674.26 598.38L674.32 600.52L674.37 602.88L674.43 605.02L674.49 598.32L674.55 607.96L674.61 599.99L674.66 598.02L674.72 604.56L674.78 604.67L674.84 607.01L674.89 606.55L674.95 607.45L675.01 601.43L675.07 602.55L675.13 602.03L675.18 604.56L675.24 602.1L675.3 608.42L675.36 605.25L675.41 605.86L675.47 602.45L675.53 602.36L675.59 602.65L675.64 603.54L675.7 598.12L675.76 601.05L675.81 605.91L675.87 604.2L675.93 605.77L675.99 603.29L676.04 602.19L676.1 604.12L676.16 602.63L676.21 606.3L676.27 604.18L676.33 605.29L676.38 606.56L676.44 603.18L676.5 603.35L676.56 604.1L676.61 605.23L676.67 610.93L676.73 605.35L676.78 605.5L676.84 610.1L676.9 611.9L676.95 608.56L677.01 611.04L677.07 607.14L677.12 607.6L677.18 607.13L677.24 610.12L677.29 607.07L677.35 606.69L677.4 604.24L677.46 604.3L677.52 606.57L677.57 606.06L677.63 610.64L677.69 606.11L677.74 609.27L677.8 606.97L677.85 604.86L677.91 604.73L677.97 607.03L678.02 608.6L678.08 605.41L678.13 612.68L678.19 611.5L678.25 612.62L678.3 610.12L678.36 612.61L678.41 612.16L678.47 605.84L678.53 608.68L678.58 617.29L678.64 608.6L678.69 612.43L678.75 613.21L678.8 611.53L678.86 612.7L678.91 620.11L678.97 606.33L679.03 607.6L679.08 617.64L679.14 615.19L679.19 609.56L679.25 617.88L679.3 608.88L679.36 608.9L679.41 610.97L679.47 609.79L679.52 610.99L679.58 609.11L679.63 608.63L679.69 609.97L679.74 614.38L679.8 608.59L679.85 608.4L679.91 613.47L679.96 610.12L680.02 619.09L680.07 618.78L680.13 608.98L680.18 605.51L680.24 607.74L680.29 611.95L680.35 608.9L680.4 614.94L680.46 607.57L680.51 609.3L680.57 611.13L680.62 616.73L680.68 608.21L680.73 612.77L680.79 611.08L680.84 612.16L680.89 610.67L680.95 611.33L681 612.91L681.06 613.94L681.11 610.86L681.17 614.43L681.22 615.71L681.28 619.53L681.33 615.11L681.38 623.46L681.44 612.25L681.49 613.02L681.55 615.33L681.6 617.38L681.65 622.81L681.71 619.5L681.76 619.48L681.82 617.8L681.87 614.28L681.93 624.32L681.98 619.94L682.03 614.06L682.09 615.27L682.14 615.24L682.19 618.73L682.25 618.33L682.3 618.22L682.36 613.82L682.41 617.59L682.46 615.47L682.52 612.83L682.57 615.22L682.62 613.56L682.68 613.74L682.73 616.11L682.78 612L682.84 623.68L682.89 616.93L682.94 615.5L683 618.41L683.05 613.65L683.11 619.62L683.16 606.92L683.21 614.67L683.27 611.99L683.32 609.17L683.37 618.71L683.42 618.36L683.48 612.52L683.53 619.52L683.58 622.49L683.64 612.08L683.69 615.8L683.74 615.01L683.8 610.43L683.85 610.53L683.9 615.99L683.96 607.82L684.01 611.47L684.06 613.92L684.11 614.38L684.17 611.18L684.22 613.11L684.27 617.27L684.32 615.71L684.38 618.76L684.43 618.04L684.48 617.17L684.54 612.23L684.59 614.51L684.64 614.88L684.69 619.04L684.75 614.6L684.8 613.07L684.85 616.02L684.9 612.91L684.96 617.12L685.01 626.95L685.06 614.29L685.11 626.75L685.16 616.04L685.22 618.2L685.27 620.48L685.32 620.4L685.37 620.74L685.43 623.75L685.48 626.64L685.53 629.12L685.58 619.67L685.63 617.47L685.69 614.86L685.74 619.64L685.79 617.08L685.84 618.81L685.89 612.47L685.95 623.81L686 623.81L686.05 620.01L686.1 621.15L686.15 613.2L686.21 619.23L686.26 618.4L686.31 614.57L686.36 623.27L686.41 614.25L686.46 615.87L686.52 621.61L686.57 616.13L686.62 621.08L686.67 616.6L686.72 613.41L686.77 615.18L686.82 613.36L686.88 615L686.93 616.35L686.98 619.34L687.03 621.58L687.08 612.45L687.13 616.19L687.18 616.49L687.24 621.96L687.29 620.36L687.34 617.45L687.39 614.01L687.44 617.18L687.49 613.82L687.54 613.04L687.59 621.44L687.64 616.47L687.7 615.69L687.75 623.81L687.8 619.54L687.85 635.33L687.9 630.01L687.95 625.91L688 620.39L688.05 619.11L688.1 634.57L688.15 621.33L688.2 615.01L688.26 622.77L688.31 624.5L688.36 626.72L688.41 617.44L688.46 637.56L688.51 627.22L688.56 630.14L688.61 631.85L688.66 629.96L688.71 634.28L688.76 629.99L688.81 638.31L688.86 626.41L688.91 624.64L688.96 624.81L689.01 632.11L689.06 632.04L689.11 623.42L689.17 622.63L689.22 624.76L689.27 626.44L689.32 623.74L689.37 634.37L689.42 622.42L689.47 624.38L689.52 622.06L689.57 625.04L689.62 626.76L689.67 624.07L689.72 624.83L689.77 620.1L689.82 629.77L689.87 623.68L689.92 624.15L689.97 623.64L690.02 630.96L690.07 632.29L690.12 628.81L690.17 622.85L690.22 630.19L690.27 623.33L690.32 625.01L690.37 621.64L690.42 623.75L690.47 634.26L690.51 626.28L690.56 624.77L690.61 635.62L690.66 627.22L690.71 631.25L690.76 622.54L690.81 622.25L690.86 621.93L690.91 630.34L690.96 622.24L691.01 634.12L691.06 639.63L691.11 632.27L691.16 630.83L691.21 640L691.26 629.52L691.31 645L691.36 635.44" stroke="#fb8f2b"/>
</g>
<line x1="136.4" y1="571.4" x2="690.9" y2="571.4" stroke="#2a2a2a" stroke-width="1.15" stroke-dasharray="3.9 2.3"/>
<line x1="146.3" y1="649.8" x2="183.1" y2="649.8" stroke="#983a9a" stroke-width="1.3"/>
<text x="187.6" y="655.8" font-size="14.3" fill="#111" text-anchor="start" font-weight="normal">400 mA</text>
<line x1="146.3" y1="670.05" x2="183.1" y2="670.05" stroke="#22b0a6" stroke-width="1.3"/>
<text x="187.6" y="676.05" font-size="14.3" fill="#111" text-anchor="start" font-weight="normal">440 mA</text>
<line x1="146.3" y1="690.3" x2="183.1" y2="690.3" stroke="#ff9a38" stroke-width="1.3"/>
<text x="187.6" y="696.3" font-size="14.3" fill="#111" text-anchor="start" font-weight="normal">460 mA</text>
</g>
</svg>
</body></html>
